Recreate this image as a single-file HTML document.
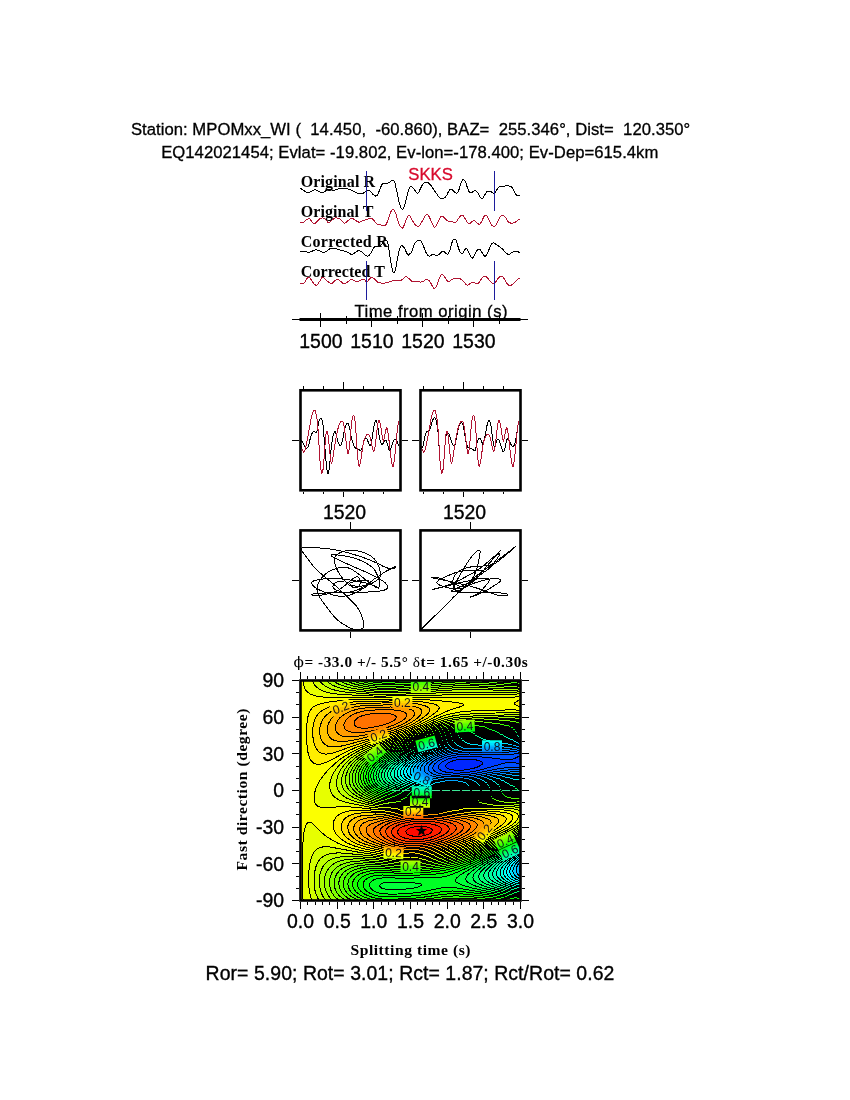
<!DOCTYPE html><html><head><meta charset="utf-8"><title>SKKS splitting measurement MPOMxx_WI</title>
<style>
html,body{margin:0;padding:0;background:#fff}
svg{display:block}
text{font-family:"Liberation Sans",sans-serif;fill:#000;white-space:pre}
.tb{font-family:"Liberation Serif",serif;font-weight:bold}
.h12{font-size:16.67px;stroke:#000;stroke-width:.3px}
.h14{font-size:19.44px;stroke:#000;stroke-width:.35px}
.ln{fill:none;stroke:#000;stroke-width:1;shape-rendering:crispEdges}
.fr{fill:none;stroke:#000;stroke-width:2.6}
</style></head><body>
<svg width="850" height="1100" viewBox="0 0 850 1100">
<rect width="850" height="1100" fill="#fff"/>
<text class="h12" x="410.55" y="135" text-anchor="middle" textLength="559.3" lengthAdjust="spacing">Station: MPOMxx_WI (  14.450,  -60.860), BAZ=  255.346°, Dist=  120.350°</text>
<text class="h12" x="409.75" y="157.6" text-anchor="middle" textLength="497.2" lengthAdjust="spacing">EQ142021454; Evlat= -19.802, Ev-lon=-178.400; Ev-Dep=615.4km</text>
<g id="seis">
<text class="tb" style="font-size:16px" x="300.8" y="186.5" textLength="74.3" lengthAdjust="spacing">Original R</text>
<text class="tb" style="font-size:16px" x="300.8" y="216.5" textLength="72.6" lengthAdjust="spacing">Original T</text>
<text class="tb" style="font-size:16px" x="300.8" y="246.5" textLength="87" lengthAdjust="spacing">Corrected R</text>
<text class="tb" style="font-size:16px" x="300.8" y="276.5" textLength="84.2" lengthAdjust="spacing">Corrected T</text>
<text class="h12" x="408.3" y="179.8" style="fill:#d80a2c;stroke:#d80a2c">SKKS</text>
<path class="ln" d="M300.4,188.3 300.9,188.6 301.4,189.0 301.9,189.3 302.4,189.7 302.9,190.0 303.4,190.3 303.9,190.7 304.4,191.0 304.9,191.3 305.4,191.7 305.9,191.9 306.4,192.2 306.9,192.4 307.4,192.5 307.9,192.5 308.4,192.5 308.9,192.4 309.4,192.3 309.9,192.1 310.4,191.9 310.9,191.7 311.4,191.4 311.9,191.2 312.4,190.9 312.9,190.6 313.4,190.2 313.9,190.0 314.4,189.8 314.9,189.7 315.4,189.7 315.9,189.9 316.4,190.1 316.9,190.3 317.4,190.6 317.9,190.9 318.4,191.2 318.9,191.4 319.4,191.7 319.9,191.9 320.4,192.1 320.9,192.3 321.4,192.4 321.9,192.5 322.4,192.5 322.9,192.5 323.4,192.3 323.9,192.0 324.4,191.7 324.9,191.4 325.4,191.1 325.9,190.8 326.4,190.5 326.9,190.1 327.4,189.8 327.9,189.6 328.4,189.4 328.9,189.3 329.4,189.3 329.9,189.4 330.4,189.5 330.9,189.6 331.4,189.8 331.9,189.9 332.4,190.0 332.9,190.1 333.4,190.1 333.9,190.1 334.4,190.1 334.9,190.0 335.4,189.8 335.9,189.7 336.4,189.6 336.9,189.4 337.4,189.3 337.9,189.2 338.4,189.0 338.9,188.9 339.4,188.8 339.9,188.7 340.4,188.6 340.9,188.5 341.4,188.4 341.9,188.4 342.4,188.3 342.9,188.3 343.4,188.3 343.9,188.3 344.4,188.3 344.9,188.4 345.4,188.4 345.9,188.5 346.4,188.6 346.9,188.6 347.4,188.7 347.9,188.9 348.4,189.0 348.9,189.2 349.4,189.4 349.9,189.7 350.4,189.9 350.9,190.1 351.4,190.4 351.9,190.6 352.4,190.9 352.9,191.1 353.4,191.4 353.9,191.6 354.4,191.9 354.9,192.1 355.4,192.4 355.9,192.6 356.4,192.8 356.9,193.0 357.4,193.2 357.9,193.4 358.4,193.6 358.9,193.7 359.4,193.8 359.9,193.9 360.4,193.9 360.9,193.9 361.4,193.9 361.9,193.7 362.4,193.5 362.9,193.3 363.4,193.0 363.9,192.7 364.4,192.4 364.9,192.0 365.4,191.5 365.9,191.1 366.4,190.7 366.9,190.4 367.4,190.4 367.9,190.4 368.4,190.5 368.9,190.7 369.4,190.9 369.9,191.1 370.4,191.5 370.9,192.0 371.4,192.5 371.9,193.1 372.4,193.7 372.9,194.2 373.4,194.7 373.9,195.1 374.4,195.5 374.9,195.8 375.4,196.0 375.9,196.1 376.4,196.0 376.9,195.6 377.4,194.9 377.9,194.1 378.4,193.1 378.9,191.9 379.4,190.4 379.9,189.0 380.4,187.7 380.9,186.6 381.4,185.6 381.9,184.7 382.4,184.0 382.9,183.5 383.4,183.3 383.9,183.2 384.4,183.2 384.9,183.3 385.4,183.3 385.9,183.3 386.4,183.4 386.9,183.3 387.4,183.2 387.9,183.1 388.4,182.9 388.9,182.7 389.4,182.4 389.9,182.0 390.4,181.6 390.9,181.1 391.4,180.7 391.9,180.4 392.4,180.3 392.9,180.2 393.4,180.4 393.9,180.9 394.4,181.6 394.9,182.9 395.4,184.9 395.9,187.2 396.4,189.5 396.9,191.9 397.4,194.3 397.9,196.6 398.4,198.8 398.9,201.1 399.4,203.2 399.9,205.0 400.4,206.4 400.9,207.6 401.4,208.5 401.9,209.2 402.4,209.5 402.9,209.3 403.4,208.6 403.9,207.5 404.4,206.1 404.9,204.4 405.4,202.5 405.9,200.3 406.4,198.1 406.9,196.1 407.4,194.1 407.9,192.1 408.4,190.5 408.9,189.2 409.4,188.1 409.9,187.2 410.4,186.6 410.9,186.4 411.4,186.5 411.9,186.7 412.4,187.1 412.9,187.6 413.4,188.2 413.9,188.8 414.4,189.6 414.9,190.4 415.4,191.2 415.9,191.9 416.4,192.6 416.9,193.0 417.4,193.2 417.9,193.2 418.4,192.7 418.9,191.9 419.4,190.8 419.9,189.7 420.4,188.6 420.9,187.6 421.4,186.6 421.9,185.6 422.4,184.7 422.9,183.9 423.4,183.3 423.9,183.0 424.4,182.7 424.9,182.4 425.4,182.3 425.9,182.2 426.4,182.2 426.9,182.3 427.4,182.5 427.9,182.7 428.4,183.0 428.9,183.4 429.4,183.8 429.9,184.2 430.4,184.8 430.9,185.4 431.4,186.1 431.9,186.9 432.4,187.7 432.9,188.5 433.4,189.2 433.9,189.9 434.4,190.6 434.9,191.3 435.4,192.0 435.9,192.7 436.4,193.4 436.9,194.1 437.4,194.8 437.9,195.5 438.4,196.3 438.9,197.0 439.4,197.5 439.9,198.0 440.4,198.2 440.9,198.3 441.4,198.4 441.9,198.4 442.4,198.4 442.9,198.4 443.4,198.3 443.9,198.2 444.4,197.9 444.9,197.6 445.4,197.1 445.9,196.5 446.4,195.8 446.9,195.0 447.4,194.0 447.9,192.8 448.4,191.8 448.9,191.0 449.4,190.3 449.9,189.8 450.4,189.4 450.9,189.3 451.4,189.4 451.9,189.6 452.4,189.9 452.9,190.3 453.4,190.8 453.9,191.3 454.4,191.8 454.9,192.3 455.4,192.7 455.9,193.1 456.4,193.2 456.9,193.1 457.4,192.7 457.9,192.0 458.4,191.0 458.9,189.9 459.4,188.2 459.9,186.4 460.4,184.6 460.9,183.1 461.4,181.9 461.9,180.9 462.4,180.1 462.9,179.6 463.4,179.5 463.9,179.8 464.4,180.2 464.9,180.9 465.4,181.8 465.9,183.0 466.4,184.5 466.9,186.2 467.4,187.8 467.9,189.1 468.4,190.2 468.9,191.2 469.4,192.0 469.9,192.5 470.4,192.9 470.9,192.9 471.4,192.8 471.9,192.5 472.4,192.1 472.9,191.7 473.4,191.3 473.9,190.9 474.4,190.6 474.9,190.4 475.4,190.5 475.9,190.7 476.4,191.2 476.9,191.7 477.4,192.3 477.9,193.1 478.4,194.0 478.9,194.9 479.4,195.8 479.9,196.6 480.4,197.3 480.9,198.0 481.4,198.4 481.9,198.6 482.4,198.4 482.9,197.9 483.4,197.2 483.9,196.4 484.4,195.5 484.9,194.6 485.4,193.7 485.9,192.9 486.4,192.3 486.9,191.8 487.4,191.5 487.9,191.2 488.4,191.1 488.9,191.1 489.4,191.2 489.9,191.3 490.4,191.5 490.9,191.7 491.4,192.0 491.9,192.3 492.4,192.6 492.9,192.9 493.4,193.2 493.9,193.2 494.4,193.1 494.9,192.7 495.4,192.1 495.9,191.4 496.4,190.6 496.9,189.7 497.4,188.8 497.9,187.9 498.4,187.4 498.9,187.1 499.4,186.8 499.9,186.6 500.4,186.5 500.9,186.5 501.4,186.4 501.9,186.4 502.4,186.4 502.9,186.3 503.4,186.2 503.9,186.2 504.4,186.1 504.9,186.1 505.4,186.0 505.9,185.9 506.4,185.9 506.9,185.9 507.4,185.9 507.9,185.9 508.4,185.9 508.9,186.0 509.4,186.0 509.9,186.1 510.4,186.3 510.9,186.5 511.4,186.8 511.9,187.3 512.4,188.0 512.9,188.8 513.4,189.7 513.9,190.7 514.4,191.8 514.9,192.8 515.4,193.6 515.9,194.3 516.4,194.8 516.9,195.2 517.4,195.4 517.9,195.4 518.4,195.5 518.9,195.5 519.4,195.4 519.9,195.4"/>
<path class="ln" style="stroke:#b01432" d="M300.4,222.9 300.9,222.9 301.4,222.9 301.9,222.8 302.4,222.7 302.9,222.5 303.4,222.2 303.9,221.9 304.4,221.6 304.9,221.1 305.4,220.7 305.9,220.2 306.4,219.8 306.9,219.4 307.4,219.1 307.9,218.9 308.4,218.7 308.9,218.6 309.4,218.7 309.9,219.1 310.4,219.7 310.9,220.3 311.4,220.9 311.9,221.6 312.4,222.2 312.9,222.8 313.4,223.3 313.9,223.6 314.4,223.6 314.9,223.4 315.4,223.0 315.9,222.5 316.4,222.0 316.9,221.5 317.4,221.0 317.9,220.5 318.4,219.9 318.9,219.5 319.4,219.0 319.9,218.7 320.4,218.4 320.9,218.2 321.4,218.1 321.9,218.0 322.4,217.9 322.9,217.9 323.4,218.0 323.9,218.1 324.4,218.5 324.9,218.9 325.4,219.3 325.9,219.9 326.4,220.4 326.9,221.0 327.4,221.7 327.9,222.3 328.4,222.7 328.9,222.9 329.4,222.8 329.9,222.4 330.4,221.9 330.9,221.3 331.4,220.7 331.9,220.2 332.4,219.7 332.9,219.3 333.4,219.0 333.9,218.6 334.4,218.4 334.9,218.2 335.4,218.0 335.9,217.9 336.4,217.9 336.9,217.9 337.4,218.0 337.9,218.1 338.4,218.2 338.9,218.4 339.4,218.7 339.9,219.1 340.4,219.5 340.9,220.0 341.4,220.5 341.9,221.0 342.4,221.6 342.9,222.1 343.4,222.6 343.9,223.0 344.4,223.2 344.9,223.1 345.4,222.9 345.9,222.6 346.4,222.2 346.9,221.8 347.4,221.3 347.9,220.8 348.4,220.4 348.9,219.9 349.4,219.5 349.9,219.1 350.4,218.8 350.9,218.6 351.4,218.6 351.9,218.6 352.4,218.7 352.9,218.8 353.4,219.0 353.9,219.2 354.4,219.4 354.9,219.7 355.4,220.1 355.9,220.5 356.4,221.0 356.9,221.3 357.4,221.6 357.9,221.8 358.4,222.0 358.9,222.2 359.4,222.2 359.9,222.1 360.4,221.9 360.9,221.7 361.4,221.5 361.9,221.2 362.4,220.9 362.9,220.7 363.4,220.5 363.9,220.4 364.4,220.2 364.9,220.0 365.4,219.9 365.9,219.7 366.4,219.6 366.9,219.4 367.4,219.2 367.9,219.0 368.4,218.8 368.9,218.7 369.4,218.5 369.9,218.4 370.4,218.3 370.9,218.3 371.4,218.4 371.9,218.6 372.4,219.0 372.9,219.5 373.4,220.0 373.9,220.6 374.4,221.1 374.9,221.7 375.4,222.3 375.9,222.8 376.4,223.4 376.9,223.8 377.4,224.2 377.9,224.4 378.4,224.6 378.9,224.7 379.4,224.7 379.9,224.8 380.4,224.9 380.9,224.9 381.4,225.1 381.9,225.2 382.4,225.4 382.9,225.6 383.4,225.7 383.9,225.8 384.4,225.8 384.9,225.6 385.4,225.2 385.9,224.6 386.4,223.8 386.9,222.8 387.4,221.7 387.9,220.5 388.4,218.9 388.9,217.2 389.4,215.6 389.9,214.1 390.4,212.8 390.9,211.8 391.4,210.9 391.9,210.2 392.4,209.7 392.9,209.5 393.4,209.5 393.9,209.9 394.4,210.6 394.9,211.5 395.4,212.6 395.9,214.0 396.4,215.7 396.9,217.5 397.4,219.3 397.9,220.9 398.4,222.3 398.9,223.5 399.4,224.6 399.9,225.6 400.4,226.4 400.9,227.1 401.4,227.7 401.9,228.1 402.4,228.2 402.9,227.8 403.4,226.8 403.9,225.7 404.4,224.4 404.9,223.2 405.4,221.9 405.9,220.5 406.4,219.3 406.9,218.0 407.4,217.0 407.9,215.9 408.4,215.2 408.9,215.1 409.4,215.4 409.9,216.1 410.4,216.9 410.9,217.8 411.4,218.7 411.9,219.5 412.4,220.4 412.9,221.3 413.4,222.2 413.9,223.0 414.4,223.7 414.9,224.3 415.4,224.8 415.9,225.3 416.4,225.7 416.9,226.1 417.4,226.3 417.9,226.4 418.4,226.4 418.9,226.2 419.4,225.7 419.9,225.1 420.4,224.3 420.9,223.5 421.4,222.7 421.9,221.8 422.4,220.9 422.9,219.9 423.4,218.9 423.9,218.0 424.4,217.1 424.9,216.4 425.4,215.7 425.9,215.1 426.4,214.6 426.9,214.4 427.4,214.5 427.9,215.0 428.4,215.6 428.9,216.3 429.4,217.2 429.9,218.2 430.4,219.4 430.9,220.6 431.4,221.9 431.9,223.0 432.4,224.0 432.9,225.1 433.4,226.0 433.9,226.7 434.4,227.1 434.9,227.1 435.4,226.6 435.9,225.9 436.4,225.0 436.9,224.1 437.4,223.1 437.9,222.1 438.4,221.0 438.9,219.9 439.4,219.0 439.9,218.2 440.4,217.5 440.9,216.8 441.4,216.4 441.9,216.1 442.4,216.1 442.9,216.4 443.4,216.7 443.9,217.2 444.4,217.7 444.9,218.3 445.4,218.8 445.9,219.3 446.4,219.8 446.9,220.3 447.4,220.8 447.9,221.1 448.4,221.4 448.9,221.5 449.4,221.5 449.9,221.5 450.4,221.4 450.9,221.4 451.4,221.4 451.9,221.4 452.4,221.5 452.9,221.7 453.4,222.1 453.9,222.4 454.4,222.7 454.9,222.9 455.4,222.8 455.9,222.4 456.4,221.8 456.9,221.0 457.4,220.2 457.9,219.5 458.4,218.7 458.9,218.0 459.4,217.4 459.9,216.7 460.4,216.2 460.9,215.7 461.4,215.4 461.9,215.2 462.4,215.1 462.9,215.4 463.4,216.0 463.9,216.6 464.4,217.3 464.9,218.2 465.4,219.2 465.9,220.1 466.4,221.1 466.9,221.9 467.4,222.4 467.9,222.9 468.4,223.3 468.9,223.5 469.4,223.6 469.9,223.6 470.4,223.3 470.9,222.8 471.4,222.2 471.9,221.6 472.4,221.3 472.9,221.0 473.4,220.8 473.9,220.8 474.4,220.8 474.9,221.0 475.4,221.4 475.9,221.8 476.4,222.3 476.9,222.8 477.4,223.2 477.9,223.7 478.4,224.0 478.9,224.3 479.4,224.2 479.9,223.9 480.4,223.4 480.9,222.6 481.4,221.8 481.9,220.9 482.4,219.9 482.9,218.8 483.4,217.8 483.9,216.8 484.4,216.1 484.9,215.6 485.4,215.2 485.9,215.1 486.4,215.4 486.9,216.1 487.4,216.9 487.9,217.8 488.4,218.8 488.9,219.8 489.4,220.9 489.9,222.0 490.4,223.0 490.9,223.9 491.4,224.6 491.9,225.2 492.4,225.7 492.9,226.1 493.4,226.3 493.9,226.4 494.4,226.3 494.9,226.0 495.4,225.5 495.9,224.9 496.4,224.2 496.9,223.4 497.4,222.5 497.9,221.5 498.4,220.3 498.9,219.3 499.4,218.3 499.9,217.5 500.4,216.8 500.9,216.1 501.4,215.6 501.9,215.3 502.4,215.1 502.9,215.2 503.4,215.4 503.9,215.8 504.4,216.2 504.9,216.8 505.4,217.4 505.9,218.1 506.4,219.0 506.9,219.8 507.4,220.6 507.9,221.3 508.4,221.8 508.9,222.2 509.4,222.5 509.9,222.8 510.4,223.0 510.9,223.1 511.4,223.2 511.9,223.2 512.4,223.1 512.9,223.0 513.4,222.9 513.9,222.7 514.4,222.5 514.9,222.3 515.4,222.0 515.9,221.7 516.4,221.3 516.9,220.9 517.4,220.5 517.9,220.1 518.4,219.8 518.9,219.5 519.4,219.3 519.9,219.1"/>
<path class="ln" d="M300.4,251.3 300.9,251.2 301.4,251.1 301.9,251.0 302.4,251.0 302.9,251.0 303.4,251.1 303.9,251.1 304.4,251.2 304.9,251.3 305.4,251.4 305.9,251.5 306.4,251.7 306.9,251.9 307.4,252.0 307.9,252.2 308.4,252.2 308.9,252.3 309.4,252.3 309.9,252.2 310.4,252.0 310.9,251.8 311.4,251.5 311.9,251.3 312.4,251.0 312.9,250.8 313.4,250.6 313.9,250.4 314.4,250.2 314.9,250.1 315.4,250.0 315.9,249.9 316.4,249.9 316.9,249.9 317.4,250.0 317.9,250.1 318.4,250.3 318.9,250.5 319.4,250.8 319.9,251.0 320.4,251.3 320.9,251.5 321.4,251.7 321.9,251.9 322.4,252.0 322.9,252.2 323.4,252.3 323.9,252.3 324.4,252.2 324.9,252.1 325.4,251.9 325.9,251.6 326.4,251.3 326.9,251.0 327.4,250.7 327.9,250.3 328.4,249.9 328.9,249.4 329.4,249.0 329.9,248.7 330.4,248.4 330.9,248.3 331.4,248.2 331.9,248.1 332.4,248.0 332.9,248.0 333.4,248.0 333.9,248.1 334.4,248.1 334.9,248.3 335.4,248.4 335.9,248.6 336.4,248.8 336.9,249.0 337.4,249.2 337.9,249.4 338.4,249.6 338.9,249.7 339.4,249.9 339.9,250.1 340.4,250.3 340.9,250.4 341.4,250.5 341.9,250.6 342.4,250.7 342.9,250.8 343.4,250.8 343.9,250.9 344.4,251.0 344.9,251.0 345.4,251.2 345.9,251.3 346.4,251.5 346.9,251.8 347.4,252.1 347.9,252.4 348.4,252.8 348.9,253.1 349.4,253.4 349.9,253.7 350.4,253.9 350.9,254.2 351.4,254.3 351.9,254.4 352.4,254.4 352.9,254.2 353.4,253.9 353.9,253.6 354.4,253.2 354.9,252.8 355.4,252.4 355.9,252.0 356.4,251.6 356.9,251.3 357.4,251.0 357.9,250.9 358.4,250.8 358.9,250.8 359.4,250.9 359.9,251.0 360.4,251.2 360.9,251.4 361.4,251.7 361.9,252.0 362.4,252.5 362.9,252.9 363.4,253.4 363.9,253.9 364.4,254.3 364.9,254.7 365.4,255.1 365.9,255.5 366.4,255.9 366.9,256.1 367.4,256.2 367.9,256.2 368.4,256.0 368.9,255.6 369.4,255.0 369.9,254.4 370.4,253.7 370.9,252.9 371.4,252.0 371.9,251.1 372.4,250.1 372.9,249.2 373.4,248.5 373.9,247.8 374.4,247.2 374.9,246.7 375.4,246.4 375.9,246.3 376.4,246.3 376.9,246.3 377.4,246.3 377.9,246.3 378.4,246.4 378.9,246.3 379.4,246.1 379.9,245.9 380.4,245.5 380.9,245.2 381.4,244.7 381.9,244.1 382.4,243.4 382.9,242.7 383.4,242.0 383.9,241.3 384.4,240.7 384.9,240.2 385.4,240.0 385.9,240.0 386.4,240.3 386.9,240.9 387.4,241.9 387.9,243.5 388.4,246.0 388.9,249.1 389.4,252.4 389.9,256.1 390.4,259.5 390.9,262.6 391.4,265.5 391.9,267.9 392.4,269.8 392.9,271.4 393.4,272.5 393.9,272.9 394.4,272.4 394.9,271.2 395.4,269.5 395.9,267.4 396.4,264.7 396.9,261.8 397.4,259.0 397.9,256.4 398.4,253.9 398.9,251.8 399.4,250.0 399.9,248.5 400.4,247.3 400.9,246.3 401.4,245.7 401.9,245.6 402.4,245.8 402.9,246.2 403.4,246.7 403.9,247.3 404.4,248.1 404.9,249.0 405.4,250.1 405.9,251.3 406.4,252.4 406.9,253.4 407.4,254.4 407.9,255.1 408.4,255.2 408.9,254.5 409.4,253.9 409.9,253.7 410.4,253.5 410.9,253.2 411.4,252.7 411.9,251.6 412.4,250.0 412.9,248.2 413.4,246.6 413.9,245.4 414.4,244.3 414.9,243.3 415.4,242.5 415.9,241.9 416.4,241.3 416.9,240.9 417.4,240.5 417.9,240.2 418.4,240.1 418.9,240.0 419.4,240.1 419.9,240.3 420.4,240.6 420.9,241.0 421.4,241.6 421.9,242.4 422.4,243.5 422.9,244.7 423.4,246.0 423.9,247.3 424.4,248.5 424.9,249.8 425.4,251.0 425.9,252.2 426.4,253.3 426.9,254.1 427.4,254.8 427.9,255.3 428.4,255.8 428.9,256.1 429.4,256.2 429.9,256.2 430.4,256.0 430.9,255.6 431.4,255.2 431.9,254.8 432.4,254.6 432.9,254.5 433.4,254.6 433.9,254.7 434.4,254.8 434.9,255.0 435.4,255.1 435.9,255.2 436.4,255.2 436.9,255.2 437.4,255.1 437.9,255.0 438.4,254.8 438.9,254.6 439.4,254.2 439.9,253.7 440.4,253.0 440.9,252.5 441.4,252.0 441.9,251.6 442.4,251.4 442.9,251.3 443.4,251.3 443.9,251.5 444.4,251.9 444.9,252.4 445.4,252.8 445.9,253.3 446.4,253.7 446.9,254.0 447.4,254.1 447.9,253.9 448.4,253.4 448.9,252.6 449.4,251.5 449.9,250.1 450.4,248.2 450.9,246.1 451.4,244.2 451.9,242.8 452.4,241.5 452.9,240.5 453.4,239.8 453.9,239.5 454.4,239.4 454.9,239.4 455.4,239.6 455.9,240.0 456.4,241.0 456.9,242.6 457.4,244.4 457.9,246.1 458.4,247.7 458.9,249.2 459.4,250.5 459.9,251.7 460.4,252.5 460.9,253.1 461.4,253.6 461.9,253.9 462.4,253.7 462.9,253.2 463.4,252.3 463.9,251.3 464.4,250.5 464.9,249.7 465.4,249.1 465.9,248.6 466.4,248.5 466.9,248.8 467.4,249.6 467.9,250.6 468.4,251.7 468.9,252.7 469.4,253.8 469.9,254.8 470.4,255.8 470.9,256.6 471.4,257.3 471.9,257.9 472.4,258.1 472.9,257.7 473.4,257.0 473.9,256.1 474.4,255.2 474.9,254.2 475.4,253.3 475.9,252.3 476.4,251.5 476.9,250.7 477.4,250.2 477.9,249.7 478.4,249.4 478.9,249.2 479.4,249.2 479.9,249.6 480.4,250.1 480.9,250.8 481.4,251.5 481.9,252.3 482.4,253.2 482.9,254.1 483.4,254.8 483.9,255.4 484.4,255.9 484.9,256.2 485.4,256.2 485.9,255.8 486.4,255.1 486.9,254.2 487.4,253.2 487.9,252.1 488.4,251.0 488.9,249.7 489.4,248.5 489.9,247.4 490.4,246.3 490.9,245.3 491.4,244.4 491.9,243.8 492.4,243.3 492.9,243.0 493.4,242.8 493.9,242.9 494.4,243.0 494.9,243.3 495.4,243.7 495.9,244.2 496.4,244.6 496.9,245.0 497.4,245.4 497.9,245.7 498.4,246.0 498.9,246.3 499.4,246.6 499.9,246.9 500.4,247.3 500.9,247.7 501.4,248.1 501.9,248.5 502.4,249.0 502.9,249.6 503.4,250.1 503.9,250.6 504.4,251.2 504.9,251.7 505.4,252.2 505.9,252.7 506.4,253.2 506.9,253.6 507.4,253.9 507.9,254.2 508.4,254.4 508.9,254.4 509.4,254.3 509.9,254.0 510.4,253.6 510.9,253.2 511.4,252.9 511.9,252.5 512.4,252.2 512.9,251.9 513.4,251.6 513.9,251.4 514.4,251.3 514.9,251.2 515.4,251.2 515.9,251.2 516.4,251.2 516.9,251.2 517.4,251.3 517.9,251.6 518.4,251.9 518.9,252.4 519.4,253.1"/>
<path class="ln" style="stroke:#b01432" d="M300.4,283.3 300.9,283.6 301.4,283.8 301.9,283.8 302.4,283.8 302.9,283.7 303.4,283.5 303.9,283.1 304.4,282.6 304.9,281.9 305.4,281.2 305.9,280.5 306.4,279.7 306.9,278.8 307.4,278.0 307.9,277.4 308.4,277.1 308.9,277.2 309.4,277.5 309.9,278.0 310.4,278.6 310.9,279.3 311.4,280.0 311.9,280.8 312.4,281.6 312.9,282.4 313.4,283.1 313.9,283.7 314.4,284.2 314.9,284.6 315.4,285.0 315.9,285.2 316.4,285.1 316.9,284.9 317.4,284.5 317.9,283.9 318.4,283.3 318.9,282.5 319.4,281.8 319.9,280.9 320.4,280.0 320.9,279.1 321.4,278.4 321.9,277.8 322.4,277.5 322.9,277.4 323.4,277.6 323.9,278.0 324.4,278.5 324.9,279.0 325.4,279.5 325.9,280.0 326.4,280.5 326.9,280.9 327.4,281.3 327.9,281.7 328.4,282.0 328.9,282.3 329.4,282.6 329.9,282.9 330.4,283.1 330.9,283.3 331.4,283.4 331.9,283.3 332.4,283.1 332.9,282.7 333.4,282.3 333.9,281.8 334.4,281.3 334.9,280.8 335.4,280.4 335.9,280.1 336.4,279.8 336.9,279.6 337.4,279.5 337.9,279.6 338.4,279.8 338.9,280.1 339.4,280.4 339.9,280.8 340.4,281.2 340.9,281.6 341.4,282.0 341.9,282.4 342.4,282.8 342.9,283.2 343.4,283.5 343.9,283.7 344.4,283.8 344.9,283.7 345.4,283.5 345.9,283.2 346.4,282.9 346.9,282.5 347.4,282.1 347.9,281.7 348.4,281.3 348.9,280.9 349.4,280.5 349.9,280.2 350.4,279.9 350.9,279.6 351.4,279.5 351.9,279.5 352.4,279.7 352.9,279.8 353.4,280.1 353.9,280.3 354.4,280.6 354.9,280.8 355.4,281.1 355.9,281.3 356.4,281.5 356.9,281.6 357.4,281.6 357.9,281.6 358.4,281.4 358.9,281.2 359.4,280.9 359.9,280.6 360.4,280.4 360.9,280.1 361.4,279.9 361.9,279.7 362.4,279.5 362.9,279.4 363.4,279.4 363.9,279.4 364.4,279.6 364.9,280.2 365.4,280.8 365.9,281.4 366.4,281.7 366.9,281.6 367.4,281.3 367.9,280.9 368.4,280.3 368.9,279.8 369.4,279.3 369.9,278.8 370.4,278.3 370.9,277.8 371.4,277.5 371.9,277.4 372.4,277.5 372.9,277.8 373.4,278.2 373.9,278.6 374.4,279.1 374.9,279.6 375.4,280.1 375.9,280.6 376.4,281.0 376.9,281.5 377.4,281.8 377.9,282.2 378.4,282.4 378.9,282.6 379.4,282.7 379.9,282.8 380.4,282.9 380.9,283.0 381.4,283.0 381.9,283.0 382.4,283.1 382.9,283.1 383.4,283.1 383.9,283.0 384.4,283.0 384.9,283.0 385.4,282.9 385.9,282.9 386.4,282.8 386.9,282.8 387.4,282.7 387.9,282.5 388.4,282.4 388.9,282.2 389.4,282.0 389.9,281.8 390.4,281.6 390.9,281.4 391.4,281.2 391.9,281.0 392.4,280.8 392.9,280.7 393.4,280.6 393.9,280.5 394.4,280.5 394.9,280.5 395.4,280.6 395.9,280.6 396.4,280.7 396.9,280.8 397.4,280.9 397.9,280.9 398.4,280.9 398.9,281.0 399.4,280.9 399.9,280.9 400.4,280.7 400.9,280.4 401.4,280.1 401.9,279.8 402.4,279.4 402.9,278.9 403.4,278.5 403.9,278.0 404.4,277.6 404.9,277.1 405.4,276.8 405.9,276.6 406.4,276.7 406.9,277.0 407.4,277.6 407.9,278.1 408.4,278.4 408.9,278.6 409.4,278.8 409.9,279.3 410.4,279.9 410.9,280.4 411.4,280.8 411.9,281.2 412.4,281.5 412.9,281.7 413.4,281.9 413.9,281.9 414.4,281.8 414.9,281.7 415.4,281.6 415.9,281.4 416.4,281.4 416.9,281.4 417.4,281.4 417.9,281.5 418.4,281.6 418.9,281.8 419.4,281.9 419.9,281.9 420.4,282.0 420.9,282.0 421.4,281.9 421.9,281.8 422.4,281.7 422.9,281.6 423.4,281.4 423.9,281.1 424.4,280.7 424.9,280.3 425.4,279.9 425.9,279.6 426.4,279.5 426.9,279.5 427.4,279.6 427.9,279.8 428.4,280.0 428.9,280.4 429.4,280.9 429.9,281.6 430.4,282.5 430.9,283.4 431.4,284.4 431.9,285.2 432.4,286.1 432.9,287.0 433.4,287.7 433.9,288.2 434.4,288.4 434.9,288.2 435.4,287.7 435.9,287.0 436.4,286.0 436.9,285.0 437.4,283.7 437.9,282.2 438.4,280.7 438.9,279.2 439.4,277.9 439.9,276.9 440.4,275.9 440.9,275.2 441.4,274.6 441.9,274.3 442.4,274.4 442.9,274.7 443.4,275.2 443.9,275.8 444.4,276.5 444.9,277.2 445.4,278.0 445.9,278.8 446.4,279.7 446.9,280.4 447.4,281.0 447.9,281.3 448.4,281.4 448.9,281.3 449.4,281.1 449.9,280.9 450.4,280.5 450.9,280.2 451.4,280.0 451.9,279.6 452.4,279.3 452.9,279.1 453.4,278.8 453.9,278.7 454.4,278.5 454.9,278.5 455.4,278.5 455.9,278.4 456.4,278.4 456.9,278.4 457.4,278.5 457.9,278.5 458.4,278.5 458.9,278.6 459.4,278.7 459.9,278.8 460.4,279.0 460.9,279.2 461.4,279.5 461.9,279.8 462.4,280.2 462.9,280.7 463.4,281.3 463.9,281.9 464.4,282.4 464.9,283.1 465.4,283.7 465.9,284.3 466.4,284.8 466.9,285.1 467.4,285.2 467.9,285.1 468.4,284.8 468.9,284.5 469.4,284.2 469.9,283.8 470.4,283.5 470.9,283.1 471.4,282.8 471.9,282.6 472.4,282.4 472.9,282.4 473.4,282.4 473.9,282.6 474.4,282.8 474.9,283.0 475.4,283.2 475.9,283.5 476.4,283.6 476.9,283.8 477.4,283.8 477.9,283.7 478.4,283.4 478.9,282.8 479.4,282.0 479.9,281.2 480.4,280.5 480.9,279.8 481.4,279.0 481.9,278.3 482.4,277.7 482.9,277.1 483.4,276.7 483.9,276.4 484.4,276.1 484.9,276.0 485.4,276.0 485.9,276.3 486.4,276.7 486.9,277.3 487.4,277.9 487.9,278.4 488.4,279.1 488.9,279.8 489.4,280.4 489.9,281.1 490.4,281.6 490.9,282.1 491.4,282.5 491.9,282.8 492.4,283.1 492.9,283.3 493.4,283.3 493.9,283.3 494.4,283.0 494.9,282.7 495.4,282.3 495.9,281.8 496.4,281.3 496.9,280.5 497.4,279.7 497.9,278.8 498.4,278.1 498.9,277.4 499.4,276.9 499.9,276.5 500.4,276.2 500.9,276.0 501.4,276.0 501.9,276.2 502.4,276.5 502.9,277.0 503.4,277.5 503.9,278.2 504.4,278.9 504.9,279.8 505.4,280.8 505.9,281.8 506.4,282.6 506.9,283.4 507.4,284.0 507.9,284.6 508.4,285.1 508.9,285.4 509.4,285.6 509.9,285.6 510.4,285.5 510.9,285.3 511.4,285.1 511.9,284.8 512.4,284.4 512.9,284.0 513.4,283.6 513.9,283.0 514.4,282.5 514.9,281.9 515.4,281.4 515.9,280.9 516.4,280.4 516.9,279.9 517.4,279.4 517.9,279.0 518.4,278.7 518.9,278.5 519.4,278.3 519.9,278.2 520.4,278.1"/>
<path class="ln" style="stroke:#1c1c9c" d="M366.5,171V211M366.5,261V300"/>
<path class="ln" style="stroke:#1c1c9c" d="M494.3,171V211M494.3,261V300"/>
<text class="h12" x="354.5" y="317" textLength="153" lengthAdjust="spacing">Time from origin (s)</text>
<path class="ln" d="M291.5,319.5H527.5"/>
<path class="fr" style="stroke-width:3" d="M299.5,319.5H520.5"/>
<path class="ln" d="M320.9,312.5V327M346.4,316V323.5M371.9,312.5V327M397.4,316V323.5M422.9,312.5V327M448.4,316V323.5M473.9,312.5V327M499.4,316V323.5"/>
<text class="h14" x="320.9" y="348" text-anchor="middle">1500</text>
<text class="h14" x="371.9" y="348" text-anchor="middle">1510</text>
<text class="h14" x="422.9" y="348" text-anchor="middle">1520</text>
<text class="h14" x="473.9" y="348" text-anchor="middle">1530</text>
</g>
<g id="wave1">
<path class="ln" d="M300.7,441.0 301.1,440.9 301.5,441.0 301.9,441.3 302.3,441.6 302.7,442.2 303.1,443.0 303.5,443.9 303.9,444.8 304.3,445.6 304.7,446.4 305.1,447.1 305.5,447.7 305.9,448.2 306.3,448.5 306.7,448.5 307.1,448.2 307.5,447.7 307.9,447.0 308.3,446.1 308.7,445.0 309.1,443.5 309.5,441.8 309.9,440.0 310.3,438.4 310.7,437.0 311.1,435.7 311.5,434.6 311.9,433.7 312.3,432.9 312.7,432.3 313.1,431.8 313.5,431.5 313.9,431.4 314.3,431.6 314.7,431.8 315.1,432.1 315.5,432.4 315.9,432.5 316.3,432.4 316.7,431.8 317.1,430.4 317.5,428.6 317.9,426.7 318.3,424.7 318.7,422.6 319.1,420.8 319.5,419.6 319.9,418.9 320.3,418.5 320.7,418.3 321.1,418.3 321.5,418.6 321.9,419.4 322.3,420.7 322.7,422.7 323.1,426.2 323.5,430.7 323.9,435.5 324.3,440.4 324.7,445.5 325.1,450.6 325.5,455.4 325.9,460.0 326.3,464.3 326.7,467.8 327.1,470.3 327.5,472.2 327.9,473.3 328.3,473.3 328.7,472.1 329.1,469.8 329.5,466.9 329.9,462.7 330.3,457.8 330.7,453.4 331.1,449.5 331.5,445.9 331.9,442.8 332.3,440.1 332.7,437.7 333.1,435.7 333.5,434.0 333.9,432.9 334.3,432.1 334.7,431.7 335.1,431.8 335.5,432.5 335.9,433.9 336.3,435.5 336.7,437.0 337.1,438.4 337.5,439.9 337.9,441.3 338.3,442.4 338.7,443.4 339.1,444.1 339.5,444.8 339.9,445.2 340.3,445.4 340.7,445.2 341.1,444.7 341.5,443.9 341.9,442.7 342.3,441.4 342.7,439.5 343.1,437.3 343.5,434.9 343.9,432.7 344.3,430.7 344.7,428.9 345.1,427.3 345.5,425.9 345.9,424.9 346.3,424.3 346.7,423.7 347.1,423.4 347.5,423.3 347.9,423.5 348.3,424.1 348.7,425.0 349.1,426.1 349.5,427.7 349.9,429.7 350.3,431.9 350.7,434.1 351.1,436.1 351.5,437.9 351.9,439.6 352.3,441.2 352.7,442.5 353.1,443.7 353.5,444.7 353.9,445.7 354.3,446.5 354.7,447.2 355.1,447.7 355.5,448.0 355.9,448.2 356.3,448.4 356.7,448.5 357.1,448.6 357.5,448.7 357.9,448.9 358.3,449.2 358.7,449.5 359.1,449.8 359.5,450.1 359.9,450.3 360.3,450.4 360.7,450.3 361.1,449.9 361.5,449.3 361.9,448.6 362.3,447.5 362.7,446.0 363.1,444.2 363.5,442.4 363.9,440.8 364.3,439.8 364.7,438.9 365.1,438.3 365.5,438.0 365.9,437.9 366.3,438.2 366.7,438.7 367.1,439.5 367.5,440.4 367.9,441.3 368.3,442.2 368.7,443.3 369.1,444.2 369.5,444.9 369.9,445.4 370.3,445.4 370.7,444.7 371.1,443.4 371.5,441.5 371.9,439.4 372.3,437.0 372.7,434.3 373.1,431.4 373.5,428.5 373.9,426.1 374.3,424.2 374.7,422.7 375.1,421.5 375.5,420.7 375.9,420.4 376.3,420.8 376.7,421.6 377.1,423.0 377.5,424.7 377.9,427.2 378.3,430.3 378.7,433.4 379.1,435.9 379.5,438.0 379.9,439.8 380.3,441.3 380.7,442.5 381.1,443.3 381.5,444.0 381.9,444.3 382.3,444.3 382.7,443.9 383.1,443.3 383.5,442.5 383.9,441.8 384.3,441.3 384.7,440.8 385.1,440.5 385.5,440.3 385.9,440.4 386.3,440.9 386.7,441.9 387.1,443.2 387.5,444.5 387.9,445.9 388.3,447.5 388.7,449.0 389.1,450.2 389.5,450.9 389.9,450.9 390.3,450.2 390.7,449.2 391.1,447.9 391.5,446.6 391.9,445.3 392.3,443.9 392.7,442.7 393.1,441.6 393.5,440.8 393.9,440.1 394.3,439.6 394.7,439.3 395.1,439.2 395.5,439.3 395.9,439.6 396.3,440.2 396.7,440.9 397.1,441.7 397.5,442.5 397.9,443.6 398.3,444.7 398.7,446.0"/>
<path class="ln" style="stroke:#b01432" d="M300.7,444.8 301.1,446.0 301.5,447.3 301.9,448.5 302.3,449.6 302.7,450.7 303.1,451.6 303.5,452.1 303.9,452.3 304.3,451.9 304.7,450.9 305.1,449.5 305.5,447.8 305.9,446.1 306.3,444.4 306.7,442.5 307.1,440.6 307.5,438.5 307.9,436.4 308.3,434.3 308.7,432.1 309.1,429.9 309.5,427.6 309.9,425.2 310.3,423.0 310.7,420.9 311.1,419.0 311.5,417.2 311.9,415.5 312.3,414.1 312.7,412.9 313.1,412.0 313.5,411.3 313.9,410.8 314.3,410.5 314.7,410.4 315.1,410.8 315.5,411.8 315.9,413.2 316.3,414.9 316.7,417.0 317.1,419.8 317.5,423.4 317.9,427.8 318.3,433.5 318.7,440.2 319.1,447.0 319.5,453.3 319.9,459.4 320.3,464.3 320.7,467.9 321.1,470.8 321.5,472.7 321.9,473.4 322.3,473.0 322.7,471.4 323.1,468.9 323.5,465.5 323.9,460.8 324.3,454.8 324.7,448.8 325.1,443.4 325.5,438.5 325.9,434.9 326.3,432.9 326.7,431.8 327.1,431.5 327.5,432.3 327.9,434.4 328.3,437.4 328.7,440.8 329.1,444.9 329.5,449.1 329.9,453.0 330.3,456.7 330.7,459.9 331.1,462.2 331.5,462.9 331.9,462.2 332.3,460.8 332.7,458.8 333.1,456.6 333.5,454.0 333.9,451.2 334.3,448.4 334.7,445.7 335.1,443.2 335.5,440.7 335.9,438.4 336.3,436.2 336.7,434.1 337.1,432.3 337.5,430.6 337.9,429.0 338.3,427.5 338.7,426.2 339.1,425.0 339.5,424.0 339.9,423.2 340.3,422.5 340.7,421.9 341.1,421.5 341.5,421.2 341.9,421.1 342.3,421.2 342.7,421.7 343.1,422.5 343.5,423.6 343.9,425.0 344.3,427.2 344.7,430.1 345.1,433.4 345.5,436.7 345.9,440.2 346.3,443.7 346.7,446.9 347.1,449.6 347.5,451.8 347.9,453.3 348.3,453.3 348.7,452.0 349.1,449.6 349.5,446.5 349.9,442.1 350.3,437.0 350.7,432.0 351.1,427.8 351.5,424.1 351.9,420.9 352.3,418.4 352.7,417.0 353.1,416.1 353.5,415.7 353.9,415.9 354.3,417.0 354.7,418.9 355.1,421.6 355.5,425.9 355.9,431.3 356.3,436.9 356.7,443.0 357.1,449.2 357.5,454.6 357.9,459.0 358.3,462.8 358.7,465.5 359.1,466.6 359.5,466.2 359.9,464.9 360.3,463.0 360.7,460.8 361.1,458.1 361.5,455.2 361.9,452.3 362.3,449.6 362.7,447.1 363.1,444.8 363.5,442.7 363.9,441.0 364.3,439.6 364.7,438.4 365.1,437.4 365.5,436.6 365.9,435.9 366.3,435.4 366.7,435.0 367.1,434.6 367.5,434.3 367.9,434.2 368.3,434.1 368.7,434.3 369.1,434.9 369.5,435.7 369.9,436.7 370.3,438.0 370.7,439.5 371.1,441.4 371.5,443.5 371.9,445.5 372.3,447.2 372.7,448.9 373.1,450.3 373.5,451.2 373.9,451.3 374.3,450.5 374.7,448.8 375.1,446.5 375.5,443.7 375.9,440.0 376.3,436.0 376.7,432.3 377.1,429.1 377.5,426.2 377.9,423.7 378.3,422.0 378.7,420.9 379.1,420.4 379.5,420.8 379.9,422.3 380.3,424.3 380.7,426.5 381.1,428.9 381.5,431.5 381.9,434.0 382.3,436.4 382.7,438.8 383.1,440.5 383.5,441.0 383.9,440.0 384.3,438.1 384.7,435.8 385.1,433.7 385.5,431.6 385.9,429.8 386.3,428.5 386.7,427.9 387.1,428.5 387.5,430.1 387.9,432.3 388.3,435.0 388.7,437.9 389.1,441.3 389.5,445.0 389.9,448.7 390.3,452.1 390.7,455.5 391.1,458.7 391.5,461.6 391.9,463.9 392.3,465.3 392.7,466.2 393.1,466.2 393.5,464.9 393.9,462.6 394.3,459.9 394.7,456.6 395.1,452.9 395.5,448.9 395.9,444.9 396.3,440.7 396.7,436.5 397.1,432.5 397.5,429.0 397.9,426.0 398.3,423.4 398.7,421.4"/>
<rect class="fr" x="300.5" y="390.3" width="100.0" height="100.0"/>
<path class="ln" d="M303.5,388.8v-2.5M303.5,491.8v2.5M323.5,388.8v-2.5M323.5,491.8v2.5M343.5,388.8v-7M343.5,491.8v5.5M363.5,388.8v-2.5M363.5,491.8v2.5M383.5,388.8v-2.5M383.5,491.8v2.5M299.0,440.5h-7M402.0,440.5h6"/>
<text class="h14" x="344.5" y="519" text-anchor="middle">1520</text>
</g>
<g id="wave2">
<path class="ln" d="M420.7,444.8 421.1,446.7 421.5,447.8 421.9,448.1 422.3,447.9 422.7,446.9 423.1,445.2 423.5,443.2 423.9,441.3 424.3,439.1 424.7,437.1 425.1,435.3 425.5,434.0 425.9,433.1 426.3,432.4 426.7,431.9 427.1,431.5 427.5,431.3 427.9,431.1 428.3,430.9 428.7,430.8 429.1,430.6 429.5,430.2 429.9,429.6 430.3,428.5 430.7,426.9 431.1,425.2 431.5,423.5 431.9,422.2 432.3,421.0 432.7,420.0 433.1,419.2 433.5,418.6 433.9,418.3 434.3,418.0 434.7,417.9 435.1,418.1 435.5,418.9 435.9,420.0 436.3,421.3 436.7,422.9 437.1,425.1 437.5,427.8 437.9,431.0 438.3,435.1 438.7,440.6 439.1,447.0 439.5,453.2 439.9,459.4 440.3,464.1 440.7,467.5 441.1,470.3 441.5,472.4 441.9,473.1 442.3,472.5 442.7,470.8 443.1,468.3 443.5,465.3 443.9,460.8 444.3,454.8 444.7,448.7 445.1,443.5 445.5,438.9 445.9,436.2 446.3,435.0 446.7,434.3 447.1,433.9 447.5,433.7 447.9,433.6 448.3,433.6 448.7,433.8 449.1,434.1 449.5,434.9 449.9,436.2 450.3,437.8 450.7,439.4 451.1,440.7 451.5,441.8 451.9,442.8 452.3,443.7 452.7,444.5 453.1,445.1 453.5,445.6 453.9,446.0 454.3,446.0 454.7,445.5 455.1,444.3 455.5,442.7 455.9,440.8 456.3,438.9 456.7,436.7 457.1,434.4 457.5,432.2 457.9,430.3 458.3,428.6 458.7,427.0 459.1,425.7 459.5,424.6 459.9,423.9 460.3,423.4 460.7,423.0 461.1,422.7 461.5,422.7 461.9,423.0 462.3,423.5 462.7,424.3 463.1,425.4 463.5,427.0 463.9,429.2 464.3,431.6 464.7,434.0 465.1,436.4 465.5,438.8 465.9,441.1 466.3,443.0 466.7,444.5 467.1,445.7 467.5,446.6 467.9,447.3 468.3,447.8 468.7,448.0 469.1,448.2 469.5,448.3 469.9,448.4 470.3,448.4 470.7,448.5 471.1,448.5 471.5,448.6 471.9,448.8 472.3,449.0 472.7,449.2 473.1,449.5 473.5,449.8 473.9,450.2 474.3,450.5 474.7,450.6 475.1,450.3 475.5,449.2 475.9,447.4 476.3,445.3 476.7,443.6 477.1,442.3 477.5,441.1 477.9,440.1 478.3,439.4 478.7,438.8 479.1,438.4 479.5,438.2 479.9,438.2 480.3,438.5 480.7,439.1 481.1,439.9 481.5,440.9 481.9,442.2 482.3,443.6 482.7,444.5 483.1,444.7 483.5,443.9 483.9,442.1 484.3,440.0 484.7,437.8 485.1,435.6 485.5,433.4 485.9,431.3 486.3,429.2 486.7,427.1 487.1,425.0 487.5,423.3 487.9,422.0 488.3,421.2 488.7,420.7 489.1,420.4 489.5,420.6 489.9,421.4 490.3,422.6 490.7,424.4 491.1,426.9 491.5,430.1 491.9,433.4 492.3,436.5 492.7,439.4 493.1,442.0 493.5,444.2 493.9,445.8 494.3,446.9 494.7,447.2 495.1,446.4 495.5,444.8 495.9,443.0 496.3,441.6 496.7,440.6 497.1,439.8 497.5,439.3 497.9,439.1 498.3,439.3 498.7,439.8 499.1,440.5 499.5,441.3 499.9,442.3 500.3,443.6 500.7,445.1 501.1,446.5 501.5,447.9 501.9,449.1 502.3,450.2 502.7,451.1 503.1,451.6 503.5,451.6 503.9,451.3 504.3,450.6 504.7,449.5 505.1,447.7 505.5,445.4 505.9,443.2 506.3,441.5 506.7,440.3 507.1,439.4 507.5,439.0 507.9,438.9 508.3,439.3 508.7,439.9 509.1,440.6 509.5,441.4 509.9,442.2 510.3,443.1 510.7,444.0 511.1,444.8 511.5,445.4 511.9,445.9 512.3,446.3 512.7,446.6 513.1,446.6 513.5,446.3 513.9,445.7 514.3,444.9 514.7,443.9 515.1,442.5 515.5,440.8 515.9,438.7 516.3,436.5 516.7,433.9 517.1,431.1 517.5,428.2 517.9,425.6 518.3,423.3 518.7,421.4"/>
<path class="ln" style="stroke:#b01432" d="M420.7,444.8 421.1,446.0 421.5,447.3 421.9,448.5 422.3,449.6 422.7,450.7 423.1,451.6 423.5,452.1 423.9,452.3 424.3,451.9 424.7,450.9 425.1,449.5 425.5,447.8 425.9,446.1 426.3,444.4 426.7,442.5 427.1,440.6 427.5,438.5 427.9,436.4 428.3,434.3 428.7,432.1 429.1,429.9 429.5,427.6 429.9,425.2 430.3,423.0 430.7,420.9 431.1,419.0 431.5,417.2 431.9,415.5 432.3,414.1 432.7,412.9 433.1,412.0 433.5,411.3 433.9,410.8 434.3,410.5 434.7,410.4 435.1,410.8 435.5,411.8 435.9,413.2 436.3,414.9 436.7,417.0 437.1,419.8 437.5,423.4 437.9,427.8 438.3,433.5 438.7,440.2 439.1,447.0 439.5,453.3 439.9,459.4 440.3,464.3 440.7,467.9 441.1,470.8 441.5,472.7 441.9,473.4 442.3,473.0 442.7,471.4 443.1,468.9 443.5,465.5 443.9,460.8 444.3,454.8 444.7,448.8 445.1,443.4 445.5,438.5 445.9,434.9 446.3,432.9 446.7,431.8 447.1,431.5 447.5,432.3 447.9,434.4 448.3,437.4 448.7,440.8 449.1,444.9 449.5,449.1 449.9,453.0 450.3,456.7 450.7,459.9 451.1,462.2 451.5,462.9 451.9,462.2 452.3,460.8 452.7,458.8 453.1,456.6 453.5,454.0 453.9,451.2 454.3,448.4 454.7,445.7 455.1,443.2 455.5,440.7 455.9,438.4 456.3,436.2 456.7,434.1 457.1,432.3 457.5,430.6 457.9,429.0 458.3,427.5 458.7,426.2 459.1,425.0 459.5,424.0 459.9,423.2 460.3,422.5 460.7,421.9 461.1,421.5 461.5,421.2 461.9,421.1 462.3,421.2 462.7,421.7 463.1,422.5 463.5,423.6 463.9,425.0 464.3,427.2 464.7,430.1 465.1,433.4 465.5,436.7 465.9,440.2 466.3,443.7 466.7,446.9 467.1,449.6 467.5,451.8 467.9,453.3 468.3,453.3 468.7,452.0 469.1,449.6 469.5,446.5 469.9,442.1 470.3,437.0 470.7,432.0 471.1,427.8 471.5,424.1 471.9,420.9 472.3,418.4 472.7,417.0 473.1,416.1 473.5,415.7 473.9,415.9 474.3,417.0 474.7,418.9 475.1,421.6 475.5,425.9 475.9,431.3 476.3,436.9 476.7,443.0 477.1,449.2 477.5,454.6 477.9,459.0 478.3,462.8 478.7,465.5 479.1,466.6 479.5,466.2 479.9,464.9 480.3,463.0 480.7,460.8 481.1,458.1 481.5,455.2 481.9,452.3 482.3,449.6 482.7,447.1 483.1,444.8 483.5,442.7 483.9,441.0 484.3,439.6 484.7,438.4 485.1,437.4 485.5,436.6 485.9,435.9 486.3,435.4 486.7,435.0 487.1,434.6 487.5,434.3 487.9,434.2 488.3,434.1 488.7,434.3 489.1,434.9 489.5,435.7 489.9,436.7 490.3,438.0 490.7,439.5 491.1,441.4 491.5,443.5 491.9,445.5 492.3,447.2 492.7,448.9 493.1,450.3 493.5,451.2 493.9,451.3 494.3,450.5 494.7,448.8 495.1,446.5 495.5,443.7 495.9,440.0 496.3,436.0 496.7,432.3 497.1,429.1 497.5,426.2 497.9,423.7 498.3,422.0 498.7,420.9 499.1,420.4 499.5,420.8 499.9,422.3 500.3,424.3 500.7,426.5 501.1,428.9 501.5,431.5 501.9,434.0 502.3,436.4 502.7,438.8 503.1,440.5 503.5,441.0 503.9,440.0 504.3,438.1 504.7,435.8 505.1,433.7 505.5,431.6 505.9,429.8 506.3,428.5 506.7,427.9 507.1,428.5 507.5,430.1 507.9,432.3 508.3,435.0 508.7,437.9 509.1,441.3 509.5,445.0 509.9,448.7 510.3,452.1 510.7,455.5 511.1,458.7 511.5,461.6 511.9,463.9 512.3,465.3 512.7,466.2 513.1,466.2 513.5,464.9 513.9,462.6 514.3,459.9 514.7,456.6 515.1,452.9 515.5,448.9 515.9,444.9 516.3,440.7 516.7,436.5 517.1,432.5 517.5,429.0 517.9,426.0 518.3,423.4 518.7,421.4"/>
<rect class="fr" x="420.5" y="390.3" width="100.0" height="100.0"/>
<path class="ln" d="M423.5,388.8v-2.5M423.5,491.8v2.5M443.5,388.8v-2.5M443.5,491.8v2.5M463.5,388.8v-7M463.5,491.8v5.5M483.5,388.8v-2.5M483.5,491.8v2.5M503.5,388.8v-2.5M503.5,491.8v2.5M419.0,440.5h-7M522.0,440.5h6"/>
<text class="h14" x="464.5" y="519" text-anchor="middle">1520</text>
</g>
<g id="pm1">
<path class="ln" d="M344.1,581.3 342.9,581.2 341.7,581.1 340.5,581.2 339.4,581.4 338.3,581.7 337.2,582.0 336.2,582.4 335.2,583.0 334.4,583.7 333.7,584.5 333.2,585.4 332.9,586.3 332.9,587.1 333.2,587.9 333.9,588.6 334.9,589.3 336.2,590.0 337.6,590.6 339.2,591.2 340.8,591.7 342.4,592.1 344.1,592.4 345.7,592.5 347.5,592.5 349.3,592.2 351.2,591.9 353.1,591.4 355.0,590.8 357.0,590.0 359.0,589.2 361.0,588.3 363.0,587.2 365.1,585.9 367.3,584.4 369.5,582.8 371.7,581.1 373.8,579.4 375.9,577.9 378.0,576.5 379.9,575.2 381.8,574.0 383.5,572.9 385.1,571.9 386.7,570.9 388.3,570.1 389.7,569.4 390.9,568.8 392.0,568.2 392.8,567.7 393.6,567.3 394.2,567.1 394.8,566.9 395.2,566.9 395.5,567.0 395.6,567.2 395.6,567.5 395.3,567.8 394.7,568.1 393.8,568.3 392.6,568.4 391.2,568.5 389.6,568.4 387.8,568.1 385.7,567.4 383.2,566.3 380.3,564.8 376.9,563.1 373.0,561.3 368.6,559.5 363.4,557.6 357.4,555.6 350.9,553.6 344.5,551.9 338.4,550.4 332.4,549.3 326.6,548.6 321.2,548.1 316.4,547.7 312.6,547.4 309.4,547.3 306.6,547.2 304.3,547.3 302.5,547.6 301.4,548.2 301.1,549.0 301.4,550.2 302.5,551.8 304.1,553.9 306.3,556.9 309.1,560.7 312.3,564.9 316.1,569.4 321.1,573.8 326.7,578.4 332.5,583.2 338.0,588.0 343.1,592.8 348.0,597.5 352.6,601.9 356.6,606.3 359.5,610.6 361.3,614.6 362.6,618.3 363.5,621.4 363.9,623.9 363.8,626.0 363.1,627.7 361.4,629.0 359.1,629.8 356.3,629.9 353.2,629.2 350.0,627.9 346.3,625.9 342.3,623.5 338.4,620.7 334.6,617.1 331.1,612.8 327.6,608.3 324.3,603.9 321.3,599.8 319.0,596.1 317.5,592.6 316.9,589.3 317.2,586.2 318.1,583.4 319.5,580.8 321.2,578.5 323.1,576.4 325.1,574.4 327.3,572.6 329.7,571.0 332.3,569.8 335.0,568.9 337.6,568.1 340.3,567.6 342.7,567.3 345.1,567.2 347.4,567.6 349.7,568.4 351.9,569.5 354.1,570.9 356.1,572.3 358.1,573.8 360.0,575.2 361.8,576.6 363.5,578.0 365.1,579.4 366.6,580.7 368.0,581.9 369.4,583.0 370.7,584.0 371.9,584.8 373.1,585.5 374.1,586.2 375.0,586.8 375.8,587.3 376.5,587.6 377.2,587.8 377.8,587.8 378.3,587.6 378.8,587.2 379.2,586.5 379.4,585.7 379.6,584.7 379.6,583.6 379.5,582.4 379.2,580.9 378.7,579.1 378.1,577.0 377.2,574.8 376.1,572.6 374.9,570.4 373.4,568.4 371.4,566.5 368.9,564.8 366.0,563.1 363.0,561.6 359.9,560.2 356.8,558.9 353.6,557.8 350.3,557.0 346.9,556.4 343.8,555.8 340.9,555.4 338.4,555.0 336.0,554.8 333.9,554.7 332.2,554.8 331.2,555.1 331.1,555.6 331.8,556.3 333.3,557.2 335.4,558.2 337.9,559.4 340.9,560.9 344.6,562.7 349.1,564.7 353.8,566.8 358.7,568.9 363.3,570.9 367.4,572.8 371.0,574.6 374.5,576.3 377.7,577.9 380.5,579.5 382.8,580.9 384.6,582.3 385.8,583.5 386.7,584.6 387.3,585.7 387.6,586.6 387.7,587.6 387.3,588.4 386.3,589.2 384.9,589.9 382.9,590.5 380.5,591.0 377.4,591.4 373.3,591.7 368.5,592.0 363.3,592.1 358.0,592.3 352.5,592.4 346.7,592.5 340.9,592.6 335.3,592.7 330.3,592.8 326.0,593.0 322.0,593.2 318.3,593.4 315.3,593.7 313.0,594.0 311.6,594.3 311.3,594.6 311.8,594.8 312.8,595.1 314.2,595.2 316.0,595.3 318.0,595.3 320.1,595.2 322.5,594.9 325.1,594.4 327.9,593.9 330.7,593.2 333.4,592.4 335.9,591.5 338.2,590.3 340.6,588.8 342.8,587.1 344.9,585.4 346.8,583.7 348.6,582.1 350.1,580.8 351.4,579.8 352.6,578.9 353.7,578.2 354.6,577.6 355.5,577.1 356.2,576.8 356.9,576.6 357.5,576.6 358.0,576.8 358.4,577.3 358.8,577.8 359.1,578.5 359.4,579.3 359.7,580.1 359.9,581.0 360.0,581.8 360.0,582.7 360.0,583.7 359.8,584.6 359.3,585.5 358.7,586.3 357.9,587.0 357.0,587.5 355.9,587.8 354.8,587.9 353.5,587.6 352.0,586.8 350.2,585.7 348.3,584.2 346.4,582.4 344.5,580.4 342.7,578.4 341.0,576.2 339.4,573.9 337.9,571.2 336.5,568.5 335.4,565.7 334.6,563.0 334.2,560.6 334.4,558.5 335.1,556.7 336.4,555.2 338.1,553.8 340.1,552.6 342.4,551.6 345.1,550.9 348.3,550.5 352.0,550.4 355.7,550.7 359.5,551.3 362.9,552.2 365.9,553.4 368.8,554.8 371.5,556.4 374.0,558.6 376.1,561.2 377.7,564.0 378.9,567.0 379.8,569.8 380.4,572.3 380.6,574.4 380.2,576.4 379.1,578.2 377.5,579.8 375.6,581.2 373.6,582.4 371.5,583.5 369.3,584.3 367.0,585.0 364.5,585.6 362.1,586.0 359.8,586.3 357.5,586.3 355.3,586.1 353.1,585.7 351.3,585.1 350.1,584.4 349.7,583.6 350.3,582.9 351.6,582.3 353.3,581.8 355.4,581.4 357.5,581.0 359.6,580.6 361.5,580.4 363.4,580.3 365.3,580.3 366.9,580.4 368.2,580.9 369.0,581.6 369.4,582.6 369.0,583.7 368.0,585.0 366.5,586.3 364.6,587.6 362.3,588.9 359.8,590.4 357.3,591.8 354.4,593.3 351.3,594.5 347.9,595.5 344.5,596.1 341.0,596.3 337.6,596.0 334.3,595.4 331.2,594.5 328.0,593.5 324.9,592.3 322.0,591.1 319.3,589.9 317.0,588.7 315.1,587.4 313.7,586.2 312.6,584.9 311.9,583.7 311.7,582.7 312.3,581.8 313.6,581.0 315.5,580.4 317.9,579.8 320.4,579.4 323.2,579.0 326.3,578.7 329.7,578.5 333.3,578.5 337.1,578.6 340.9,578.9 344.7,579.3 348.6,579.8 352.6,580.4 356.5,581.1 360.4,581.8 364.0,582.5 367.2,583.4 370.1,584.3 372.8,585.3 375.3,586.4 377.4,587.5 379.1,588.7"/>
<rect class="fr" x="300.5" y="530.4" width="100.0" height="100.0"/>
<path class="ln" d="M350.5,528.9v-7M350.5,631.9v6M299.0,580.5h-7M402.0,580.5h6"/>
</g>
<g id="pm2">
<path class="ln" d="M464.1,586.9 462.9,588.9 461.7,590.4 460.5,591.3 459.4,591.8 458.3,591.9 457.2,591.8 456.2,591.3 455.2,590.2 454.4,588.6 453.7,586.8 453.2,584.9 452.9,583.1 452.9,581.2 453.2,579.3 453.9,577.3 454.9,575.4 456.2,573.6 457.6,572.1 459.2,571.0 460.8,570.0 462.4,569.2 464.1,568.6 465.7,568.0 467.5,567.6 469.3,567.2 471.2,566.9 473.1,566.7 475.0,566.5 477.0,566.3 479.0,566.2 481.0,566.1 483.0,566.0 485.1,565.8 487.3,565.5 489.5,565.2 491.7,564.7 493.8,564.0 495.9,562.9 498.0,561.6 499.9,560.1 501.8,558.5 503.5,556.9 505.1,555.3 506.7,554.0 508.3,552.9 509.7,551.7 510.9,550.7 512.0,549.8 512.8,549.0 513.6,548.3 514.2,547.8 514.8,547.4 515.2,547.1 515.5,546.9 515.6,546.7 515.6,546.7 515.3,546.8 514.7,547.2 513.8,547.9 512.6,548.8 511.2,550.0 509.6,551.2 507.8,552.5 505.7,554.1 503.2,556.0 500.3,558.3 496.9,560.9 493.0,563.7 488.6,566.9 483.4,570.6 477.4,575.2 470.9,580.6 464.5,586.6 458.4,592.6 452.4,598.4 446.6,604.3 441.2,609.9 436.4,614.4 432.6,617.9 429.4,621.0 426.6,623.8 424.3,626.2 422.5,628.1 421.4,629.1 421.1,629.5 421.4,629.0 422.5,627.7 424.1,625.9 426.3,623.6 429.1,621.2 432.3,618.4 436.1,614.7 441.1,610.0 446.7,604.4 452.5,598.2 458.0,592.8 463.1,587.9 468.0,583.1 472.6,578.8 476.6,575.7 479.5,573.7 481.3,572.6 482.6,571.8 483.5,571.2 483.9,570.8 483.8,570.5 483.1,570.4 481.4,570.2 479.1,570.2 476.3,570.2 473.2,570.2 470.0,570.4 466.3,570.7 462.3,571.1 458.4,571.9 454.6,573.0 451.1,574.3 447.6,575.8 444.3,577.3 441.3,578.8 439.0,580.1 437.5,581.2 436.9,582.3 437.2,583.3 438.1,584.2 439.5,585.0 441.2,585.8 443.1,586.5 445.1,587.1 447.3,587.6 449.7,588.1 452.3,588.5 455.0,588.8 457.6,588.8 460.3,588.7 462.7,588.1 465.1,587.0 467.4,585.7 469.7,584.1 471.9,582.4 474.1,580.6 476.1,578.8 478.1,576.8 480.0,574.7 481.8,572.6 483.5,570.5 485.1,568.4 486.6,566.5 488.0,564.8 489.4,563.2 490.7,561.7 491.9,560.3 493.1,559.0 494.1,557.9 495.0,556.9 495.8,556.1 496.5,555.5 497.2,555.0 497.8,554.5 498.3,554.2 498.8,553.9 499.2,553.8 499.4,553.8 499.6,554.0 499.6,554.3 499.5,554.8 499.2,555.4 498.7,556.3 498.1,557.2 497.2,558.4 496.1,560.0 494.9,561.8 493.4,564.0 491.4,566.3 488.9,568.6 486.0,570.8 483.0,573.0 479.9,575.3 476.8,577.5 473.6,579.7 470.3,581.8 466.9,583.6 463.8,585.2 460.9,586.5 458.4,587.6 456.0,588.6 453.9,589.5 452.2,590.2 451.2,590.8 451.1,591.2 451.8,591.6 453.3,591.8 455.4,591.9 457.9,592.1 460.9,592.2 464.6,592.2 469.1,592.3 473.8,592.3 478.7,592.4 483.3,592.4 487.4,592.5 491.0,592.6 494.5,592.7 497.7,592.8 500.5,593.0 502.8,593.1 504.6,593.3 505.8,593.5 506.7,593.8 507.3,594.1 507.6,594.4 507.7,594.7 507.3,595.1 506.3,595.4 504.9,595.6 502.9,595.6 500.5,595.5 497.4,595.0 493.3,593.9 488.5,592.3 483.3,590.4 478.0,588.5 472.5,586.7 466.7,585.2 460.9,583.9 455.3,582.7 450.3,581.6 446.0,580.6 442.0,579.7 438.3,579.0 435.3,578.5 433.0,578.0 431.6,577.6 431.3,577.3 431.8,577.1 432.8,577.0 434.2,577.1 436.0,577.4 438.0,577.8 440.1,578.4 442.5,579.1 445.1,580.0 447.9,580.9 450.7,582.1 453.4,583.4 455.9,584.6 458.2,585.7 460.6,586.5 462.8,586.9 464.9,586.7 466.8,585.8 468.6,584.4 470.1,582.6 471.4,580.5 472.6,578.4 473.7,576.4 474.6,574.4 475.5,572.4 476.2,570.3 476.9,568.3 477.5,566.2 478.0,564.2 478.4,562.3 478.8,560.3 479.1,558.4 479.4,556.5 479.7,554.9 479.9,553.6 480.0,552.6 480.0,551.8 480.0,551.2 479.8,550.7 479.3,550.5 478.7,550.4 477.9,550.6 477.0,551.1 475.9,552.0 474.8,553.2 473.5,554.6 472.0,556.3 470.2,558.5 468.3,561.2 466.4,564.2 464.5,567.4 462.7,570.5 461.0,573.3 459.4,576.1 457.9,578.8 456.5,581.3 455.4,583.7 454.6,585.7 454.2,587.4 454.4,588.7 455.1,589.8 456.4,590.5 458.1,590.6 460.1,590.0 462.4,588.9 465.1,587.3 468.3,585.6 472.0,584.0 475.7,582.5 479.5,581.5 482.9,580.6 485.9,579.8 488.8,579.2 491.5,578.8 494.0,578.5 496.1,578.5 497.7,578.6 498.9,578.9 499.8,579.4 500.4,580.0 500.6,580.7 500.2,581.6 499.1,582.4 497.5,583.5 495.6,584.7 493.6,586.0 491.5,587.4 489.3,588.7 487.0,590.1 484.5,591.3 482.1,592.4 479.8,593.6 477.5,594.7 475.3,595.6 473.1,596.4 471.3,597.0 470.1,597.2 469.7,597.2 470.3,597.0 471.6,596.6 473.3,595.9 475.4,595.1 477.5,594.0 479.6,592.5 481.5,590.5 483.4,588.3 485.3,586.1 486.9,584.1 488.2,582.5 489.0,581.2 489.4,580.2 489.0,579.3 488.0,578.7 486.5,578.3 484.6,578.1 482.3,578.2 479.8,578.5 477.3,579.0 474.4,579.6 471.3,580.2 467.9,581.0 464.5,581.7 461.0,582.5 457.6,583.2 454.3,584.1 451.2,584.9 448.0,585.7 444.9,586.5 442.0,587.2 439.3,587.8 437.0,588.3 435.1,588.7 433.7,589.1 432.6,589.4 431.9,589.6 431.7,589.7 432.3,589.6 433.6,589.3 435.5,588.8 437.9,588.2 440.4,587.4 443.2,586.5 446.3,585.6 449.7,584.4 453.3,582.9 457.1,581.3 460.9,579.4 464.7,577.4 468.6,575.3 472.6,573.1 476.5,570.7 480.4,568.0 484.0,565.2 487.2,562.5 490.1,560.0 492.8,557.7 495.3,555.5 497.4,553.6 499.1,551.9 500.5,550.5"/>
<rect class="fr" x="420.5" y="530.4" width="100.0" height="100.0"/>
<path class="ln" d="M470.5,528.9v-7M470.5,631.9v6M419.0,580.5h-7M522.0,580.5h6"/>
</g>
<defs><clipPath id="lblclip"><path clip-rule="evenodd" d="M298.5,678.5H522.5V902.5H298.5ZM410.8,681.0 430.8,681.0 430.8,693.0 410.8,693.0ZM329.4,705.4 348.2,698.6 352.3,709.9 333.5,716.7ZM392.4,696.9 412.4,696.9 412.4,708.9 392.4,708.9ZM367.0,733.2 385.8,726.3 389.9,737.6 371.1,744.4ZM363.2,756.0 378.5,743.2 386.2,752.4 370.9,765.2ZM415.3,740.7 434.6,735.5 437.7,747.1 418.4,752.3ZM454.5,720.5 474.4,719.5 475.1,731.4 455.1,732.5ZM482.0,740.3 502.0,740.3 502.0,752.3 482.0,752.3ZM415.3,768.5 433.4,776.9 428.3,787.8 410.2,779.4ZM411.8,786.3 431.8,786.3 431.8,798.3 411.8,798.3ZM410.0,795.7 430.0,795.7 430.0,807.7 410.0,807.7ZM403.3,806.1 423.3,806.1 423.3,818.1 403.3,818.1ZM473.5,835.9 486.3,820.5 495.5,828.3 482.7,843.6ZM493.5,839.8 511.6,831.3 516.7,842.2 498.6,850.6ZM498.3,850.0 516.4,841.6 521.5,852.5 503.3,860.9ZM383.8,846.2 403.8,847.2 403.2,859.2 383.2,858.2ZM400.5,860.4 420.5,860.4 420.5,872.4 400.5,872.4Z"/></clipPath>
</defs>
<g id="cmap" shape-rendering="crispEdges">
<rect x="300.5" y="680.5" width="220.0" height="220.0" fill="#ff0a00"/>
<path d="M300.5,680.5 520.5,680.5 520.5,900.5 300.5,900.5ZM415.5,826.7 410.1,828.0 407.6,829.2 406.3,830.5 405.8,831.8 406.2,833.0 407.4,834.2 410.5,835.6 413.0,836.1 416.8,836.4 420.5,836.2 424.6,835.5 428.3,834.3 430.5,833.0 431.8,831.8 432.3,830.5 431.9,829.2 430.3,828.0 426.8,826.9 421.8,826.4Z" fill="#ff1f00" fill-rule="evenodd"/>
<path d="M300.5,680.5 520.5,680.5 520.5,900.5 300.5,900.5ZM411.8,824.1 405.7,825.5 402.5,826.8 400.3,828.0 398.9,829.2 398.0,830.5 397.6,831.8 397.8,833.0 398.4,834.2 399.6,835.5 401.5,836.8 403.0,837.4 404.4,838.0 408.0,838.9 413.0,839.5 418.0,839.6 423.0,839.1 428.4,838.0 433.0,836.5 435.4,835.5 437.7,834.2 439.5,833.0 440.7,831.8 441.4,830.5 441.6,829.2 441.0,828.0 439.7,826.8 437.2,825.5 432.8,824.2 428.0,823.6 423.0,823.3 418.0,823.4Z" fill="#ff3400" fill-rule="evenodd"/>
<path d="M300.5,680.5 520.5,680.5 520.5,900.5 300.5,900.5ZM411.8,821.7 404.2,823.1 400.5,824.2 397.4,825.5 395.1,826.8 393.5,828.0 392.3,829.2 391.7,830.5 391.4,831.8 391.5,833.0 392.0,834.2 392.9,835.5 394.3,836.8 396.1,838.0 398.8,839.2 404.2,840.9 410.5,841.8 416.8,841.9 423.0,841.4 430.5,840.0 437.0,838.0 442.7,835.5 446.6,833.0 447.9,831.8 448.8,830.5 449.2,829.2 449.1,828.0 448.3,826.8 446.8,825.5 444.3,824.2 443.0,823.8 438.0,822.5 433.0,821.7 425.5,821.1 418.0,821.2Z" fill="#ff4800" fill-rule="evenodd"/>
<path d="M300.5,680.5 520.5,680.5 520.5,900.5 300.5,900.5ZM423.0,819.2 415.5,819.5 408.0,820.3 400.8,821.8 395.5,823.4 390.8,825.5 388.9,826.8 387.5,828.0 386.5,829.2 385.9,830.5 385.7,831.8 385.9,833.0 386.4,834.2 387.2,835.5 388.4,836.8 390.0,838.0 392.0,839.2 394.6,840.5 398.0,841.8 403.0,843.0 406.8,843.5 410.5,843.9 415.5,843.9 419.2,843.8 424.2,843.3 432.2,841.8 440.5,839.2 444.2,837.8 449.1,835.5 453.1,833.0 454.5,831.8 455.6,830.5 456.2,829.2 456.4,828.0 456.0,826.8 455.0,825.5 453.2,824.2 450.5,823.0 446.4,821.8 443.0,821.0 439.2,820.3 433.0,819.6Z" fill="#ff5d00" fill-rule="evenodd"/>
<path d="M300.5,680.5 520.5,680.5 520.5,900.5 300.5,900.5ZM414.2,818.0 403.6,819.2 397.5,820.5 393.0,821.8 389.2,823.1 384.5,825.5 382.7,826.8 381.4,828.0 380.5,829.2 380.0,830.5 379.9,831.8 380.2,833.0 380.8,834.2 381.7,835.5 384.4,838.0 388.0,840.2 391.2,841.8 394.5,843.0 399.2,844.3 403.0,844.9 408.0,845.5 411.8,845.7 416.8,845.7 425.5,844.8 429.2,844.2 434.8,843.0 439.3,841.8 446.7,839.2 449.8,838.0 455.1,835.5 459.2,833.0 460.8,831.8 462.0,830.5 462.9,829.2 463.4,828.0 463.4,826.8 462.8,825.5 461.6,824.2 460.5,823.6 459.4,823.0 456.2,821.8 449.2,820.0 441.8,818.7 433.0,817.9 423.0,817.7Z" fill="#ff7200" fill-rule="evenodd"/>
<path d="M300.5,680.5 520.5,680.5 520.5,900.5 300.5,900.5ZM368.0,714.2 363.0,715.4 359.7,716.8 357.6,718.0 356.1,719.2 355.0,720.5 354.3,721.8 354.0,723.0 354.2,724.2 354.9,725.5 355.5,726.0 356.5,726.8 358.0,727.3 361.8,728.1 366.8,728.1 371.8,727.5 378.0,726.3 385.6,724.2 389.2,722.9 391.7,721.8 393.8,720.5 395.3,719.2 396.1,718.0 396.3,716.8 395.4,715.5 393.0,714.4 388.0,713.6 383.0,713.4 378.0,713.4 373.0,713.7ZM411.8,816.7 404.2,817.5 398.0,818.6 391.8,820.0 385.9,821.8 382.6,823.0 377.4,825.5 375.5,826.9 374.4,828.0 373.6,829.2 373.3,830.5 373.3,831.8 373.8,833.0 374.5,834.2 377.0,836.8 380.6,839.2 385.3,841.8 390.5,843.9 395.5,845.3 400.5,846.4 405.5,847.0 410.5,847.3 415.5,847.3 420.5,847.0 425.5,846.5 431.3,845.5 441.5,843.0 446.8,841.3 452.5,839.2 458.2,836.8 463.0,834.2 466.7,831.8 468.2,830.5 469.3,829.3 470.0,828.0 470.4,826.8 470.3,825.5 469.6,824.2 468.1,823.0 465.7,821.8 460.5,820.1 451.8,818.3 441.8,817.0 431.8,816.3 421.8,816.2Z" fill="#ff8600" fill-rule="evenodd"/>
<path d="M300.5,680.5 520.5,680.5 520.5,900.5 300.5,900.5ZM369.2,710.4 364.2,711.0 360.7,711.8 356.8,712.9 354.2,713.9 351.2,715.5 349.3,716.8 347.8,718.0 345.6,720.5 344.3,723.0 344.0,724.2 343.9,725.5 344.1,726.8 344.5,728.0 345.5,729.4 346.8,730.5 348.0,731.1 350.5,732.0 353.0,732.5 355.5,732.7 359.2,732.6 368.0,731.7 380.2,729.2 389.3,726.8 395.9,724.2 400.7,721.8 404.2,719.2 405.4,718.0 406.3,716.8 406.7,715.5 406.5,714.2 405.6,713.0 404.2,712.1 401.8,711.2 398.0,710.3 393.0,709.9 386.8,709.7 375.5,710.0ZM410.5,815.4 401.8,816.4 394.2,817.6 386.7,819.2 377.6,821.8 373.7,823.0 370.5,824.4 368.0,826.1 367.4,826.8 366.5,828.0 366.2,829.2 366.1,830.5 366.4,831.8 366.9,833.0 369.0,835.5 372.3,838.0 374.4,839.2 379.4,841.8 385.5,844.2 393.0,846.6 400.1,848.0 405.5,848.6 410.5,848.8 415.5,848.8 421.8,848.4 426.8,847.8 432.9,846.8 438.5,845.5 444.2,843.9 451.2,841.8 457.9,839.2 463.6,836.8 468.4,834.2 472.3,831.8 475.1,829.2 476.2,828.0 476.9,826.8 477.2,825.5 477.0,824.2 476.3,823.0 474.7,821.8 472.0,820.5 466.8,819.0 458.0,817.4 445.5,815.8 434.2,815.1 421.8,814.9Z" fill="#ff9b00" fill-rule="evenodd"/>
<path d="M300.5,680.5 520.5,680.5 520.5,900.5 300.5,900.5ZM365.5,707.9 361.8,708.4 357.3,709.2 352.8,710.5 349.2,711.8 345.5,713.7 342.6,715.5 339.7,718.0 337.7,720.5 336.3,723.0 335.5,725.5 335.4,726.8 335.5,729.2 336.4,731.8 338.0,733.7 340.5,735.4 343.0,736.2 345.5,736.7 349.3,736.9 353.0,736.8 363.0,735.5 375.5,732.9 385.3,730.5 390.5,729.0 395.5,727.2 399.8,725.5 407.0,721.8 410.6,719.2 412.1,718.0 414.1,715.5 414.6,714.2 414.6,713.0 414.1,711.8 412.8,710.5 410.5,709.3 409.2,708.9 405.5,708.0 403.0,707.7 396.8,707.1 390.5,707.0 373.0,707.5ZM409.2,814.2 400.5,815.1 393.0,816.2 371.8,820.2 368.0,821.1 364.2,822.6 361.9,824.2 360.5,826.0 359.7,828.0 359.6,829.2 359.7,830.5 360.5,832.7 361.5,834.2 363.9,836.8 367.7,839.2 372.9,841.8 382.9,845.5 391.5,848.0 399.2,849.5 404.2,850.0 410.5,850.3 416.8,850.2 423.0,849.7 429.2,848.9 435.5,847.7 441.8,846.3 449.0,844.2 456.6,841.8 463.1,839.2 468.7,836.8 473.4,834.2 477.4,831.8 480.6,829.2 482.9,826.8 483.6,825.5 484.0,824.2 483.8,823.0 483.1,821.8 481.4,820.5 479.2,819.5 474.1,818.0 465.5,816.5 449.2,814.7 436.8,813.9 423.0,813.6Z" fill="#ffb000" fill-rule="evenodd"/>
<path d="M300.5,680.5 520.5,680.5 520.5,900.5 300.5,900.5ZM365.5,705.5 359.2,706.1 354.2,707.0 349.2,708.2 344.2,709.9 340.2,711.8 336.2,714.2 333.2,716.8 330.9,719.2 328.7,723.0 327.5,726.8 327.3,730.5 328.0,734.0 329.4,736.8 330.5,738.0 331.8,739.1 334.5,740.5 338.0,741.3 341.8,741.5 345.5,741.3 350.5,740.6 358.0,739.2 369.2,736.6 384.0,733.0 390.5,731.1 396.2,729.2 405.2,725.5 410.1,723.0 414.2,720.5 417.6,718.0 420.2,715.5 421.1,714.2 421.7,713.0 421.9,711.8 421.6,710.5 420.7,709.2 418.7,708.0 414.2,706.5 408.0,705.4 401.8,704.9 394.2,704.7ZM409.2,813.0 395.8,814.2 380.5,816.5 368.0,817.9 364.2,818.5 360.5,819.8 359.0,820.5 357.1,821.8 355.8,823.0 354.9,824.2 353.9,826.8 353.7,828.0 353.9,830.5 354.9,833.0 355.7,834.2 357.9,836.7 359.4,838.0 363.3,840.5 365.9,841.8 370.5,843.5 383.0,847.5 391.8,849.7 399.2,851.0 405.5,851.6 411.8,851.7 418.0,851.5 424.2,851.0 430.5,850.1 436.8,848.9 444.2,847.2 451.8,845.1 458.1,843.0 465.5,840.3 473.0,836.9 478.1,834.2 484.1,830.5 487.3,828.0 489.8,825.5 490.6,824.2 491.0,823.0 491.0,821.8 490.3,820.5 488.7,819.2 486.8,818.4 480.9,816.8 472.7,815.5 453.0,813.6 438.0,812.7 423.0,812.5Z" fill="#ffc400" fill-rule="evenodd"/>
<path d="M300.5,680.5 520.5,680.5 520.5,900.5 300.5,900.5ZM381.8,703.0 363.0,703.4 356.8,703.9 351.8,704.7 345.5,706.0 339.2,707.9 334.2,710.0 330.5,712.0 326.8,714.8 323.8,718.0 321.6,721.8 320.3,725.5 319.7,729.2 319.6,731.8 319.8,734.2 320.6,738.0 321.7,740.5 322.4,741.8 324.2,743.9 325.5,744.9 328.0,746.2 330.5,746.8 333.0,747.0 336.7,746.9 344.2,745.5 385.5,734.5 394.5,731.8 401.4,729.2 409.9,725.5 414.7,723.0 420.9,719.2 425.9,715.5 428.3,713.0 429.1,711.8 429.6,710.5 429.5,709.2 428.8,708.0 427.2,706.8 425.5,706.0 423.0,705.2 419.1,704.2 414.2,703.5 408.5,703.0 396.7,702.7ZM410.5,811.7 398.0,812.7 380.5,814.6 365.5,815.4 360.5,816.0 356.8,817.1 354.6,818.0 352.5,819.2 351.0,820.5 349.8,821.8 349.0,823.0 348.0,825.5 347.8,828.0 348.2,830.5 348.6,831.8 349.9,834.2 351.8,836.5 353.4,838.0 356.8,840.4 359.1,841.8 361.8,843.0 365.5,844.4 377.9,848.0 389.2,850.8 394.2,851.8 399.2,852.5 405.5,852.9 411.8,853.1 418.0,852.9 425.5,852.2 433.0,851.1 440.5,849.5 448.0,847.7 455.6,845.5 463.0,843.0 469.5,840.5 475.2,838.0 482.5,834.2 488.9,830.5 494.3,826.8 497.0,824.2 497.9,823.0 498.5,821.8 498.6,820.5 498.1,819.2 496.7,818.0 494.2,816.9 488.8,815.5 480.5,814.4 463.9,813.0 440.5,811.6 425.5,811.3Z" fill="#ffd900" fill-rule="evenodd"/>
<path d="M300.5,680.5 520.5,680.5 520.5,900.5 300.5,900.5ZM355.5,701.7 348.0,702.5 341.8,703.6 335.5,705.0 329.2,707.0 325.5,708.6 321.8,710.7 319.0,713.0 317.9,714.2 316.2,716.8 315.0,719.2 314.1,721.8 313.2,725.5 312.8,729.2 312.7,733.0 312.9,736.7 313.4,740.5 313.9,743.0 315.5,747.3 316.8,749.4 318.0,750.9 319.2,752.0 321.8,753.4 323.0,753.8 325.5,754.1 329.2,753.9 334.2,752.7 359.2,743.8 368.0,741.1 391.8,734.4 403.0,730.4 408.7,728.0 416.5,724.2 427.7,718.0 433.4,714.2 436.6,711.8 437.8,710.5 438.8,709.2 439.2,708.0 438.9,706.8 437.6,705.5 434.7,704.2 428.0,702.7 421.8,701.8 416.8,701.4 408.0,700.9 399.2,700.8 379.2,701.2 364.2,701.3ZM411.8,810.5 400.5,811.2 380.5,812.9 375.5,813.0 363.0,812.9 359.2,813.1 355.5,813.7 352.9,814.2 349.5,815.5 347.2,816.8 345.5,818.0 343.2,820.5 342.4,821.8 341.5,824.2 341.2,826.8 341.5,829.2 342.3,831.8 343.7,834.2 345.8,836.8 348.6,839.2 351.8,841.4 354.8,843.0 361.0,845.5 369.8,848.0 389.2,852.4 394.2,853.3 400.5,854.0 406.8,854.4 414.2,854.3 421.8,853.9 429.2,853.0 436.7,851.8 444.2,850.1 452.4,848.0 460.6,845.5 468.0,842.9 476.7,839.2 484.4,835.5 493.6,830.5 499.6,826.8 502.9,824.2 505.2,821.8 505.9,820.5 506.2,819.2 505.9,818.0 504.8,816.8 502.5,815.5 497.9,814.2 489.2,813.1 476.8,812.3 441.8,810.5 426.8,810.2Z" fill="#ffee00" fill-rule="evenodd"/>
<path d="M300.5,680.5 520.5,680.5 520.5,699.1 516.1,701.8 514.4,703.0 514.4,704.2 516.7,705.5 520.5,706.9 520.5,900.5 300.5,900.5ZM389.2,699.2 379.2,699.4 358.0,699.4 349.2,699.8 341.1,700.5 329.2,702.0 321.8,703.4 316.8,705.0 314.2,706.3 313.0,707.2 311.8,708.4 310.2,710.5 309.0,713.0 308.2,715.5 307.1,721.8 306.5,730.5 306.5,736.8 306.7,741.8 307.6,750.5 308.4,754.2 309.2,756.9 310.5,759.7 311.8,761.5 313.0,762.7 314.2,763.5 316.8,764.3 318.0,764.4 320.5,764.2 324.2,763.1 329.2,760.9 346.3,751.8 355.5,747.6 366.8,743.5 393.0,735.6 403.7,731.8 409.8,729.2 417.9,725.5 436.8,715.9 444.2,712.3 450.5,709.9 460.1,706.8 463.1,705.5 463.5,704.2 459.2,703.0 449.9,701.8 437.1,700.5 424.2,699.6 413.0,699.1 401.8,699.0ZM418.0,809.2 404.2,809.7 380.5,811.3 374.2,811.2 360.5,810.3 355.5,810.3 350.5,810.8 346.8,811.5 344.2,812.1 342.0,813.0 339.5,814.2 337.8,815.5 336.4,816.8 335.4,818.0 334.0,820.5 333.2,823.0 333.1,824.2 333.2,826.8 333.7,829.2 335.4,833.0 337.3,835.5 339.7,838.0 343.0,840.5 347.3,843.0 351.8,845.0 355.5,846.4 364.2,848.8 388.0,853.7 394.2,854.7 399.2,855.3 406.8,855.7 414.2,855.6 421.8,855.2 429.2,854.3 436.8,853.1 445.5,851.2 453.2,849.2 461.8,846.7 469.2,844.0 477.9,840.5 488.4,835.5 500.4,829.2 506.5,825.5 509.7,823.0 511.9,820.5 512.6,819.2 512.9,818.0 512.7,816.8 512.0,815.5 510.3,814.2 506.8,813.0 499.1,811.8 489.2,811.1 441.8,809.4 430.5,809.2Z" fill="#fcff00" fill-rule="evenodd"/>
<path d="M303.1,680.5 520.5,680.5 520.5,695.6 518.0,696.4 515.5,697.0 513.0,697.4 509.2,697.6 495.5,697.4 473.0,697.7 441.8,697.6 409.2,697.2 379.2,697.8 359.2,697.3 334.2,697.5 325.5,697.2 320.4,696.8 315.5,695.9 310.8,694.3 308.0,692.6 305.8,690.5 304.5,688.0 303.5,684.2ZM300.5,710.5 300.8,718.0 300.9,731.8 300.5,760.9ZM481.4,710.5 510.5,709.9 515.5,710.0 520.5,710.4 520.5,900.5 303.1,900.5 302.5,890.5 302.4,874.2 302.5,855.5 303.0,841.8 303.7,834.2 304.5,829.2 305.7,825.5 306.8,823.7 308.0,822.6 309.2,822.2 310.5,822.4 311.8,823.1 314.2,825.3 318.2,829.2 322.2,833.0 326.9,836.8 330.7,839.2 337.5,843.0 341.8,844.9 347.0,846.8 354.2,848.8 361.6,850.5 389.2,855.4 399.2,856.6 404.2,856.9 410.5,857.0 416.8,856.8 423.0,856.4 429.2,855.7 436.8,854.5 443.9,853.0 450.5,851.4 458.0,849.3 464.2,847.4 471.8,844.7 478.8,841.8 497.5,833.0 504.8,829.2 509.2,826.8 512.8,824.2 515.6,821.8 516.7,820.5 518.1,818.0 518.3,816.8 518.2,815.5 517.6,814.2 516.3,813.0 513.9,811.8 510.5,810.8 505.5,810.1 494.2,809.5 469.2,809.2 441.8,808.3 429.2,808.1 410.5,808.4 385.5,809.6 379.2,809.7 373.0,809.3 358.0,807.5 349.2,806.9 340.5,806.8 328.0,807.4 323.0,807.4 319.2,806.9 318.0,806.4 316.8,805.6 315.5,804.1 314.5,801.8 314.2,799.2 314.3,795.5 314.6,793.0 315.7,789.2 317.1,785.5 318.4,783.0 319.9,780.5 322.5,776.8 325.5,773.0 328.9,769.2 335.6,763.0 340.2,759.2 343.8,756.8 351.8,752.0 359.2,748.3 366.8,745.4 375.5,742.4 394.0,736.8 404.4,733.0 416.2,728.0 436.8,718.5 441.8,716.5 445.5,715.2 451.8,713.5 460.5,712.0 469.2,711.1Z" fill="#e7ff00" fill-rule="evenodd"/>
<path d="M311.9,680.5 520.5,680.5 520.5,693.2 515.5,694.3 510.5,694.7 491.8,694.4 459.2,694.5 431.8,695.3 405.5,695.6 381.8,696.1 373.0,696.0 343.0,694.6 335.5,693.9 330.5,693.2 325.5,691.9 321.8,690.5 319.2,689.1 316.2,686.8 314.1,684.2ZM495.6,713.0 511.8,712.6 520.5,712.7 520.5,811.3 518.0,810.0 514.2,809.0 509.2,808.3 501.8,807.9 469.2,807.9 440.5,807.3 428.0,807.1 409.2,807.4 385.5,808.2 380.5,808.2 375.5,807.8 369.2,807.0 354.8,804.2 348.0,802.8 343.0,801.4 339.2,800.0 335.8,798.0 333.0,795.5 331.3,793.0 330.4,790.5 329.9,788.0 329.7,785.5 329.9,783.0 330.8,779.2 331.7,776.8 333.6,773.0 335.1,770.5 337.9,766.8 340.1,764.2 342.6,761.8 345.5,759.3 348.8,756.8 352.6,754.2 359.3,750.5 364.8,748.0 371.8,745.3 394.2,738.1 404.2,734.5 414.0,730.5 435.5,721.1 441.8,718.7 445.5,717.6 453.0,715.9 463.0,714.5 475.5,713.6ZM519.4,821.8 520.5,820.5 520.5,900.5 311.9,900.5 311.4,899.2 310.6,896.8 309.7,893.0 309.1,889.2 308.6,884.2 308.5,879.2 308.6,874.2 309.4,865.5 310.8,859.2 311.8,856.4 313.0,853.8 314.2,851.8 315.5,850.4 316.8,849.2 319.2,847.8 321.8,847.1 324.2,846.8 326.8,846.7 330.5,847.1 358.0,852.1 390.5,857.0 398.0,857.9 405.5,858.3 413.0,858.3 420.5,857.9 429.2,857.0 440.5,855.1 451.8,852.5 463.0,849.3 473.6,845.5 488.1,839.2 506.5,830.5 511.1,828.0 515.0,825.5 516.8,824.2Z" fill="#d3ff00" fill-rule="evenodd"/>
<path d="M319.2,680.5 520.5,680.5 520.5,691.3 516.8,692.1 511.8,692.5 490.5,692.0 459.2,692.0 423.0,693.6 384.2,694.5 373.0,694.3 348.0,692.4 341.8,691.6 335.5,690.3 330.5,688.8 326.2,686.8 322.7,684.2 320.5,682.1ZM484.5,715.5 520.5,714.6 520.5,808.1 518.0,807.4 513.7,806.8 504.2,806.3 470.5,806.7 430.5,806.2 411.8,806.3 386.8,806.9 378.0,806.5 371.8,805.6 365.6,804.2 356.2,801.8 350.5,799.8 346.6,798.0 342.7,795.5 340.1,793.0 338.4,790.5 337.8,789.2 337.0,786.8 336.6,784.2 336.6,781.8 336.9,779.2 337.4,776.8 338.9,773.0 340.2,770.5 343.6,765.5 345.8,763.0 348.4,760.5 351.3,758.0 354.8,755.5 361.8,751.4 368.0,748.5 374.2,746.1 395.0,739.2 405.2,735.5 433.0,723.8 438.0,721.9 443.0,720.3 450.5,718.4 459.2,717.1 469.2,716.2ZM520.0,824.2 520.5,823.8 520.5,900.5 319.2,900.5 317.7,898.0 316.1,894.2 315.3,891.8 314.5,888.0 314.0,881.8 314.0,878.0 314.3,874.2 315.5,868.1 316.3,865.5 317.4,863.0 318.9,860.5 319.9,859.2 321.1,858.0 323.0,856.5 324.6,855.5 326.8,854.5 330.5,853.5 334.2,853.1 339.2,852.9 344.2,853.2 371.8,855.9 394.2,858.9 404.2,859.6 411.8,859.6 419.2,859.2 426.8,858.6 434.2,857.6 444.2,855.7 454.2,853.3 464.2,850.3 474.2,846.8 488.9,840.5 507.8,831.8 514.7,828.0Z" fill="#beff00" fill-rule="evenodd"/>
<path d="M326.2,680.5 520.5,680.5 520.5,689.6 516.8,690.3 511.8,690.6 489.2,689.9 458.0,689.8 449.2,690.1 429.2,691.5 419.2,691.9 386.8,692.9 375.5,692.8 366.8,692.1 354.2,690.8 346.8,689.6 341.8,688.5 336.8,687.0 333.0,685.4 329.1,683.0ZM504.3,716.8 520.5,716.2 520.5,805.8 514.2,805.0 506.8,804.7 468.0,805.6 428.0,805.2 388.0,805.5 379.2,805.1 373.0,804.1 366.8,802.6 360.3,800.5 354.2,798.0 349.8,795.5 346.8,793.1 344.5,790.5 343.0,788.0 342.1,785.5 341.6,783.0 341.5,780.5 341.7,778.0 342.3,775.5 343.7,771.8 345.0,769.2 346.6,766.8 348.5,764.2 350.8,761.8 355.5,757.7 358.6,755.5 361.8,753.5 369.2,749.8 378.0,746.3 395.2,740.5 404.2,737.2 434.2,724.9 440.5,722.7 445.5,721.3 454.2,719.6 464.2,718.4 479.2,717.6ZM519.7,826.7 520.5,826.1 520.5,900.5 326.2,900.5 323.2,896.8 321.9,894.2 320.9,891.8 319.6,886.8 319.3,884.2 319.2,880.5 319.7,875.5 321.1,870.5 323.0,866.5 324.2,864.7 325.8,863.0 327.2,861.8 329.2,860.4 331.8,859.1 334.2,858.2 338.0,857.3 343.0,856.6 348.0,856.4 355.5,856.5 373.0,857.7 395.5,860.4 401.8,860.8 408.0,860.9 415.5,860.8 423.0,860.3 429.2,859.6 436.8,858.5 446.8,856.5 455.5,854.4 464.2,851.8 473.0,848.7 483.9,844.2 506.2,834.2 513.7,830.5Z" fill="#a9ff00" fill-rule="evenodd"/>
<path d="M332.9,680.5 520.5,680.5 520.5,688.0 516.8,688.7 511.8,688.9 488.0,688.0 458.0,687.7 448.0,688.2 428.0,689.8 418.0,690.3 389.2,691.3 378.0,691.3 370.5,690.8 363.0,689.9 355.5,688.8 349.2,687.6 344.2,686.2 339.2,684.4 335.5,682.4ZM515.1,718.0 520.5,717.7 520.5,803.9 514.2,803.4 506.8,803.3 475.5,804.4 461.8,804.6 434.2,804.3 390.5,804.3 385.5,804.2 380.5,803.8 375.3,803.0 369.2,801.4 363.1,799.2 357.7,796.8 353.6,794.2 350.6,791.8 348.5,789.2 347.7,788.0 346.5,785.5 345.8,783.0 345.6,780.5 345.6,778.0 346.0,775.5 346.8,773.0 347.8,770.5 349.2,768.0 350.9,765.5 353.0,763.0 355.5,760.5 360.5,756.6 366.8,752.8 371.4,750.5 375.5,748.8 402.2,739.2 434.2,726.4 441.8,723.9 448.0,722.3 456.8,720.8 468.0,719.8 484.2,719.0ZM518.7,829.2 520.5,828.1 520.5,900.5 332.9,900.5 330.2,898.0 328.3,895.5 326.8,893.0 325.4,889.2 324.8,886.8 324.5,884.2 324.5,879.2 324.9,876.8 325.6,874.2 327.3,870.5 329.0,868.0 330.1,866.8 333.0,864.3 336.8,862.2 340.5,860.8 344.2,859.9 349.3,859.2 355.5,858.9 363.0,858.9 375.5,859.6 396.8,861.9 403.0,862.2 409.2,862.3 416.8,862.0 424.2,861.5 431.8,860.6 439.3,859.5 448.0,857.7 455.5,855.8 464.2,853.3 473.0,850.2 484.2,845.6 506.9,835.5 514.2,831.9Z" fill="#95ff00" fill-rule="evenodd"/>
<path d="M339.4,680.5 520.5,680.5 520.5,686.6 516.8,687.1 511.8,687.4 486.8,686.2 465.5,685.7 456.8,685.8 446.7,686.3 428.0,688.0 416.8,688.7 391.8,689.7 380.5,689.8 375.5,689.5 369.2,688.9 361.8,687.8 355.5,686.6 351.1,685.5 346.8,684.1 343.0,682.5ZM518.7,719.2 520.5,719.1 520.5,802.2 514.2,801.9 506.8,801.9 475.5,803.3 461.8,803.6 395.5,803.2 388.0,803.0 383.0,802.7 376.9,801.8 371.8,800.4 365.5,798.1 360.4,795.5 356.6,793.0 353.8,790.5 351.8,788.0 351.0,786.8 349.9,784.2 349.3,781.7 349.1,779.2 349.2,776.8 349.7,774.2 350.5,771.8 351.7,769.2 353.2,766.8 355.1,764.2 357.4,761.8 360.1,759.2 365.4,755.5 371.8,752.1 379.2,748.8 402.2,740.5 434.2,727.7 441.8,725.3 448.0,723.8 456.8,722.3 468.0,721.3ZM519.4,830.5 520.5,829.8 520.5,900.5 339.4,900.5 336.1,898.0 333.8,895.5 332.1,893.0 330.4,889.2 329.6,885.5 329.4,883.0 329.5,880.5 330.2,876.8 331.8,873.0 333.0,871.2 334.6,869.2 337.5,866.8 339.5,865.5 341.8,864.4 345.5,863.1 349.2,862.2 354.2,861.4 360.5,861.0 366.8,860.9 376.8,861.4 398.0,863.4 404.2,863.6 411.8,863.6 419.2,863.2 426.8,862.6 434.2,861.7 441.8,860.4 450.5,858.6 458.0,856.6 466.8,853.9 474.2,851.2 484.2,847.0 507.4,836.8 514.2,833.4Z" fill="#80ff00" fill-rule="evenodd"/>
<path d="M345.8,680.5 520.5,680.5 520.5,685.2 516.8,685.7 511.8,685.9 485.5,684.4 465.5,683.9 456.8,683.9 446.8,684.4 426.8,686.4 416.8,687.1 394.2,688.1 381.8,688.2 376.8,688.0 371.8,687.4 366.8,686.7 360.5,685.5 355.5,684.3 351.8,683.1 348.3,681.8ZM519.8,720.5 520.5,720.4 520.5,800.7 514.2,800.5 506.8,800.6 475.5,802.2 460.5,802.6 403.0,802.2 391.8,801.9 384.2,801.4 379.2,800.7 374.2,799.5 369.2,797.7 364.8,795.5 360.8,793.0 357.7,790.5 355.5,787.9 354.7,786.8 353.4,784.2 352.6,781.8 352.3,778.0 352.7,774.2 354.0,770.5 356.1,766.8 358.0,764.2 361.7,760.5 364.9,758.0 370.9,754.2 378.8,750.5 403.0,741.4 429.2,730.9 438.0,727.8 444.2,726.0 450.5,724.7 458.0,723.6 473.0,722.4 510.5,721.0ZM519.9,831.8 520.5,831.4 520.5,900.5 345.8,900.5 341.9,898.0 339.1,895.5 338.0,894.2 336.4,891.8 334.8,888.0 334.2,884.2 334.4,880.5 335.4,876.8 336.6,874.2 338.5,871.8 339.7,870.5 341.8,868.8 345.3,866.8 349.2,865.2 353.1,864.2 358.0,863.5 363.0,863.0 369.2,862.8 378.0,863.1 393.0,864.5 399.2,864.9 406.8,865.0 414.2,864.9 421.8,864.4 429.2,863.7 436.8,862.7 444.2,861.4 451.8,859.8 459.2,857.8 466.8,855.4 474.2,852.6 484.2,848.5 507.8,838.0 515.5,834.3Z" fill="#6bff00" fill-rule="evenodd"/>
<path d="M352.3,680.5 520.5,680.5 520.5,683.9 516.8,684.4 511.8,684.5 484.2,682.7 465.5,682.0 456.8,681.9 445.5,682.6 426.8,684.6 415.5,685.5 395.5,686.4 383.0,686.6 375.5,686.1 366.8,684.8 359.2,683.0 355.4,681.8ZM519.8,721.8 520.5,721.7 520.5,799.3 514.2,799.2 506.8,799.4 475.5,801.2 459.2,801.6 411.8,801.3 396.8,800.9 386.8,800.3 380.5,799.5 375.5,798.2 371.6,796.8 366.8,794.3 362.9,791.8 360.1,789.2 358.0,786.7 356.1,783.0 355.5,780.5 355.2,776.8 355.9,773.0 356.8,770.5 358.9,766.8 360.8,764.2 364.2,760.8 367.9,758.0 374.1,754.2 380.5,751.3 403.0,742.6 430.5,731.6 438.0,729.0 444.2,727.3 450.5,726.0 458.0,724.9 471.8,723.8 510.5,722.3ZM520.3,833.0 520.5,832.9 520.5,900.5 352.3,900.5 347.6,898.0 344.3,895.3 343.0,894.1 341.3,891.8 340.5,890.4 339.5,888.0 338.8,884.2 339.1,880.5 339.8,878.0 340.5,876.5 341.8,874.6 344.2,871.9 346.8,870.0 350.5,868.1 354.2,866.8 358.0,865.9 361.8,865.3 366.8,864.8 371.8,864.7 379.2,864.9 399.2,866.4 406.8,866.5 415.5,866.2 423.0,865.8 431.8,864.9 439.2,863.9 445.5,862.7 453.0,861.0 460.5,858.9 468.0,856.5 474.2,854.1 484.2,849.9 508.1,839.2 515.5,835.7Z" fill="#57ff00" fill-rule="evenodd"/>
<path d="M359.1,680.5 446.9,680.5 425.5,683.0 416.8,683.7 403.0,684.5 386.8,684.9 379.2,684.7 373.0,684.0 365.5,682.5ZM473.4,680.5 520.5,680.5 520.5,682.6 516.8,683.1 511.8,683.1 490.5,681.5ZM519.2,723.0 520.5,722.9 520.5,798.0 514.2,797.9 506.8,798.2 475.5,800.2 459.2,800.7 416.8,800.4 400.5,800.0 389.2,799.3 384.2,798.7 379.2,797.7 374.2,796.0 370.4,794.2 366.4,791.8 363.4,789.2 361.2,786.8 360.4,785.5 359.1,783.0 358.3,780.5 358.0,776.8 358.6,773.0 359.5,770.5 361.6,766.8 363.6,764.2 366.0,761.8 369.2,759.1 375.0,755.5 382.9,751.8 429.2,733.3 436.8,730.6 443.0,728.8 450.5,727.2 458.0,726.1 471.8,725.1 510.5,723.6ZM518.3,835.5 520.5,834.3 520.5,900.5 473.4,900.5 459.2,900.0 453.0,900.1 446.9,900.5 359.1,900.5 356.0,899.2 353.0,897.7 350.5,896.1 348.3,894.2 346.8,892.6 345.2,890.5 344.6,889.2 343.7,886.8 343.5,885.5 343.4,883.0 343.8,880.5 344.7,878.0 346.3,875.5 348.0,873.7 350.6,871.8 354.2,869.9 358.0,868.6 361.8,867.7 365.5,867.1 369.2,866.7 374.2,866.5 380.5,866.7 399.2,867.9 408.0,868.0 416.8,867.7 425.5,867.1 433.0,866.3 440.5,865.3 446.8,864.1 453.0,862.6 459.2,860.9 466.8,858.5 473.0,856.1 481.8,852.4 505.6,841.8 513.0,838.3Z" fill="#42ff00" fill-rule="evenodd"/>
<path d="M366.5,680.5 430.3,680.5 420.5,681.6 411.8,682.3 399.2,682.9 388.0,683.2 381.8,683.0 376.8,682.6 371.6,681.8ZM497.6,680.5 520.5,680.5 520.5,681.4 516.8,681.8 511.8,681.8ZM518.2,724.2 520.5,724.0 520.5,796.7 514.2,796.7 506.8,797.0 475.5,799.2 459.2,799.7 419.2,799.5 403.0,799.0 391.8,798.2 385.5,797.5 380.5,796.4 375.5,794.7 371.9,793.0 368.1,790.5 365.4,788.0 363.4,785.5 362.6,784.2 361.5,781.8 360.9,779.2 360.7,776.8 361.2,773.0 362.1,770.5 364.2,766.8 366.2,764.2 368.8,761.8 372.0,759.2 378.0,755.6 384.2,752.6 421.8,737.3 430.5,733.9 438.0,731.4 444.2,729.7 450.5,728.4 458.0,727.3 471.8,726.3 509.2,724.8ZM518.5,836.8 520.5,835.6 520.5,900.5 497.6,900.5 471.8,898.6 458.0,898.0 451.8,898.2 445.5,898.6 430.3,900.5 366.5,900.5 362.7,899.2 359.7,898.0 357.2,896.8 354.2,894.8 352.1,893.0 350.5,891.2 349.3,889.2 348.3,886.8 347.9,884.2 348.1,881.8 349.0,879.2 350.6,876.8 353.0,874.4 355.1,873.0 357.6,871.8 361.0,870.5 364.2,869.7 368.0,869.0 375.5,868.4 381.8,868.5 394.2,869.3 401.8,869.6 410.5,869.5 419.2,869.2 426.8,868.6 434.2,867.9 440.5,867.0 446.8,865.8 453.0,864.4 459.2,862.6 466.8,860.1 473.0,857.7 481.8,853.9 508.0,842.0Z" fill="#2dff00" fill-rule="evenodd"/>
<path d="M376.3,680.5 410.5,680.5 399.2,681.0 388.0,681.3 381.8,681.1ZM512.0,680.5 517.4,680.5ZM516.9,725.5 520.5,725.1 520.5,795.5 506.8,795.9 475.5,798.2 459.2,798.8 421.8,798.7 406.8,798.1 395.5,797.3 389.2,796.7 384.2,795.8 379.2,794.4 375.5,792.9 371.4,790.5 368.4,788.0 366.2,785.5 365.4,784.2 364.2,781.8 363.5,779.2 363.3,776.8 363.8,773.0 364.6,770.5 366.8,766.8 368.9,764.2 371.5,761.8 374.2,759.7 379.2,756.6 386.7,753.0 418.0,740.0 430.5,735.1 438.0,732.5 444.2,730.8 450.5,729.6 458.0,728.5 470.5,727.6 509.2,726.0ZM518.5,838.0 520.5,836.9 520.5,900.2 517.4,900.5 511.8,900.5 478.0,897.3 464.2,896.2 455.5,895.9 450.5,896.1 444.2,896.6 424.2,899.3 410.5,900.5 376.3,900.5 371.8,899.6 368.0,898.5 364.2,897.1 360.9,895.5 358.0,893.5 356.0,891.8 354.1,889.2 353.0,886.8 352.6,884.2 352.9,881.8 354.1,879.2 355.0,878.0 356.8,876.2 359.2,874.5 361.8,873.3 364.2,872.4 366.8,871.7 370.5,871.0 374.2,870.6 378.0,870.4 383.0,870.5 395.5,871.2 401.8,871.3 410.5,871.2 420.5,870.8 435.5,869.6 441.8,868.7 448.0,867.5 453.0,866.2 459.2,864.4 465.5,862.3 471.8,859.8 480.5,856.0 508.0,843.3Z" fill="#19ff00" fill-rule="evenodd"/>
<path d="M515.3,726.8 520.5,726.2 520.5,794.4 506.8,794.8 475.5,797.2 460.5,797.9 425.5,797.8 413.0,797.4 401.8,796.7 393.0,795.8 386.8,794.9 381.8,793.6 378.0,792.2 374.8,790.5 371.5,788.0 369.1,785.5 368.0,783.9 366.9,781.8 366.1,779.2 365.8,776.8 366.3,773.0 367.1,770.5 368.5,768.0 370.4,765.5 372.8,763.0 375.9,760.5 382.0,756.8 389.9,753.0 416.8,741.6 429.2,736.6 436.8,734.0 443.0,732.3 449.2,730.9 456.8,729.8 470.5,728.7ZM518.6,839.2 520.5,838.1 520.5,899.0 515.5,899.3 510.5,899.1 489.2,896.6 469.2,894.6 460.5,893.8 454.2,893.6 449.2,893.8 443.0,894.3 425.5,896.9 413.0,898.3 394.2,899.2 388.0,899.3 383.0,899.1 378.0,898.5 374.2,897.8 370.5,896.7 366.8,895.2 364.2,893.8 361.4,891.8 359.1,889.2 357.9,886.8 357.6,884.2 358.1,881.8 359.2,879.7 360.5,878.3 362.4,876.8 364.7,875.5 368.0,874.2 371.8,873.3 375.5,872.8 380.5,872.5 396.7,873.1 404.2,873.2 414.2,873.0 426.8,872.4 435.5,871.6 441.8,870.8 448.0,869.6 455.5,867.6 464.2,864.6 475.5,859.9 510.5,843.4Z" fill="#04ff00" fill-rule="evenodd"/>
<path d="M513.3,728.0 520.5,727.3 520.5,793.2 506.8,793.7 475.5,796.3 459.2,797.0 426.8,796.9 415.5,796.5 404.2,795.8 396.8,795.0 390.5,794.1 385.2,793.0 380.5,791.4 376.4,789.2 373.2,786.8 371.0,784.2 370.2,783.0 369.0,780.5 368.4,778.0 368.3,775.5 368.7,773.0 369.6,770.5 371.0,768.0 373.0,765.5 375.5,763.0 378.8,760.5 385.1,756.8 393.0,753.0 416.1,743.0 430.5,737.3 438.0,734.8 444.2,733.1 450.5,731.8 458.0,730.8 470.5,729.8ZM518.5,840.5 520.5,839.4 520.5,897.8 515.5,898.1 510.5,897.8 465.5,891.9 459.2,891.3 453.0,891.0 448.0,891.1 443.0,891.5 424.2,894.6 413.0,895.9 398.0,896.8 389.2,896.9 384.2,896.8 380.5,896.4 376.8,895.7 373.0,894.6 370.5,893.5 367.5,891.8 366.0,890.5 364.2,888.5 363.4,886.8 363.1,885.5 363.0,884.2 363.3,883.0 363.8,881.8 365.5,879.7 367.9,878.0 369.2,877.4 371.8,876.4 375.5,875.5 381.8,875.0 404.2,875.4 415.5,875.2 428.0,874.7 435.5,874.1 440.5,873.6 446.8,872.4 451.8,871.2 460.5,868.2 471.8,863.5 510.5,844.6Z" fill="#00ff11" fill-rule="evenodd"/>
<path d="M510.7,729.2 520.5,728.4 520.5,792.1 506.8,792.6 475.5,795.3 460.5,796.0 448.0,796.2 429.2,796.1 419.2,795.8 409.2,795.1 400.5,794.3 393.0,793.2 386.8,791.8 383.0,790.6 379.2,788.8 376.3,786.8 373.8,784.2 372.9,783.0 371.6,780.5 370.9,778.0 370.8,775.5 371.2,773.0 372.1,770.5 373.6,768.0 375.5,765.6 378.0,763.2 379.9,761.8 385.9,758.0 396.0,753.0 415.8,744.2 429.2,738.8 436.8,736.2 443.0,734.5 449.2,733.1 456.8,732.0 470.5,730.9ZM518.5,841.8 520.5,840.6 520.5,896.7 515.5,896.9 509.2,896.4 479.1,891.8 459.2,888.3 454.2,887.7 449.2,887.4 444.2,887.6 440.5,888.1 423.0,891.7 413.5,893.0 405.5,893.6 398.0,894.0 390.5,894.1 385.5,893.9 379.2,893.0 375.6,891.8 373.2,890.5 371.6,889.2 370.5,888.0 369.9,886.8 369.5,885.5 369.6,884.2 370.1,883.0 371.1,881.8 372.7,880.5 374.2,879.7 376.8,878.8 379.2,878.3 381.8,878.0 385.5,877.8 404.2,878.2 434.2,877.6 441.8,877.0 445.5,876.3 449.2,875.3 456.8,872.5 468.0,867.4Z" fill="#00ff25" fill-rule="evenodd"/>
<path d="M507.4,730.5 514.2,730.1 520.5,729.4 520.5,791.0 505.5,791.7 475.5,794.3 461.8,795.1 450.5,795.3 433.0,795.2 423.0,795.0 414.2,794.5 404.2,793.5 396.8,792.5 390.5,791.2 385.5,789.7 381.6,788.0 378.0,785.5 375.7,783.0 374.3,780.4 373.5,778.0 373.3,775.5 373.7,773.0 374.7,770.5 376.2,768.0 378.0,765.8 379.6,764.2 382.8,761.8 388.9,758.0 401.5,751.8 416.8,744.9 429.2,739.9 436.8,737.3 443.0,735.5 449.2,734.2 456.8,733.1 469.2,732.1ZM518.4,843.0 520.5,841.8 520.5,895.5 515.5,895.7 509.2,895.1 490.1,891.8 477.5,889.2 472.2,888.0 463.6,885.5 460.2,884.2 457.6,883.0 455.9,881.8 455.4,880.5 455.7,879.2 456.6,878.0 459.6,875.5 463.4,873.0 474.0,866.8 489.6,858.0ZM382.8,883.0 385.5,882.5 389.2,882.3 414.2,882.9 418.0,883.3 421.3,884.2 421.3,885.5 418.9,886.8 414.1,888.0 409.2,888.7 404.0,889.2 399.2,889.5 391.8,889.7 388.0,889.5 385.4,889.2 383.0,888.6 381.5,888.0 380.1,886.8 379.7,885.5 380.4,884.2Z" fill="#00ff3a" fill-rule="evenodd"/>
<path d="M520.2,730.5 520.5,730.5 520.5,789.9 505.5,790.6 475.5,793.4 461.8,794.2 450.5,794.4 434.2,794.3 425.5,794.1 416.8,793.6 408.0,792.8 400.1,791.8 393.8,790.5 388.0,788.8 383.4,786.8 380.5,784.8 378.0,782.1 376.5,779.2 376.2,778.0 375.9,775.5 376.3,773.0 377.2,770.5 378.8,768.0 380.5,766.0 382.4,764.2 385.7,761.8 389.7,759.2 394.2,756.8 406.9,750.5 421.8,743.9 434.2,739.2 440.5,737.3 446.8,735.7 453.0,734.6 459.2,733.9 470.5,733.1 509.2,731.5ZM518.4,844.2 520.5,843.0 520.5,894.3 515.5,894.4 509.2,893.7 492.8,890.5 482.2,888.0 475.5,886.0 471.2,884.2 468.0,882.3 467.3,881.8 466.3,880.5 465.8,879.3 465.9,878.0 466.4,876.8 467.2,875.5 469.7,873.0 474.5,869.2 482.1,864.2 492.7,858.0Z" fill="#00ff4f" fill-rule="evenodd"/>
<path d="M518.7,731.8 520.5,731.5 520.5,788.8 505.5,789.6 475.5,792.4 463.0,793.2 451.8,793.5 438.0,793.5 428.0,793.3 419.2,792.8 410.5,792.0 403.0,790.9 395.5,789.4 390.7,788.0 386.8,786.3 383.4,784.2 380.8,781.8 380.0,780.5 379.2,779.0 378.7,776.8 378.7,774.2 379.2,772.1 379.9,770.5 381.6,768.0 383.0,766.4 385.3,764.2 388.6,761.8 392.6,759.2 397.1,756.8 409.5,750.5 423.0,744.5 434.2,740.3 440.5,738.3 446.8,736.8 453.0,735.7 459.2,734.9 470.5,734.2 509.2,732.6ZM518.4,845.5 520.5,844.3 520.5,893.2 515.5,893.2 510.5,892.6 500.4,890.5 490.4,888.0 484.2,886.1 479.5,884.2 476.8,882.8 475.3,881.8 474.0,880.5 473.2,879.2 472.9,878.0 473.0,876.8 473.4,875.5 474.1,874.2 476.2,871.8 480.5,868.0 485.7,864.2 493.6,859.2 502.3,854.2Z" fill="#00ff63" fill-rule="evenodd"/>
<path d="M517.0,733.0 520.5,732.5 520.5,787.7 505.5,788.5 475.5,791.5 463.0,792.3 453.0,792.5 440.5,792.6 430.5,792.4 421.8,792.0 413.0,791.2 405.5,790.1 399.2,788.8 393.0,787.0 389.2,785.4 387.2,784.2 385.5,783.0 383.1,780.5 381.9,778.0 381.6,776.8 381.5,774.2 382.2,771.8 383.0,770.0 384.4,768.0 386.8,765.5 391.6,761.8 399.8,756.8 412.1,750.5 424.2,745.1 435.5,740.9 441.8,739.0 446.8,737.9 453.0,736.8 459.2,736.0 470.5,735.2 508.0,733.7ZM520.5,845.5 520.5,892.0 516.8,892.0 511.8,891.5 506.8,890.4 497.4,888.0 491.8,886.2 486.6,884.2 483.0,882.4 480.6,880.5 479.5,879.2 479.0,878.0 478.7,876.8 478.9,875.5 479.3,874.2 480.8,871.8 484.5,868.0 489.2,864.2 496.6,859.2 505.0,854.2Z" fill="#00ff78" fill-rule="evenodd"/>
<path d="M515.2,734.2 520.5,733.6 520.5,786.7 505.5,787.5 475.5,790.5 463.0,791.3 454.2,791.6 443.0,791.6 433.0,791.5 424.2,791.1 416.8,790.5 409.2,789.5 403.0,788.3 397.5,786.8 393.0,785.0 389.4,783.0 387.8,781.8 386.5,780.5 385.0,778.0 384.6,776.8 384.5,774.2 384.7,773.0 385.6,770.5 386.8,768.8 388.4,766.8 391.1,764.2 394.5,761.8 402.6,756.8 414.7,750.5 426.0,745.5 435.5,742.0 441.8,740.1 446.8,738.9 453.0,737.8 459.2,737.0 469.2,736.3 505.5,734.9ZM520.5,846.8 520.5,890.8 516.8,890.7 511.8,890.1 506.8,888.9 499.5,886.8 494.2,884.8 490.2,883.0 486.8,880.8 485.2,879.2 484.4,878.0 483.9,876.8 483.8,875.5 484.0,874.2 484.5,873.0 486.0,870.5 489.5,866.8 494.1,863.0 499.5,859.2 507.6,854.2Z" fill="#00ff8d" fill-rule="evenodd"/>
<path d="M513.2,735.5 520.5,734.6 520.5,785.6 505.5,786.4 475.5,789.5 463.0,790.4 454.2,790.7 444.2,790.7 433.0,790.5 425.5,790.2 418.0,789.5 410.5,788.4 404.2,787.1 398.9,785.5 395.5,784.1 391.6,781.8 390.2,780.5 389.1,779.2 387.8,776.8 387.6,775.5 387.7,773.0 388.1,771.8 389.4,769.3 390.3,768.0 392.6,765.5 397.3,761.8 405.2,756.8 414.7,751.8 425.7,746.8 435.7,743.0 441.8,741.2 446.8,740.0 453.0,738.9 459.2,738.1 469.2,737.4 500.5,736.2ZM518.5,849.2 520.5,848.0 520.5,889.5 518.0,889.5 514.2,889.1 510.5,888.4 506.8,887.3 498.4,884.2 494.2,882.2 491.7,880.5 490.3,879.2 489.4,878.0 488.7,876.8 488.4,875.5 488.4,874.2 489.2,871.8 489.9,870.5 491.8,868.0 495.7,864.2 500.5,860.5 508.1,855.5Z" fill="#00ffa1" fill-rule="evenodd"/>
<path d="M511.1,736.8 520.5,735.7 520.5,784.5 513.0,784.8 504.2,785.4 475.5,788.5 464.2,789.4 446.8,789.8 436.8,789.7 428.0,789.3 420.5,788.7 414.2,787.8 408.8,786.8 403.0,785.1 399.2,783.7 395.6,781.8 394.0,780.5 392.7,779.2 391.8,778.0 391.2,776.8 390.8,775.5 390.8,773.0 391.1,771.8 392.4,769.2 393.3,768.0 395.5,765.5 400.1,761.8 403.7,759.2 407.9,756.8 417.3,751.8 426.8,747.5 435.5,744.1 441.8,742.2 446.8,741.0 453.0,739.9 459.2,739.2 469.2,738.5ZM518.6,850.5 520.5,849.3 520.5,888.3 515.5,887.9 510.5,886.8 506.6,885.5 500.8,883.0 498.0,881.4 495.1,879.2 494.0,878.0 493.2,876.8 492.7,875.5 492.6,874.2 493.0,871.8 494.3,869.2 496.3,866.8 498.8,864.2 501.7,861.8 506.8,858.0Z" fill="#00ffb6" fill-rule="evenodd"/>
<path d="M520.5,736.8 520.5,783.4 513.0,783.7 504.2,784.4 475.5,787.5 464.2,788.4 455.5,788.7 446.8,788.8 436.8,788.7 429.2,788.3 421.8,787.7 415.5,786.8 409.7,785.5 405.5,784.2 401.8,782.8 397.9,780.5 396.5,779.2 395.4,778.0 394.6,776.8 394.2,775.5 394.0,774.2 394.3,771.8 394.7,770.5 396.2,768.0 399.7,764.2 404.6,760.5 412.7,755.5 420.5,751.5 430.5,747.1 439.2,744.0 444.2,742.7 449.2,741.6 454.2,740.8 460.5,740.1 470.5,739.5 508.0,738.0 514.2,737.6ZM518.8,851.8 520.5,850.7 520.5,886.9 516.8,886.6 511.8,885.5 508.2,884.2 504.2,882.4 501.1,880.5 498.3,878.0 497.4,876.8 496.8,875.5 496.5,874.2 496.7,871.8 497.7,869.2 499.4,866.8 501.8,864.3 504.5,861.8 507.7,859.2Z" fill="#00ffcb" fill-rule="evenodd"/>
<path d="M519.5,738.0 520.5,737.8 520.5,782.3 513.0,782.6 504.2,783.2 475.5,786.5 464.2,787.4 448.0,787.8 431.8,787.4 424.2,786.8 418.0,785.9 413.0,784.8 408.0,783.4 404.1,781.8 401.9,780.5 400.5,779.4 399.0,778.0 398.1,776.8 397.5,775.5 397.2,774.2 397.4,771.8 397.8,770.5 399.2,768.0 400.1,766.8 402.5,764.2 407.3,760.5 411.0,758.0 415.3,755.5 422.5,751.8 431.2,748.0 439.2,745.2 444.2,743.8 449.2,742.7 454.2,741.9 460.5,741.2 470.5,740.6 508.0,739.2 514.2,738.7ZM519.1,853.0 520.5,852.1 520.5,885.6 516.8,885.1 513.2,884.2 509.9,883.0 506.8,881.4 503.7,879.2 501.8,877.3 500.7,875.5 500.2,874.2 500.1,873.0 500.2,871.8 501.0,869.3 502.5,866.8 504.6,864.2 507.2,861.8 510.3,859.2Z" fill="#00ffdf" fill-rule="evenodd"/>
<path d="M518.8,739.2 520.5,739.0 520.5,781.1 513.0,781.4 503.0,782.2 475.5,785.4 464.2,786.4 449.2,786.8 433.0,786.4 426.8,785.9 420.5,785.0 415.5,784.0 410.5,782.5 406.8,780.8 404.2,779.2 402.7,778.0 401.7,776.8 401.0,775.5 400.5,774.2 400.4,773.0 400.5,771.8 400.8,770.5 402.1,768.0 403.0,766.8 405.3,764.2 409.9,760.5 413.7,758.0 417.9,755.5 425.3,751.8 433.0,748.5 440.5,745.9 445.5,744.6 450.5,743.6 460.5,742.3 470.5,741.7 506.8,740.4 513.0,740.0ZM519.5,854.2 520.5,853.6 520.5,884.1 518.0,883.8 514.9,883.0 511.8,881.8 509.4,880.5 506.8,878.5 505.1,876.8 504.2,875.4 503.5,873.0 503.5,871.8 504.1,869.2 505.5,866.8 507.4,864.2 509.9,861.8 512.8,859.2Z" fill="#00fff4" fill-rule="evenodd"/>
<path d="M518.2,740.5 520.5,740.1 520.5,780.0 513.0,780.3 503.0,781.1 476.5,784.2 465.5,785.2 451.8,785.7 436.8,785.5 429.2,784.9 423.7,784.2 418.0,783.1 413.5,781.8 409.2,779.8 406.5,778.0 405.3,776.8 404.4,775.5 403.9,774.2 403.6,773.0 403.7,771.8 403.9,770.5 405.0,768.0 405.9,766.8 408.1,764.2 412.6,760.5 418.4,756.8 425.5,753.0 434.2,749.2 441.7,746.8 446.8,745.5 451.8,744.5 461.8,743.3 470.5,742.8 506.8,741.6 513.0,741.2ZM520.1,855.5 520.5,855.2 520.5,882.5 518.0,882.0 515.5,881.3 513.0,880.1 510.5,878.5 508.6,876.8 507.8,875.5 507.1,874.2 506.7,871.8 506.8,870.5 507.6,868.0 508.3,866.8 510.1,864.2 513.8,860.5Z" fill="#00f5ff" fill-rule="evenodd"/>
<path d="M517.9,741.8 520.5,741.3 520.5,778.7 513.0,779.0 503.0,779.8 475.5,783.2 465.5,784.2 451.8,784.7 438.0,784.4 430.5,783.8 424.4,783.0 419.2,781.8 415.5,780.6 412.5,779.2 410.5,778.0 409.2,776.9 408.0,775.5 407.3,774.2 406.9,773.0 406.8,771.8 407.0,770.5 407.4,769.2 408.8,766.8 410.9,764.2 415.4,760.5 421.1,756.8 428.0,753.2 434.2,750.5 441.8,747.9 446.8,746.6 451.8,745.7 461.8,744.4 470.5,744.0 505.5,742.9 513.0,742.4ZM519.2,858.0 520.5,857.0 520.5,880.8 518.0,880.1 515.9,879.2 513.0,877.4 511.2,875.5 510.5,874.3 510.0,873.0 509.8,871.8 510.1,869.2 510.5,868.0 511.9,865.5 515.1,861.8Z" fill="#00e1ff" fill-rule="evenodd"/>
<path d="M517.9,743.0 520.5,742.5 520.5,777.5 513.0,777.8 503.0,778.6 475.5,782.1 466.2,783.0 454.2,783.5 441.8,783.4 435.0,783.0 429.2,782.4 425.5,781.7 420.5,780.5 416.8,779.1 414.7,778.0 413.0,776.8 411.7,775.5 410.8,774.2 410.3,773.0 410.1,771.8 410.2,770.5 410.5,769.2 411.7,766.8 413.8,764.2 418.2,760.5 424.0,756.8 429.2,754.0 436.7,750.8 443.0,748.8 451.8,746.9 461.8,745.6 470.5,745.2 493.0,744.6 505.5,744.2 513.0,743.7ZM520.2,859.2 520.5,859.0 520.5,878.8 518.0,877.8 516.3,876.8 514.9,875.5 513.9,874.2 513.3,873.0 513.0,871.8 512.9,870.5 513.4,868.0 514.6,865.5 516.5,863.0Z" fill="#00ccff" fill-rule="evenodd"/>
<path d="M518.2,744.2 520.5,743.8 520.5,776.2 513.0,776.4 503.0,777.2 493.0,778.4 476.8,780.7 466.8,781.8 455.5,782.4 443.0,782.2 436.8,781.8 431.8,781.3 427.0,780.5 422.4,779.2 419.2,778.0 417.1,776.8 415.6,775.5 414.2,773.8 413.8,773.0 413.5,771.8 413.4,770.5 413.6,769.2 414.1,768.0 415.6,765.5 418.0,763.0 422.8,759.2 429.2,755.5 434.3,753.2 440.5,750.9 445.5,749.4 453.0,747.9 463.0,746.8 471.8,746.4 491.8,746.0 504.2,745.6 511.8,745.1ZM520.2,861.8 520.5,861.4 520.5,876.3 519.1,875.5 517.7,874.2 516.8,872.9 516.3,871.8 516.1,870.5 516.1,869.2 516.8,866.8 518.2,864.2Z" fill="#00b7ff" fill-rule="evenodd"/>
<path d="M519.0,745.5 520.5,745.2 520.5,774.8 511.8,775.0 501.8,776.0 491.8,777.2 476.8,779.5 467.5,780.5 456.8,781.1 446.8,781.1 439.2,780.7 434.2,780.2 429.2,779.3 425.5,778.3 421.8,776.8 419.8,775.5 418.0,773.7 417.0,771.8 416.8,770.5 416.9,769.2 417.9,766.8 419.7,764.2 421.0,763.0 424.0,760.5 430.1,756.8 435.3,754.2 441.8,751.9 446.5,750.5 454.2,749.0 463.0,748.0 471.8,747.7 491.8,747.4 504.2,747.0 513.0,746.4ZM520.3,865.5 520.5,865.2 520.5,872.6 520.0,871.8 519.5,870.5 519.3,869.3 519.5,868.0Z" fill="#00a3ff" fill-rule="evenodd"/>
<path d="M520.1,746.8 520.5,746.6 520.5,773.3 511.8,773.5 501.8,774.4 491.8,775.8 476.8,778.1 466.9,779.2 456.8,779.8 448.0,779.8 441.8,779.5 436.8,778.9 431.8,778.1 428.0,777.0 424.5,775.5 422.7,774.2 421.4,773.0 420.7,771.8 420.4,770.5 420.3,769.2 420.6,768.0 421.9,765.5 424.1,763.0 427.2,760.5 431.2,758.0 436.2,755.5 441.8,753.3 447.2,751.8 454.2,750.4 463.0,749.4 471.8,749.1 493.0,748.9 505.5,748.5 514.2,747.8Z" fill="#008eff" fill-rule="evenodd"/>
<path d="M516.1,749.2 520.5,748.3 520.5,771.7 513.0,771.7 503.0,772.6 494.2,773.7 475.9,776.8 468.0,777.7 459.2,778.3 451.8,778.4 441.8,777.9 436.8,777.2 433.0,776.4 430.2,775.5 427.6,774.2 425.5,772.6 424.8,771.8 424.3,770.5 424.1,769.2 424.2,768.0 425.4,765.5 427.6,763.0 430.7,760.5 434.9,758.0 439.2,756.0 443.9,754.2 448.3,753.0 455.5,751.6 464.2,750.8 473.0,750.5 491.8,750.6 501.8,750.4 510.5,750.0Z" fill="#007aff" fill-rule="evenodd"/>
<path d="M519.2,750.5 520.5,750.1 520.5,769.8 514.2,769.6 506.8,770.1 496.8,771.4 471.8,775.7 463.0,776.6 454.2,776.9 449.2,776.8 444.2,776.4 439.2,775.7 435.5,774.8 433.0,773.9 430.5,772.5 429.6,771.8 428.7,770.5 428.2,769.2 428.2,768.0 428.5,766.8 429.2,765.5 431.3,763.0 434.6,760.5 439.1,758.0 441.9,756.8 446.8,755.1 451.8,753.9 459.2,752.8 468.0,752.2 494.2,752.5 506.8,752.2 514.2,751.5Z" fill="#0065ff" fill-rule="evenodd"/>
<path d="M518.6,753.0 520.5,752.4 520.5,767.5 514.2,767.1 506.8,767.6 498.0,768.8 477.4,773.0 471.8,773.9 463.0,774.9 455.5,775.2 450.5,775.0 445.5,774.6 441.8,773.9 438.3,773.0 435.6,771.8 434.0,770.5 433.1,769.2 432.8,768.0 433.0,766.8 433.5,765.5 434.4,764.2 436.8,762.1 439.0,760.5 441.8,759.1 445.5,757.5 449.2,756.4 454.2,755.3 461.8,754.3 469.2,754.0 478.0,754.2 495.5,754.9 506.8,754.8 513.0,754.3 515.5,753.8Z" fill="#0050ff" fill-rule="evenodd"/>
<path d="M458.3,756.8 466.8,756.2 476.8,756.5 491.9,758.0 506.8,759.8 509.2,759.9 510.5,759.8 514.2,758.6 520.5,755.6 520.5,764.3 513.0,762.3 509.2,762.1 506.8,762.6 503.0,763.5 483.0,769.2 478.1,770.5 471.9,771.8 465.5,772.6 460.5,773.0 454.2,773.1 449.2,772.7 444.4,771.8 441.8,770.8 440.5,770.1 439.4,769.3 438.6,768.0 438.4,766.8 438.7,765.5 439.6,764.3 440.8,763.0 442.5,761.8 444.7,760.5 447.7,759.2 451.7,758.0Z" fill="#003cff" fill-rule="evenodd"/>
<path d="M460.7,759.3 468.0,759.0 471.8,759.3 475.5,759.8 478.7,760.5 480.5,761.2 481.7,761.8 482.7,763.0 482.2,764.2 480.6,765.5 478.1,766.8 474.6,768.0 469.5,769.2 464.2,770.0 459.2,770.3 455.5,770.2 451.8,769.8 449.5,769.2 447.0,768.0 446.0,766.8 445.9,765.5 446.6,764.2 448.1,763.0 450.3,761.8 451.8,761.2 455.5,760.1Z" fill="#0027ff" fill-rule="evenodd"/>
</g>
<g id="clines" shape-rendering="crispEdges" clip-path="url(#lblclip)" fill="none" stroke="#000" stroke-width="1">
<path d="M300.5,680.5 520.5,680.5 520.5,900.5 300.5,900.5ZM415.5,826.7 410.1,828.0 407.6,829.2 406.3,830.5 405.8,831.8 406.2,833.0 407.4,834.2 410.5,835.6 413.0,836.1 416.8,836.4 420.5,836.2 424.6,835.5 428.3,834.3 430.5,833.0 431.8,831.8 432.3,830.5 431.9,829.2 430.3,828.0 426.8,826.9 421.8,826.4Z"/>
<path d="M300.5,680.5 520.5,680.5 520.5,900.5 300.5,900.5ZM411.8,824.1 405.7,825.5 402.5,826.8 400.3,828.0 398.9,829.2 398.0,830.5 397.6,831.8 397.8,833.0 398.4,834.2 399.6,835.5 401.5,836.8 403.0,837.4 404.4,838.0 408.0,838.9 413.0,839.5 418.0,839.6 423.0,839.1 428.4,838.0 433.0,836.5 435.4,835.5 437.7,834.2 439.5,833.0 440.7,831.8 441.4,830.5 441.6,829.2 441.0,828.0 439.7,826.8 437.2,825.5 432.8,824.2 428.0,823.6 423.0,823.3 418.0,823.4Z"/>
<path d="M300.5,680.5 520.5,680.5 520.5,900.5 300.5,900.5ZM411.8,821.7 404.2,823.1 400.5,824.2 397.4,825.5 395.1,826.8 393.5,828.0 392.3,829.2 391.7,830.5 391.4,831.8 391.5,833.0 392.0,834.2 392.9,835.5 394.3,836.8 396.1,838.0 398.8,839.2 404.2,840.9 410.5,841.8 416.8,841.9 423.0,841.4 430.5,840.0 437.0,838.0 442.7,835.5 446.6,833.0 447.9,831.8 448.8,830.5 449.2,829.2 449.1,828.0 448.3,826.8 446.8,825.5 444.3,824.2 443.0,823.8 438.0,822.5 433.0,821.7 425.5,821.1 418.0,821.2Z"/>
<path d="M300.5,680.5 520.5,680.5 520.5,900.5 300.5,900.5ZM423.0,819.2 415.5,819.5 408.0,820.3 400.8,821.8 395.5,823.4 390.8,825.5 388.9,826.8 387.5,828.0 386.5,829.2 385.9,830.5 385.7,831.8 385.9,833.0 386.4,834.2 387.2,835.5 388.4,836.8 390.0,838.0 392.0,839.2 394.6,840.5 398.0,841.8 403.0,843.0 406.8,843.5 410.5,843.9 415.5,843.9 419.2,843.8 424.2,843.3 432.2,841.8 440.5,839.2 444.2,837.8 449.1,835.5 453.1,833.0 454.5,831.8 455.6,830.5 456.2,829.2 456.4,828.0 456.0,826.8 455.0,825.5 453.2,824.2 450.5,823.0 446.4,821.8 443.0,821.0 439.2,820.3 433.0,819.6Z"/>
<path d="M300.5,680.5 520.5,680.5 520.5,900.5 300.5,900.5ZM414.2,818.0 403.6,819.2 397.5,820.5 393.0,821.8 389.2,823.1 384.5,825.5 382.7,826.8 381.4,828.0 380.5,829.2 380.0,830.5 379.9,831.8 380.2,833.0 380.8,834.2 381.7,835.5 384.4,838.0 388.0,840.2 391.2,841.8 394.5,843.0 399.2,844.3 403.0,844.9 408.0,845.5 411.8,845.7 416.8,845.7 425.5,844.8 429.2,844.2 434.8,843.0 439.3,841.8 446.7,839.2 449.8,838.0 455.1,835.5 459.2,833.0 460.8,831.8 462.0,830.5 462.9,829.2 463.4,828.0 463.4,826.8 462.8,825.5 461.6,824.2 460.5,823.6 459.4,823.0 456.2,821.8 449.2,820.0 441.8,818.7 433.0,817.9 423.0,817.7Z"/>
<path d="M300.5,680.5 520.5,680.5 520.5,900.5 300.5,900.5ZM368.0,714.2 363.0,715.4 359.7,716.8 357.6,718.0 356.1,719.2 355.0,720.5 354.3,721.8 354.0,723.0 354.2,724.2 354.9,725.5 355.5,726.0 356.5,726.8 358.0,727.3 361.8,728.1 366.8,728.1 371.8,727.5 378.0,726.3 385.6,724.2 389.2,722.9 391.7,721.8 393.8,720.5 395.3,719.2 396.1,718.0 396.3,716.8 395.4,715.5 393.0,714.4 388.0,713.6 383.0,713.4 378.0,713.4 373.0,713.7ZM411.8,816.7 404.2,817.5 398.0,818.6 391.8,820.0 385.9,821.8 382.6,823.0 377.4,825.5 375.5,826.9 374.4,828.0 373.6,829.2 373.3,830.5 373.3,831.8 373.8,833.0 374.5,834.2 377.0,836.8 380.6,839.2 385.3,841.8 390.5,843.9 395.5,845.3 400.5,846.4 405.5,847.0 410.5,847.3 415.5,847.3 420.5,847.0 425.5,846.5 431.3,845.5 441.5,843.0 446.8,841.3 452.5,839.2 458.2,836.8 463.0,834.2 466.7,831.8 468.2,830.5 469.3,829.3 470.0,828.0 470.4,826.8 470.3,825.5 469.6,824.2 468.1,823.0 465.7,821.8 460.5,820.1 451.8,818.3 441.8,817.0 431.8,816.3 421.8,816.2Z"/>
<path d="M300.5,680.5 520.5,680.5 520.5,900.5 300.5,900.5ZM369.2,710.4 364.2,711.0 360.7,711.8 356.8,712.9 354.2,713.9 351.2,715.5 349.3,716.8 347.8,718.0 345.6,720.5 344.3,723.0 344.0,724.2 343.9,725.5 344.1,726.8 344.5,728.0 345.5,729.4 346.8,730.5 348.0,731.1 350.5,732.0 353.0,732.5 355.5,732.7 359.2,732.6 368.0,731.7 380.2,729.2 389.3,726.8 395.9,724.2 400.7,721.8 404.2,719.2 405.4,718.0 406.3,716.8 406.7,715.5 406.5,714.2 405.6,713.0 404.2,712.1 401.8,711.2 398.0,710.3 393.0,709.9 386.8,709.7 375.5,710.0ZM410.5,815.4 401.8,816.4 394.2,817.6 386.7,819.2 377.6,821.8 373.7,823.0 370.5,824.4 368.0,826.1 367.4,826.8 366.5,828.0 366.2,829.2 366.1,830.5 366.4,831.8 366.9,833.0 369.0,835.5 372.3,838.0 374.4,839.2 379.4,841.8 385.5,844.2 393.0,846.6 400.1,848.0 405.5,848.6 410.5,848.8 415.5,848.8 421.8,848.4 426.8,847.8 432.9,846.8 438.5,845.5 444.2,843.9 451.2,841.8 457.9,839.2 463.6,836.8 468.4,834.2 472.3,831.8 475.1,829.2 476.2,828.0 476.9,826.8 477.2,825.5 477.0,824.2 476.3,823.0 474.7,821.8 472.0,820.5 466.8,819.0 458.0,817.4 445.5,815.8 434.2,815.1 421.8,814.9Z"/>
<path d="M300.5,680.5 520.5,680.5 520.5,900.5 300.5,900.5ZM365.5,707.9 361.8,708.4 357.3,709.2 352.8,710.5 349.2,711.8 345.5,713.7 342.6,715.5 339.7,718.0 337.7,720.5 336.3,723.0 335.5,725.5 335.4,726.8 335.5,729.2 336.4,731.8 338.0,733.7 340.5,735.4 343.0,736.2 345.5,736.7 349.3,736.9 353.0,736.8 363.0,735.5 375.5,732.9 385.3,730.5 390.5,729.0 395.5,727.2 399.8,725.5 407.0,721.8 410.6,719.2 412.1,718.0 414.1,715.5 414.6,714.2 414.6,713.0 414.1,711.8 412.8,710.5 410.5,709.3 409.2,708.9 405.5,708.0 403.0,707.7 396.8,707.1 390.5,707.0 373.0,707.5ZM409.2,814.2 400.5,815.1 393.0,816.2 371.8,820.2 368.0,821.1 364.2,822.6 361.9,824.2 360.5,826.0 359.7,828.0 359.6,829.2 359.7,830.5 360.5,832.7 361.5,834.2 363.9,836.8 367.7,839.2 372.9,841.8 382.9,845.5 391.5,848.0 399.2,849.5 404.2,850.0 410.5,850.3 416.8,850.2 423.0,849.7 429.2,848.9 435.5,847.7 441.8,846.3 449.0,844.2 456.6,841.8 463.1,839.2 468.7,836.8 473.4,834.2 477.4,831.8 480.6,829.2 482.9,826.8 483.6,825.5 484.0,824.2 483.8,823.0 483.1,821.8 481.4,820.5 479.2,819.5 474.1,818.0 465.5,816.5 449.2,814.7 436.8,813.9 423.0,813.6Z"/>
<path d="M300.5,680.5 520.5,680.5 520.5,900.5 300.5,900.5ZM365.5,705.5 359.2,706.1 354.2,707.0 349.2,708.2 344.2,709.9 340.2,711.8 336.2,714.2 333.2,716.8 330.9,719.2 328.7,723.0 327.5,726.8 327.3,730.5 328.0,734.0 329.4,736.8 330.5,738.0 331.8,739.1 334.5,740.5 338.0,741.3 341.8,741.5 345.5,741.3 350.5,740.6 358.0,739.2 369.2,736.6 384.0,733.0 390.5,731.1 396.2,729.2 405.2,725.5 410.1,723.0 414.2,720.5 417.6,718.0 420.2,715.5 421.1,714.2 421.7,713.0 421.9,711.8 421.6,710.5 420.7,709.2 418.7,708.0 414.2,706.5 408.0,705.4 401.8,704.9 394.2,704.7ZM409.2,813.0 395.8,814.2 380.5,816.5 368.0,817.9 364.2,818.5 360.5,819.8 359.0,820.5 357.1,821.8 355.8,823.0 354.9,824.2 353.9,826.8 353.7,828.0 353.9,830.5 354.9,833.0 355.7,834.2 357.9,836.7 359.4,838.0 363.3,840.5 365.9,841.8 370.5,843.5 383.0,847.5 391.8,849.7 399.2,851.0 405.5,851.6 411.8,851.7 418.0,851.5 424.2,851.0 430.5,850.1 436.8,848.9 444.2,847.2 451.8,845.1 458.1,843.0 465.5,840.3 473.0,836.9 478.1,834.2 484.1,830.5 487.3,828.0 489.8,825.5 490.6,824.2 491.0,823.0 491.0,821.8 490.3,820.5 488.7,819.2 486.8,818.4 480.9,816.8 472.7,815.5 453.0,813.6 438.0,812.7 423.0,812.5Z"/>
<path d="M300.5,680.5 520.5,680.5 520.5,900.5 300.5,900.5ZM381.8,703.0 363.0,703.4 356.8,703.9 351.8,704.7 345.5,706.0 339.2,707.9 334.2,710.0 330.5,712.0 326.8,714.8 323.8,718.0 321.6,721.8 320.3,725.5 319.7,729.2 319.6,731.8 319.8,734.2 320.6,738.0 321.7,740.5 322.4,741.8 324.2,743.9 325.5,744.9 328.0,746.2 330.5,746.8 333.0,747.0 336.7,746.9 344.2,745.5 385.5,734.5 394.5,731.8 401.4,729.2 409.9,725.5 414.7,723.0 420.9,719.2 425.9,715.5 428.3,713.0 429.1,711.8 429.6,710.5 429.5,709.2 428.8,708.0 427.2,706.8 425.5,706.0 423.0,705.2 419.1,704.2 414.2,703.5 408.5,703.0 396.7,702.7ZM410.5,811.7 398.0,812.7 380.5,814.6 365.5,815.4 360.5,816.0 356.8,817.1 354.6,818.0 352.5,819.2 351.0,820.5 349.8,821.8 349.0,823.0 348.0,825.5 347.8,828.0 348.2,830.5 348.6,831.8 349.9,834.2 351.8,836.5 353.4,838.0 356.8,840.4 359.1,841.8 361.8,843.0 365.5,844.4 377.9,848.0 389.2,850.8 394.2,851.8 399.2,852.5 405.5,852.9 411.8,853.1 418.0,852.9 425.5,852.2 433.0,851.1 440.5,849.5 448.0,847.7 455.6,845.5 463.0,843.0 469.5,840.5 475.2,838.0 482.5,834.2 488.9,830.5 494.3,826.8 497.0,824.2 497.9,823.0 498.5,821.8 498.6,820.5 498.1,819.2 496.7,818.0 494.2,816.9 488.8,815.5 480.5,814.4 463.9,813.0 440.5,811.6 425.5,811.3Z"/>
<path d="M300.5,680.5 520.5,680.5 520.5,900.5 300.5,900.5ZM355.5,701.7 348.0,702.5 341.8,703.6 335.5,705.0 329.2,707.0 325.5,708.6 321.8,710.7 319.0,713.0 317.9,714.2 316.2,716.8 315.0,719.2 314.1,721.8 313.2,725.5 312.8,729.2 312.7,733.0 312.9,736.7 313.4,740.5 313.9,743.0 315.5,747.3 316.8,749.4 318.0,750.9 319.2,752.0 321.8,753.4 323.0,753.8 325.5,754.1 329.2,753.9 334.2,752.7 359.2,743.8 368.0,741.1 391.8,734.4 403.0,730.4 408.7,728.0 416.5,724.2 427.7,718.0 433.4,714.2 436.6,711.8 437.8,710.5 438.8,709.2 439.2,708.0 438.9,706.8 437.6,705.5 434.7,704.2 428.0,702.7 421.8,701.8 416.8,701.4 408.0,700.9 399.2,700.8 379.2,701.2 364.2,701.3ZM411.8,810.5 400.5,811.2 380.5,812.9 375.5,813.0 363.0,812.9 359.2,813.1 355.5,813.7 352.9,814.2 349.5,815.5 347.2,816.8 345.5,818.0 343.2,820.5 342.4,821.8 341.5,824.2 341.2,826.8 341.5,829.2 342.3,831.8 343.7,834.2 345.8,836.8 348.6,839.2 351.8,841.4 354.8,843.0 361.0,845.5 369.8,848.0 389.2,852.4 394.2,853.3 400.5,854.0 406.8,854.4 414.2,854.3 421.8,853.9 429.2,853.0 436.7,851.8 444.2,850.1 452.4,848.0 460.6,845.5 468.0,842.9 476.7,839.2 484.4,835.5 493.6,830.5 499.6,826.8 502.9,824.2 505.2,821.8 505.9,820.5 506.2,819.2 505.9,818.0 504.8,816.8 502.5,815.5 497.9,814.2 489.2,813.1 476.8,812.3 441.8,810.5 426.8,810.2Z"/>
<path d="M300.5,680.5 520.5,680.5 520.5,699.1 516.1,701.8 514.4,703.0 514.4,704.2 516.7,705.5 520.5,706.9 520.5,900.5 300.5,900.5ZM389.2,699.2 379.2,699.4 358.0,699.4 349.2,699.8 341.1,700.5 329.2,702.0 321.8,703.4 316.8,705.0 314.2,706.3 313.0,707.2 311.8,708.4 310.2,710.5 309.0,713.0 308.2,715.5 307.1,721.8 306.5,730.5 306.5,736.8 306.7,741.8 307.6,750.5 308.4,754.2 309.2,756.9 310.5,759.7 311.8,761.5 313.0,762.7 314.2,763.5 316.8,764.3 318.0,764.4 320.5,764.2 324.2,763.1 329.2,760.9 346.3,751.8 355.5,747.6 366.8,743.5 393.0,735.6 403.7,731.8 409.8,729.2 417.9,725.5 436.8,715.9 444.2,712.3 450.5,709.9 460.1,706.8 463.1,705.5 463.5,704.2 459.2,703.0 449.9,701.8 437.1,700.5 424.2,699.6 413.0,699.1 401.8,699.0ZM418.0,809.2 404.2,809.7 380.5,811.3 374.2,811.2 360.5,810.3 355.5,810.3 350.5,810.8 346.8,811.5 344.2,812.1 342.0,813.0 339.5,814.2 337.8,815.5 336.4,816.8 335.4,818.0 334.0,820.5 333.2,823.0 333.1,824.2 333.2,826.8 333.7,829.2 335.4,833.0 337.3,835.5 339.7,838.0 343.0,840.5 347.3,843.0 351.8,845.0 355.5,846.4 364.2,848.8 388.0,853.7 394.2,854.7 399.2,855.3 406.8,855.7 414.2,855.6 421.8,855.2 429.2,854.3 436.8,853.1 445.5,851.2 453.2,849.2 461.8,846.7 469.2,844.0 477.9,840.5 488.4,835.5 500.4,829.2 506.5,825.5 509.7,823.0 511.9,820.5 512.6,819.2 512.9,818.0 512.7,816.8 512.0,815.5 510.3,814.2 506.8,813.0 499.1,811.8 489.2,811.1 441.8,809.4 430.5,809.2Z"/>
<path d="M303.1,680.5 520.5,680.5 520.5,695.6 518.0,696.4 515.5,697.0 513.0,697.4 509.2,697.6 495.5,697.4 473.0,697.7 441.8,697.6 409.2,697.2 379.2,697.8 359.2,697.3 334.2,697.5 325.5,697.2 320.4,696.8 315.5,695.9 310.8,694.3 308.0,692.6 305.8,690.5 304.5,688.0 303.5,684.2ZM300.5,710.5 300.8,718.0 300.9,731.8 300.5,760.9ZM481.4,710.5 510.5,709.9 515.5,710.0 520.5,710.4 520.5,900.5 303.1,900.5 302.5,890.5 302.4,874.2 302.5,855.5 303.0,841.8 303.7,834.2 304.5,829.2 305.7,825.5 306.8,823.7 308.0,822.6 309.2,822.2 310.5,822.4 311.8,823.1 314.2,825.3 318.2,829.2 322.2,833.0 326.9,836.8 330.7,839.2 337.5,843.0 341.8,844.9 347.0,846.8 354.2,848.8 361.6,850.5 389.2,855.4 399.2,856.6 404.2,856.9 410.5,857.0 416.8,856.8 423.0,856.4 429.2,855.7 436.8,854.5 443.9,853.0 450.5,851.4 458.0,849.3 464.2,847.4 471.8,844.7 478.8,841.8 497.5,833.0 504.8,829.2 509.2,826.8 512.8,824.2 515.6,821.8 516.7,820.5 518.1,818.0 518.3,816.8 518.2,815.5 517.6,814.2 516.3,813.0 513.9,811.8 510.5,810.8 505.5,810.1 494.2,809.5 469.2,809.2 441.8,808.3 429.2,808.1 410.5,808.4 385.5,809.6 379.2,809.7 373.0,809.3 358.0,807.5 349.2,806.9 340.5,806.8 328.0,807.4 323.0,807.4 319.2,806.9 318.0,806.4 316.8,805.6 315.5,804.1 314.5,801.8 314.2,799.2 314.3,795.5 314.6,793.0 315.7,789.2 317.1,785.5 318.4,783.0 319.9,780.5 322.5,776.8 325.5,773.0 328.9,769.2 335.6,763.0 340.2,759.2 343.8,756.8 351.8,752.0 359.2,748.3 366.8,745.4 375.5,742.4 394.0,736.8 404.4,733.0 416.2,728.0 436.8,718.5 441.8,716.5 445.5,715.2 451.8,713.5 460.5,712.0 469.2,711.1Z"/>
<path d="M311.9,680.5 520.5,680.5 520.5,693.2 515.5,694.3 510.5,694.7 491.8,694.4 459.2,694.5 431.8,695.3 405.5,695.6 381.8,696.1 373.0,696.0 343.0,694.6 335.5,693.9 330.5,693.2 325.5,691.9 321.8,690.5 319.2,689.1 316.2,686.8 314.1,684.2ZM495.6,713.0 511.8,712.6 520.5,712.7 520.5,811.3 518.0,810.0 514.2,809.0 509.2,808.3 501.8,807.9 469.2,807.9 440.5,807.3 428.0,807.1 409.2,807.4 385.5,808.2 380.5,808.2 375.5,807.8 369.2,807.0 354.8,804.2 348.0,802.8 343.0,801.4 339.2,800.0 335.8,798.0 333.0,795.5 331.3,793.0 330.4,790.5 329.9,788.0 329.7,785.5 329.9,783.0 330.8,779.2 331.7,776.8 333.6,773.0 335.1,770.5 337.9,766.8 340.1,764.2 342.6,761.8 345.5,759.3 348.8,756.8 352.6,754.2 359.3,750.5 364.8,748.0 371.8,745.3 394.2,738.1 404.2,734.5 414.0,730.5 435.5,721.1 441.8,718.7 445.5,717.6 453.0,715.9 463.0,714.5 475.5,713.6ZM519.4,821.8 520.5,820.5 520.5,900.5 311.9,900.5 311.4,899.2 310.6,896.8 309.7,893.0 309.1,889.2 308.6,884.2 308.5,879.2 308.6,874.2 309.4,865.5 310.8,859.2 311.8,856.4 313.0,853.8 314.2,851.8 315.5,850.4 316.8,849.2 319.2,847.8 321.8,847.1 324.2,846.8 326.8,846.7 330.5,847.1 358.0,852.1 390.5,857.0 398.0,857.9 405.5,858.3 413.0,858.3 420.5,857.9 429.2,857.0 440.5,855.1 451.8,852.5 463.0,849.3 473.6,845.5 488.1,839.2 506.5,830.5 511.1,828.0 515.0,825.5 516.8,824.2Z"/>
<path d="M319.2,680.5 520.5,680.5 520.5,691.3 516.8,692.1 511.8,692.5 490.5,692.0 459.2,692.0 423.0,693.6 384.2,694.5 373.0,694.3 348.0,692.4 341.8,691.6 335.5,690.3 330.5,688.8 326.2,686.8 322.7,684.2 320.5,682.1ZM484.5,715.5 520.5,714.6 520.5,808.1 518.0,807.4 513.7,806.8 504.2,806.3 470.5,806.7 430.5,806.2 411.8,806.3 386.8,806.9 378.0,806.5 371.8,805.6 365.6,804.2 356.2,801.8 350.5,799.8 346.6,798.0 342.7,795.5 340.1,793.0 338.4,790.5 337.8,789.2 337.0,786.8 336.6,784.2 336.6,781.8 336.9,779.2 337.4,776.8 338.9,773.0 340.2,770.5 343.6,765.5 345.8,763.0 348.4,760.5 351.3,758.0 354.8,755.5 361.8,751.4 368.0,748.5 374.2,746.1 395.0,739.2 405.2,735.5 433.0,723.8 438.0,721.9 443.0,720.3 450.5,718.4 459.2,717.1 469.2,716.2ZM520.0,824.2 520.5,823.8 520.5,900.5 319.2,900.5 317.7,898.0 316.1,894.2 315.3,891.8 314.5,888.0 314.0,881.8 314.0,878.0 314.3,874.2 315.5,868.1 316.3,865.5 317.4,863.0 318.9,860.5 319.9,859.2 321.1,858.0 323.0,856.5 324.6,855.5 326.8,854.5 330.5,853.5 334.2,853.1 339.2,852.9 344.2,853.2 371.8,855.9 394.2,858.9 404.2,859.6 411.8,859.6 419.2,859.2 426.8,858.6 434.2,857.6 444.2,855.7 454.2,853.3 464.2,850.3 474.2,846.8 488.9,840.5 507.8,831.8 514.7,828.0Z"/>
<path d="M326.2,680.5 520.5,680.5 520.5,689.6 516.8,690.3 511.8,690.6 489.2,689.9 458.0,689.8 449.2,690.1 429.2,691.5 419.2,691.9 386.8,692.9 375.5,692.8 366.8,692.1 354.2,690.8 346.8,689.6 341.8,688.5 336.8,687.0 333.0,685.4 329.1,683.0ZM504.3,716.8 520.5,716.2 520.5,805.8 514.2,805.0 506.8,804.7 468.0,805.6 428.0,805.2 388.0,805.5 379.2,805.1 373.0,804.1 366.8,802.6 360.3,800.5 354.2,798.0 349.8,795.5 346.8,793.1 344.5,790.5 343.0,788.0 342.1,785.5 341.6,783.0 341.5,780.5 341.7,778.0 342.3,775.5 343.7,771.8 345.0,769.2 346.6,766.8 348.5,764.2 350.8,761.8 355.5,757.7 358.6,755.5 361.8,753.5 369.2,749.8 378.0,746.3 395.2,740.5 404.2,737.2 434.2,724.9 440.5,722.7 445.5,721.3 454.2,719.6 464.2,718.4 479.2,717.6ZM519.7,826.7 520.5,826.1 520.5,900.5 326.2,900.5 323.2,896.8 321.9,894.2 320.9,891.8 319.6,886.8 319.3,884.2 319.2,880.5 319.7,875.5 321.1,870.5 323.0,866.5 324.2,864.7 325.8,863.0 327.2,861.8 329.2,860.4 331.8,859.1 334.2,858.2 338.0,857.3 343.0,856.6 348.0,856.4 355.5,856.5 373.0,857.7 395.5,860.4 401.8,860.8 408.0,860.9 415.5,860.8 423.0,860.3 429.2,859.6 436.8,858.5 446.8,856.5 455.5,854.4 464.2,851.8 473.0,848.7 483.9,844.2 506.2,834.2 513.7,830.5Z"/>
<path d="M332.9,680.5 520.5,680.5 520.5,688.0 516.8,688.7 511.8,688.9 488.0,688.0 458.0,687.7 448.0,688.2 428.0,689.8 418.0,690.3 389.2,691.3 378.0,691.3 370.5,690.8 363.0,689.9 355.5,688.8 349.2,687.6 344.2,686.2 339.2,684.4 335.5,682.4ZM515.1,718.0 520.5,717.7 520.5,803.9 514.2,803.4 506.8,803.3 475.5,804.4 461.8,804.6 434.2,804.3 390.5,804.3 385.5,804.2 380.5,803.8 375.3,803.0 369.2,801.4 363.1,799.2 357.7,796.8 353.6,794.2 350.6,791.8 348.5,789.2 347.7,788.0 346.5,785.5 345.8,783.0 345.6,780.5 345.6,778.0 346.0,775.5 346.8,773.0 347.8,770.5 349.2,768.0 350.9,765.5 353.0,763.0 355.5,760.5 360.5,756.6 366.8,752.8 371.4,750.5 375.5,748.8 402.2,739.2 434.2,726.4 441.8,723.9 448.0,722.3 456.8,720.8 468.0,719.8 484.2,719.0ZM518.7,829.2 520.5,828.1 520.5,900.5 332.9,900.5 330.2,898.0 328.3,895.5 326.8,893.0 325.4,889.2 324.8,886.8 324.5,884.2 324.5,879.2 324.9,876.8 325.6,874.2 327.3,870.5 329.0,868.0 330.1,866.8 333.0,864.3 336.8,862.2 340.5,860.8 344.2,859.9 349.3,859.2 355.5,858.9 363.0,858.9 375.5,859.6 396.8,861.9 403.0,862.2 409.2,862.3 416.8,862.0 424.2,861.5 431.8,860.6 439.3,859.5 448.0,857.7 455.5,855.8 464.2,853.3 473.0,850.2 484.2,845.6 506.9,835.5 514.2,831.9Z"/>
<path d="M339.4,680.5 520.5,680.5 520.5,686.6 516.8,687.1 511.8,687.4 486.8,686.2 465.5,685.7 456.8,685.8 446.7,686.3 428.0,688.0 416.8,688.7 391.8,689.7 380.5,689.8 375.5,689.5 369.2,688.9 361.8,687.8 355.5,686.6 351.1,685.5 346.8,684.1 343.0,682.5ZM518.7,719.2 520.5,719.1 520.5,802.2 514.2,801.9 506.8,801.9 475.5,803.3 461.8,803.6 395.5,803.2 388.0,803.0 383.0,802.7 376.9,801.8 371.8,800.4 365.5,798.1 360.4,795.5 356.6,793.0 353.8,790.5 351.8,788.0 351.0,786.8 349.9,784.2 349.3,781.7 349.1,779.2 349.2,776.8 349.7,774.2 350.5,771.8 351.7,769.2 353.2,766.8 355.1,764.2 357.4,761.8 360.1,759.2 365.4,755.5 371.8,752.1 379.2,748.8 402.2,740.5 434.2,727.7 441.8,725.3 448.0,723.8 456.8,722.3 468.0,721.3ZM519.4,830.5 520.5,829.8 520.5,900.5 339.4,900.5 336.1,898.0 333.8,895.5 332.1,893.0 330.4,889.2 329.6,885.5 329.4,883.0 329.5,880.5 330.2,876.8 331.8,873.0 333.0,871.2 334.6,869.2 337.5,866.8 339.5,865.5 341.8,864.4 345.5,863.1 349.2,862.2 354.2,861.4 360.5,861.0 366.8,860.9 376.8,861.4 398.0,863.4 404.2,863.6 411.8,863.6 419.2,863.2 426.8,862.6 434.2,861.7 441.8,860.4 450.5,858.6 458.0,856.6 466.8,853.9 474.2,851.2 484.2,847.0 507.4,836.8 514.2,833.4Z"/>
<path d="M345.8,680.5 520.5,680.5 520.5,685.2 516.8,685.7 511.8,685.9 485.5,684.4 465.5,683.9 456.8,683.9 446.8,684.4 426.8,686.4 416.8,687.1 394.2,688.1 381.8,688.2 376.8,688.0 371.8,687.4 366.8,686.7 360.5,685.5 355.5,684.3 351.8,683.1 348.3,681.8ZM519.8,720.5 520.5,720.4 520.5,800.7 514.2,800.5 506.8,800.6 475.5,802.2 460.5,802.6 403.0,802.2 391.8,801.9 384.2,801.4 379.2,800.7 374.2,799.5 369.2,797.7 364.8,795.5 360.8,793.0 357.7,790.5 355.5,787.9 354.7,786.8 353.4,784.2 352.6,781.8 352.3,778.0 352.7,774.2 354.0,770.5 356.1,766.8 358.0,764.2 361.7,760.5 364.9,758.0 370.9,754.2 378.8,750.5 403.0,741.4 429.2,730.9 438.0,727.8 444.2,726.0 450.5,724.7 458.0,723.6 473.0,722.4 510.5,721.0ZM519.9,831.8 520.5,831.4 520.5,900.5 345.8,900.5 341.9,898.0 339.1,895.5 338.0,894.2 336.4,891.8 334.8,888.0 334.2,884.2 334.4,880.5 335.4,876.8 336.6,874.2 338.5,871.8 339.7,870.5 341.8,868.8 345.3,866.8 349.2,865.2 353.1,864.2 358.0,863.5 363.0,863.0 369.2,862.8 378.0,863.1 393.0,864.5 399.2,864.9 406.8,865.0 414.2,864.9 421.8,864.4 429.2,863.7 436.8,862.7 444.2,861.4 451.8,859.8 459.2,857.8 466.8,855.4 474.2,852.6 484.2,848.5 507.8,838.0 515.5,834.3Z"/>
<path d="M352.3,680.5 520.5,680.5 520.5,683.9 516.8,684.4 511.8,684.5 484.2,682.7 465.5,682.0 456.8,681.9 445.5,682.6 426.8,684.6 415.5,685.5 395.5,686.4 383.0,686.6 375.5,686.1 366.8,684.8 359.2,683.0 355.4,681.8ZM519.8,721.8 520.5,721.7 520.5,799.3 514.2,799.2 506.8,799.4 475.5,801.2 459.2,801.6 411.8,801.3 396.8,800.9 386.8,800.3 380.5,799.5 375.5,798.2 371.6,796.8 366.8,794.3 362.9,791.8 360.1,789.2 358.0,786.7 356.1,783.0 355.5,780.5 355.2,776.8 355.9,773.0 356.8,770.5 358.9,766.8 360.8,764.2 364.2,760.8 367.9,758.0 374.1,754.2 380.5,751.3 403.0,742.6 430.5,731.6 438.0,729.0 444.2,727.3 450.5,726.0 458.0,724.9 471.8,723.8 510.5,722.3ZM520.3,833.0 520.5,832.9 520.5,900.5 352.3,900.5 347.6,898.0 344.3,895.3 343.0,894.1 341.3,891.8 340.5,890.4 339.5,888.0 338.8,884.2 339.1,880.5 339.8,878.0 340.5,876.5 341.8,874.6 344.2,871.9 346.8,870.0 350.5,868.1 354.2,866.8 358.0,865.9 361.8,865.3 366.8,864.8 371.8,864.7 379.2,864.9 399.2,866.4 406.8,866.5 415.5,866.2 423.0,865.8 431.8,864.9 439.2,863.9 445.5,862.7 453.0,861.0 460.5,858.9 468.0,856.5 474.2,854.1 484.2,849.9 508.1,839.2 515.5,835.7Z"/>
<path d="M359.1,680.5 446.9,680.5 425.5,683.0 416.8,683.7 403.0,684.5 386.8,684.9 379.2,684.7 373.0,684.0 365.5,682.5ZM473.4,680.5 520.5,680.5 520.5,682.6 516.8,683.1 511.8,683.1 490.5,681.5ZM519.2,723.0 520.5,722.9 520.5,798.0 514.2,797.9 506.8,798.2 475.5,800.2 459.2,800.7 416.8,800.4 400.5,800.0 389.2,799.3 384.2,798.7 379.2,797.7 374.2,796.0 370.4,794.2 366.4,791.8 363.4,789.2 361.2,786.8 360.4,785.5 359.1,783.0 358.3,780.5 358.0,776.8 358.6,773.0 359.5,770.5 361.6,766.8 363.6,764.2 366.0,761.8 369.2,759.1 375.0,755.5 382.9,751.8 429.2,733.3 436.8,730.6 443.0,728.8 450.5,727.2 458.0,726.1 471.8,725.1 510.5,723.6ZM518.3,835.5 520.5,834.3 520.5,900.5 473.4,900.5 459.2,900.0 453.0,900.1 446.9,900.5 359.1,900.5 356.0,899.2 353.0,897.7 350.5,896.1 348.3,894.2 346.8,892.6 345.2,890.5 344.6,889.2 343.7,886.8 343.5,885.5 343.4,883.0 343.8,880.5 344.7,878.0 346.3,875.5 348.0,873.7 350.6,871.8 354.2,869.9 358.0,868.6 361.8,867.7 365.5,867.1 369.2,866.7 374.2,866.5 380.5,866.7 399.2,867.9 408.0,868.0 416.8,867.7 425.5,867.1 433.0,866.3 440.5,865.3 446.8,864.1 453.0,862.6 459.2,860.9 466.8,858.5 473.0,856.1 481.8,852.4 505.6,841.8 513.0,838.3Z"/>
<path d="M366.5,680.5 430.3,680.5 420.5,681.6 411.8,682.3 399.2,682.9 388.0,683.2 381.8,683.0 376.8,682.6 371.6,681.8ZM497.6,680.5 520.5,680.5 520.5,681.4 516.8,681.8 511.8,681.8ZM518.2,724.2 520.5,724.0 520.5,796.7 514.2,796.7 506.8,797.0 475.5,799.2 459.2,799.7 419.2,799.5 403.0,799.0 391.8,798.2 385.5,797.5 380.5,796.4 375.5,794.7 371.9,793.0 368.1,790.5 365.4,788.0 363.4,785.5 362.6,784.2 361.5,781.8 360.9,779.2 360.7,776.8 361.2,773.0 362.1,770.5 364.2,766.8 366.2,764.2 368.8,761.8 372.0,759.2 378.0,755.6 384.2,752.6 421.8,737.3 430.5,733.9 438.0,731.4 444.2,729.7 450.5,728.4 458.0,727.3 471.8,726.3 509.2,724.8ZM518.5,836.8 520.5,835.6 520.5,900.5 497.6,900.5 471.8,898.6 458.0,898.0 451.8,898.2 445.5,898.6 430.3,900.5 366.5,900.5 362.7,899.2 359.7,898.0 357.2,896.8 354.2,894.8 352.1,893.0 350.5,891.2 349.3,889.2 348.3,886.8 347.9,884.2 348.1,881.8 349.0,879.2 350.6,876.8 353.0,874.4 355.1,873.0 357.6,871.8 361.0,870.5 364.2,869.7 368.0,869.0 375.5,868.4 381.8,868.5 394.2,869.3 401.8,869.6 410.5,869.5 419.2,869.2 426.8,868.6 434.2,867.9 440.5,867.0 446.8,865.8 453.0,864.4 459.2,862.6 466.8,860.1 473.0,857.7 481.8,853.9 508.0,842.0Z"/>
<path d="M376.3,680.5 410.5,680.5 399.2,681.0 388.0,681.3 381.8,681.1ZM512.0,680.5 517.4,680.5ZM516.9,725.5 520.5,725.1 520.5,795.5 506.8,795.9 475.5,798.2 459.2,798.8 421.8,798.7 406.8,798.1 395.5,797.3 389.2,796.7 384.2,795.8 379.2,794.4 375.5,792.9 371.4,790.5 368.4,788.0 366.2,785.5 365.4,784.2 364.2,781.8 363.5,779.2 363.3,776.8 363.8,773.0 364.6,770.5 366.8,766.8 368.9,764.2 371.5,761.8 374.2,759.7 379.2,756.6 386.7,753.0 418.0,740.0 430.5,735.1 438.0,732.5 444.2,730.8 450.5,729.6 458.0,728.5 470.5,727.6 509.2,726.0ZM518.5,838.0 520.5,836.9 520.5,900.2 517.4,900.5 511.8,900.5 478.0,897.3 464.2,896.2 455.5,895.9 450.5,896.1 444.2,896.6 424.2,899.3 410.5,900.5 376.3,900.5 371.8,899.6 368.0,898.5 364.2,897.1 360.9,895.5 358.0,893.5 356.0,891.8 354.1,889.2 353.0,886.8 352.6,884.2 352.9,881.8 354.1,879.2 355.0,878.0 356.8,876.2 359.2,874.5 361.8,873.3 364.2,872.4 366.8,871.7 370.5,871.0 374.2,870.6 378.0,870.4 383.0,870.5 395.5,871.2 401.8,871.3 410.5,871.2 420.5,870.8 435.5,869.6 441.8,868.7 448.0,867.5 453.0,866.2 459.2,864.4 465.5,862.3 471.8,859.8 480.5,856.0 508.0,843.3Z"/>
<path d="M515.3,726.8 520.5,726.2 520.5,794.4 506.8,794.8 475.5,797.2 460.5,797.9 425.5,797.8 413.0,797.4 401.8,796.7 393.0,795.8 386.8,794.9 381.8,793.6 378.0,792.2 374.8,790.5 371.5,788.0 369.1,785.5 368.0,783.9 366.9,781.8 366.1,779.2 365.8,776.8 366.3,773.0 367.1,770.5 368.5,768.0 370.4,765.5 372.8,763.0 375.9,760.5 382.0,756.8 389.9,753.0 416.8,741.6 429.2,736.6 436.8,734.0 443.0,732.3 449.2,730.9 456.8,729.8 470.5,728.7ZM518.6,839.2 520.5,838.1 520.5,899.0 515.5,899.3 510.5,899.1 489.2,896.6 469.2,894.6 460.5,893.8 454.2,893.6 449.2,893.8 443.0,894.3 425.5,896.9 413.0,898.3 394.2,899.2 388.0,899.3 383.0,899.1 378.0,898.5 374.2,897.8 370.5,896.7 366.8,895.2 364.2,893.8 361.4,891.8 359.1,889.2 357.9,886.8 357.6,884.2 358.1,881.8 359.2,879.7 360.5,878.3 362.4,876.8 364.7,875.5 368.0,874.2 371.8,873.3 375.5,872.8 380.5,872.5 396.7,873.1 404.2,873.2 414.2,873.0 426.8,872.4 435.5,871.6 441.8,870.8 448.0,869.6 455.5,867.6 464.2,864.6 475.5,859.9 510.5,843.4Z"/>
<path d="M513.3,728.0 520.5,727.3 520.5,793.2 506.8,793.7 475.5,796.3 459.2,797.0 426.8,796.9 415.5,796.5 404.2,795.8 396.8,795.0 390.5,794.1 385.2,793.0 380.5,791.4 376.4,789.2 373.2,786.8 371.0,784.2 370.2,783.0 369.0,780.5 368.4,778.0 368.3,775.5 368.7,773.0 369.6,770.5 371.0,768.0 373.0,765.5 375.5,763.0 378.8,760.5 385.1,756.8 393.0,753.0 416.1,743.0 430.5,737.3 438.0,734.8 444.2,733.1 450.5,731.8 458.0,730.8 470.5,729.8ZM518.5,840.5 520.5,839.4 520.5,897.8 515.5,898.1 510.5,897.8 465.5,891.9 459.2,891.3 453.0,891.0 448.0,891.1 443.0,891.5 424.2,894.6 413.0,895.9 398.0,896.8 389.2,896.9 384.2,896.8 380.5,896.4 376.8,895.7 373.0,894.6 370.5,893.5 367.5,891.8 366.0,890.5 364.2,888.5 363.4,886.8 363.1,885.5 363.0,884.2 363.3,883.0 363.8,881.8 365.5,879.7 367.9,878.0 369.2,877.4 371.8,876.4 375.5,875.5 381.8,875.0 404.2,875.4 415.5,875.2 428.0,874.7 435.5,874.1 440.5,873.6 446.8,872.4 451.8,871.2 460.5,868.2 471.8,863.5 510.5,844.6Z"/>
<path d="M510.7,729.2 520.5,728.4 520.5,792.1 506.8,792.6 475.5,795.3 460.5,796.0 448.0,796.2 429.2,796.1 419.2,795.8 409.2,795.1 400.5,794.3 393.0,793.2 386.8,791.8 383.0,790.6 379.2,788.8 376.3,786.8 373.8,784.2 372.9,783.0 371.6,780.5 370.9,778.0 370.8,775.5 371.2,773.0 372.1,770.5 373.6,768.0 375.5,765.6 378.0,763.2 379.9,761.8 385.9,758.0 396.0,753.0 415.8,744.2 429.2,738.8 436.8,736.2 443.0,734.5 449.2,733.1 456.8,732.0 470.5,730.9ZM518.5,841.8 520.5,840.6 520.5,896.7 515.5,896.9 509.2,896.4 479.1,891.8 459.2,888.3 454.2,887.7 449.2,887.4 444.2,887.6 440.5,888.1 423.0,891.7 413.5,893.0 405.5,893.6 398.0,894.0 390.5,894.1 385.5,893.9 379.2,893.0 375.6,891.8 373.2,890.5 371.6,889.2 370.5,888.0 369.9,886.8 369.5,885.5 369.6,884.2 370.1,883.0 371.1,881.8 372.7,880.5 374.2,879.7 376.8,878.8 379.2,878.3 381.8,878.0 385.5,877.8 404.2,878.2 434.2,877.6 441.8,877.0 445.5,876.3 449.2,875.3 456.8,872.5 468.0,867.4Z"/>
<path d="M507.4,730.5 514.2,730.1 520.5,729.4 520.5,791.0 505.5,791.7 475.5,794.3 461.8,795.1 450.5,795.3 433.0,795.2 423.0,795.0 414.2,794.5 404.2,793.5 396.8,792.5 390.5,791.2 385.5,789.7 381.6,788.0 378.0,785.5 375.7,783.0 374.3,780.4 373.5,778.0 373.3,775.5 373.7,773.0 374.7,770.5 376.2,768.0 378.0,765.8 379.6,764.2 382.8,761.8 388.9,758.0 401.5,751.8 416.8,744.9 429.2,739.9 436.8,737.3 443.0,735.5 449.2,734.2 456.8,733.1 469.2,732.1ZM518.4,843.0 520.5,841.8 520.5,895.5 515.5,895.7 509.2,895.1 490.1,891.8 477.5,889.2 472.2,888.0 463.6,885.5 460.2,884.2 457.6,883.0 455.9,881.8 455.4,880.5 455.7,879.2 456.6,878.0 459.6,875.5 463.4,873.0 474.0,866.8 489.6,858.0ZM382.8,883.0 385.5,882.5 389.2,882.3 414.2,882.9 418.0,883.3 421.3,884.2 421.3,885.5 418.9,886.8 414.1,888.0 409.2,888.7 404.0,889.2 399.2,889.5 391.8,889.7 388.0,889.5 385.4,889.2 383.0,888.6 381.5,888.0 380.1,886.8 379.7,885.5 380.4,884.2Z"/>
<path d="M520.2,730.5 520.5,730.5 520.5,789.9 505.5,790.6 475.5,793.4 461.8,794.2 450.5,794.4 434.2,794.3 425.5,794.1 416.8,793.6 408.0,792.8 400.1,791.8 393.8,790.5 388.0,788.8 383.4,786.8 380.5,784.8 378.0,782.1 376.5,779.2 376.2,778.0 375.9,775.5 376.3,773.0 377.2,770.5 378.8,768.0 380.5,766.0 382.4,764.2 385.7,761.8 389.7,759.2 394.2,756.8 406.9,750.5 421.8,743.9 434.2,739.2 440.5,737.3 446.8,735.7 453.0,734.6 459.2,733.9 470.5,733.1 509.2,731.5ZM518.4,844.2 520.5,843.0 520.5,894.3 515.5,894.4 509.2,893.7 492.8,890.5 482.2,888.0 475.5,886.0 471.2,884.2 468.0,882.3 467.3,881.8 466.3,880.5 465.8,879.3 465.9,878.0 466.4,876.8 467.2,875.5 469.7,873.0 474.5,869.2 482.1,864.2 492.7,858.0Z"/>
<path d="M518.7,731.8 520.5,731.5 520.5,788.8 505.5,789.6 475.5,792.4 463.0,793.2 451.8,793.5 438.0,793.5 428.0,793.3 419.2,792.8 410.5,792.0 403.0,790.9 395.5,789.4 390.7,788.0 386.8,786.3 383.4,784.2 380.8,781.8 380.0,780.5 379.2,779.0 378.7,776.8 378.7,774.2 379.2,772.1 379.9,770.5 381.6,768.0 383.0,766.4 385.3,764.2 388.6,761.8 392.6,759.2 397.1,756.8 409.5,750.5 423.0,744.5 434.2,740.3 440.5,738.3 446.8,736.8 453.0,735.7 459.2,734.9 470.5,734.2 509.2,732.6ZM518.4,845.5 520.5,844.3 520.5,893.2 515.5,893.2 510.5,892.6 500.4,890.5 490.4,888.0 484.2,886.1 479.5,884.2 476.8,882.8 475.3,881.8 474.0,880.5 473.2,879.2 472.9,878.0 473.0,876.8 473.4,875.5 474.1,874.2 476.2,871.8 480.5,868.0 485.7,864.2 493.6,859.2 502.3,854.2Z"/>
<path d="M517.0,733.0 520.5,732.5 520.5,787.7 505.5,788.5 475.5,791.5 463.0,792.3 453.0,792.5 440.5,792.6 430.5,792.4 421.8,792.0 413.0,791.2 405.5,790.1 399.2,788.8 393.0,787.0 389.2,785.4 387.2,784.2 385.5,783.0 383.1,780.5 381.9,778.0 381.6,776.8 381.5,774.2 382.2,771.8 383.0,770.0 384.4,768.0 386.8,765.5 391.6,761.8 399.8,756.8 412.1,750.5 424.2,745.1 435.5,740.9 441.8,739.0 446.8,737.9 453.0,736.8 459.2,736.0 470.5,735.2 508.0,733.7ZM520.5,845.5 520.5,892.0 516.8,892.0 511.8,891.5 506.8,890.4 497.4,888.0 491.8,886.2 486.6,884.2 483.0,882.4 480.6,880.5 479.5,879.2 479.0,878.0 478.7,876.8 478.9,875.5 479.3,874.2 480.8,871.8 484.5,868.0 489.2,864.2 496.6,859.2 505.0,854.2Z"/>
<path d="M515.2,734.2 520.5,733.6 520.5,786.7 505.5,787.5 475.5,790.5 463.0,791.3 454.2,791.6 443.0,791.6 433.0,791.5 424.2,791.1 416.8,790.5 409.2,789.5 403.0,788.3 397.5,786.8 393.0,785.0 389.4,783.0 387.8,781.8 386.5,780.5 385.0,778.0 384.6,776.8 384.5,774.2 384.7,773.0 385.6,770.5 386.8,768.8 388.4,766.8 391.1,764.2 394.5,761.8 402.6,756.8 414.7,750.5 426.0,745.5 435.5,742.0 441.8,740.1 446.8,738.9 453.0,737.8 459.2,737.0 469.2,736.3 505.5,734.9ZM520.5,846.8 520.5,890.8 516.8,890.7 511.8,890.1 506.8,888.9 499.5,886.8 494.2,884.8 490.2,883.0 486.8,880.8 485.2,879.2 484.4,878.0 483.9,876.8 483.8,875.5 484.0,874.2 484.5,873.0 486.0,870.5 489.5,866.8 494.1,863.0 499.5,859.2 507.6,854.2Z"/>
<path d="M513.2,735.5 520.5,734.6 520.5,785.6 505.5,786.4 475.5,789.5 463.0,790.4 454.2,790.7 444.2,790.7 433.0,790.5 425.5,790.2 418.0,789.5 410.5,788.4 404.2,787.1 398.9,785.5 395.5,784.1 391.6,781.8 390.2,780.5 389.1,779.2 387.8,776.8 387.6,775.5 387.7,773.0 388.1,771.8 389.4,769.3 390.3,768.0 392.6,765.5 397.3,761.8 405.2,756.8 414.7,751.8 425.7,746.8 435.7,743.0 441.8,741.2 446.8,740.0 453.0,738.9 459.2,738.1 469.2,737.4 500.5,736.2ZM518.5,849.2 520.5,848.0 520.5,889.5 518.0,889.5 514.2,889.1 510.5,888.4 506.8,887.3 498.4,884.2 494.2,882.2 491.7,880.5 490.3,879.2 489.4,878.0 488.7,876.8 488.4,875.5 488.4,874.2 489.2,871.8 489.9,870.5 491.8,868.0 495.7,864.2 500.5,860.5 508.1,855.5Z"/>
<path d="M511.1,736.8 520.5,735.7 520.5,784.5 513.0,784.8 504.2,785.4 475.5,788.5 464.2,789.4 446.8,789.8 436.8,789.7 428.0,789.3 420.5,788.7 414.2,787.8 408.8,786.8 403.0,785.1 399.2,783.7 395.6,781.8 394.0,780.5 392.7,779.2 391.8,778.0 391.2,776.8 390.8,775.5 390.8,773.0 391.1,771.8 392.4,769.2 393.3,768.0 395.5,765.5 400.1,761.8 403.7,759.2 407.9,756.8 417.3,751.8 426.8,747.5 435.5,744.1 441.8,742.2 446.8,741.0 453.0,739.9 459.2,739.2 469.2,738.5ZM518.6,850.5 520.5,849.3 520.5,888.3 515.5,887.9 510.5,886.8 506.6,885.5 500.8,883.0 498.0,881.4 495.1,879.2 494.0,878.0 493.2,876.8 492.7,875.5 492.6,874.2 493.0,871.8 494.3,869.2 496.3,866.8 498.8,864.2 501.7,861.8 506.8,858.0Z"/>
<path d="M520.5,736.8 520.5,783.4 513.0,783.7 504.2,784.4 475.5,787.5 464.2,788.4 455.5,788.7 446.8,788.8 436.8,788.7 429.2,788.3 421.8,787.7 415.5,786.8 409.7,785.5 405.5,784.2 401.8,782.8 397.9,780.5 396.5,779.2 395.4,778.0 394.6,776.8 394.2,775.5 394.0,774.2 394.3,771.8 394.7,770.5 396.2,768.0 399.7,764.2 404.6,760.5 412.7,755.5 420.5,751.5 430.5,747.1 439.2,744.0 444.2,742.7 449.2,741.6 454.2,740.8 460.5,740.1 470.5,739.5 508.0,738.0 514.2,737.6ZM518.8,851.8 520.5,850.7 520.5,886.9 516.8,886.6 511.8,885.5 508.2,884.2 504.2,882.4 501.1,880.5 498.3,878.0 497.4,876.8 496.8,875.5 496.5,874.2 496.7,871.8 497.7,869.2 499.4,866.8 501.8,864.3 504.5,861.8 507.7,859.2Z"/>
<path d="M519.5,738.0 520.5,737.8 520.5,782.3 513.0,782.6 504.2,783.2 475.5,786.5 464.2,787.4 448.0,787.8 431.8,787.4 424.2,786.8 418.0,785.9 413.0,784.8 408.0,783.4 404.1,781.8 401.9,780.5 400.5,779.4 399.0,778.0 398.1,776.8 397.5,775.5 397.2,774.2 397.4,771.8 397.8,770.5 399.2,768.0 400.1,766.8 402.5,764.2 407.3,760.5 411.0,758.0 415.3,755.5 422.5,751.8 431.2,748.0 439.2,745.2 444.2,743.8 449.2,742.7 454.2,741.9 460.5,741.2 470.5,740.6 508.0,739.2 514.2,738.7ZM519.1,853.0 520.5,852.1 520.5,885.6 516.8,885.1 513.2,884.2 509.9,883.0 506.8,881.4 503.7,879.2 501.8,877.3 500.7,875.5 500.2,874.2 500.1,873.0 500.2,871.8 501.0,869.3 502.5,866.8 504.6,864.2 507.2,861.8 510.3,859.2Z"/>
<path d="M518.8,739.2 520.5,739.0 520.5,781.1 513.0,781.4 503.0,782.2 475.5,785.4 464.2,786.4 449.2,786.8 433.0,786.4 426.8,785.9 420.5,785.0 415.5,784.0 410.5,782.5 406.8,780.8 404.2,779.2 402.7,778.0 401.7,776.8 401.0,775.5 400.5,774.2 400.4,773.0 400.5,771.8 400.8,770.5 402.1,768.0 403.0,766.8 405.3,764.2 409.9,760.5 413.7,758.0 417.9,755.5 425.3,751.8 433.0,748.5 440.5,745.9 445.5,744.6 450.5,743.6 460.5,742.3 470.5,741.7 506.8,740.4 513.0,740.0ZM519.5,854.2 520.5,853.6 520.5,884.1 518.0,883.8 514.9,883.0 511.8,881.8 509.4,880.5 506.8,878.5 505.1,876.8 504.2,875.4 503.5,873.0 503.5,871.8 504.1,869.2 505.5,866.8 507.4,864.2 509.9,861.8 512.8,859.2Z"/>
<path d="M518.2,740.5 520.5,740.1 520.5,780.0 513.0,780.3 503.0,781.1 476.5,784.2 465.5,785.2 451.8,785.7 436.8,785.5 429.2,784.9 423.7,784.2 418.0,783.1 413.5,781.8 409.2,779.8 406.5,778.0 405.3,776.8 404.4,775.5 403.9,774.2 403.6,773.0 403.7,771.8 403.9,770.5 405.0,768.0 405.9,766.8 408.1,764.2 412.6,760.5 418.4,756.8 425.5,753.0 434.2,749.2 441.7,746.8 446.8,745.5 451.8,744.5 461.8,743.3 470.5,742.8 506.8,741.6 513.0,741.2ZM520.1,855.5 520.5,855.2 520.5,882.5 518.0,882.0 515.5,881.3 513.0,880.1 510.5,878.5 508.6,876.8 507.8,875.5 507.1,874.2 506.7,871.8 506.8,870.5 507.6,868.0 508.3,866.8 510.1,864.2 513.8,860.5Z"/>
<path d="M517.9,741.8 520.5,741.3 520.5,778.7 513.0,779.0 503.0,779.8 475.5,783.2 465.5,784.2 451.8,784.7 438.0,784.4 430.5,783.8 424.4,783.0 419.2,781.8 415.5,780.6 412.5,779.2 410.5,778.0 409.2,776.9 408.0,775.5 407.3,774.2 406.9,773.0 406.8,771.8 407.0,770.5 407.4,769.2 408.8,766.8 410.9,764.2 415.4,760.5 421.1,756.8 428.0,753.2 434.2,750.5 441.8,747.9 446.8,746.6 451.8,745.7 461.8,744.4 470.5,744.0 505.5,742.9 513.0,742.4ZM519.2,858.0 520.5,857.0 520.5,880.8 518.0,880.1 515.9,879.2 513.0,877.4 511.2,875.5 510.5,874.3 510.0,873.0 509.8,871.8 510.1,869.2 510.5,868.0 511.9,865.5 515.1,861.8Z"/>
<path d="M517.9,743.0 520.5,742.5 520.5,777.5 513.0,777.8 503.0,778.6 475.5,782.1 466.2,783.0 454.2,783.5 441.8,783.4 435.0,783.0 429.2,782.4 425.5,781.7 420.5,780.5 416.8,779.1 414.7,778.0 413.0,776.8 411.7,775.5 410.8,774.2 410.3,773.0 410.1,771.8 410.2,770.5 410.5,769.2 411.7,766.8 413.8,764.2 418.2,760.5 424.0,756.8 429.2,754.0 436.7,750.8 443.0,748.8 451.8,746.9 461.8,745.6 470.5,745.2 493.0,744.6 505.5,744.2 513.0,743.7ZM520.2,859.2 520.5,859.0 520.5,878.8 518.0,877.8 516.3,876.8 514.9,875.5 513.9,874.2 513.3,873.0 513.0,871.8 512.9,870.5 513.4,868.0 514.6,865.5 516.5,863.0Z"/>
<path d="M518.2,744.2 520.5,743.8 520.5,776.2 513.0,776.4 503.0,777.2 493.0,778.4 476.8,780.7 466.8,781.8 455.5,782.4 443.0,782.2 436.8,781.8 431.8,781.3 427.0,780.5 422.4,779.2 419.2,778.0 417.1,776.8 415.6,775.5 414.2,773.8 413.8,773.0 413.5,771.8 413.4,770.5 413.6,769.2 414.1,768.0 415.6,765.5 418.0,763.0 422.8,759.2 429.2,755.5 434.3,753.2 440.5,750.9 445.5,749.4 453.0,747.9 463.0,746.8 471.8,746.4 491.8,746.0 504.2,745.6 511.8,745.1ZM520.2,861.8 520.5,861.4 520.5,876.3 519.1,875.5 517.7,874.2 516.8,872.9 516.3,871.8 516.1,870.5 516.1,869.2 516.8,866.8 518.2,864.2Z"/>
<path d="M519.0,745.5 520.5,745.2 520.5,774.8 511.8,775.0 501.8,776.0 491.8,777.2 476.8,779.5 467.5,780.5 456.8,781.1 446.8,781.1 439.2,780.7 434.2,780.2 429.2,779.3 425.5,778.3 421.8,776.8 419.8,775.5 418.0,773.7 417.0,771.8 416.8,770.5 416.9,769.2 417.9,766.8 419.7,764.2 421.0,763.0 424.0,760.5 430.1,756.8 435.3,754.2 441.8,751.9 446.5,750.5 454.2,749.0 463.0,748.0 471.8,747.7 491.8,747.4 504.2,747.0 513.0,746.4ZM520.3,865.5 520.5,865.2 520.5,872.6 520.0,871.8 519.5,870.5 519.3,869.3 519.5,868.0Z"/>
<path d="M520.1,746.8 520.5,746.6 520.5,773.3 511.8,773.5 501.8,774.4 491.8,775.8 476.8,778.1 466.9,779.2 456.8,779.8 448.0,779.8 441.8,779.5 436.8,778.9 431.8,778.1 428.0,777.0 424.5,775.5 422.7,774.2 421.4,773.0 420.7,771.8 420.4,770.5 420.3,769.2 420.6,768.0 421.9,765.5 424.1,763.0 427.2,760.5 431.2,758.0 436.2,755.5 441.8,753.3 447.2,751.8 454.2,750.4 463.0,749.4 471.8,749.1 493.0,748.9 505.5,748.5 514.2,747.8Z"/>
<path d="M516.1,749.2 520.5,748.3 520.5,771.7 513.0,771.7 503.0,772.6 494.2,773.7 475.9,776.8 468.0,777.7 459.2,778.3 451.8,778.4 441.8,777.9 436.8,777.2 433.0,776.4 430.2,775.5 427.6,774.2 425.5,772.6 424.8,771.8 424.3,770.5 424.1,769.2 424.2,768.0 425.4,765.5 427.6,763.0 430.7,760.5 434.9,758.0 439.2,756.0 443.9,754.2 448.3,753.0 455.5,751.6 464.2,750.8 473.0,750.5 491.8,750.6 501.8,750.4 510.5,750.0Z"/>
<path d="M519.2,750.5 520.5,750.1 520.5,769.8 514.2,769.6 506.8,770.1 496.8,771.4 471.8,775.7 463.0,776.6 454.2,776.9 449.2,776.8 444.2,776.4 439.2,775.7 435.5,774.8 433.0,773.9 430.5,772.5 429.6,771.8 428.7,770.5 428.2,769.2 428.2,768.0 428.5,766.8 429.2,765.5 431.3,763.0 434.6,760.5 439.1,758.0 441.9,756.8 446.8,755.1 451.8,753.9 459.2,752.8 468.0,752.2 494.2,752.5 506.8,752.2 514.2,751.5Z"/>
<path d="M518.6,753.0 520.5,752.4 520.5,767.5 514.2,767.1 506.8,767.6 498.0,768.8 477.4,773.0 471.8,773.9 463.0,774.9 455.5,775.2 450.5,775.0 445.5,774.6 441.8,773.9 438.3,773.0 435.6,771.8 434.0,770.5 433.1,769.2 432.8,768.0 433.0,766.8 433.5,765.5 434.4,764.2 436.8,762.1 439.0,760.5 441.8,759.1 445.5,757.5 449.2,756.4 454.2,755.3 461.8,754.3 469.2,754.0 478.0,754.2 495.5,754.9 506.8,754.8 513.0,754.3 515.5,753.8Z"/>
<path d="M458.3,756.8 466.8,756.2 476.8,756.5 491.9,758.0 506.8,759.8 509.2,759.9 510.5,759.8 514.2,758.6 520.5,755.6 520.5,764.3 513.0,762.3 509.2,762.1 506.8,762.6 503.0,763.5 483.0,769.2 478.1,770.5 471.9,771.8 465.5,772.6 460.5,773.0 454.2,773.1 449.2,772.7 444.4,771.8 441.8,770.8 440.5,770.1 439.4,769.3 438.6,768.0 438.4,766.8 438.7,765.5 439.6,764.3 440.8,763.0 442.5,761.8 444.7,760.5 447.7,759.2 451.7,758.0Z"/>
<path d="M460.7,759.3 468.0,759.0 471.8,759.3 475.5,759.8 478.7,760.5 480.5,761.2 481.7,761.8 482.7,763.0 482.2,764.2 480.6,765.5 478.1,766.8 474.6,768.0 469.5,769.2 464.2,770.0 459.2,770.3 455.5,770.2 451.8,769.8 449.5,769.2 447.0,768.0 446.0,766.8 445.9,765.5 446.6,764.2 448.1,763.0 450.3,761.8 451.8,761.2 455.5,760.1Z"/>
</g>
<path d="M392.2,790.5H520.5" stroke="#3ce696" stroke-width="1" stroke-dasharray="8 2" fill="none" shape-rendering="crispEdges" clip-path="url(#lblclip)"/>
<g id="clabels" style="font-size:12px">
<text transform="translate(420.8,687.0) rotate(0)" x="0" y="4.3" text-anchor="middle" style="fill:#101020">0.4</text>
<text transform="translate(340.8,707.6) rotate(-20)" x="0" y="4.3" text-anchor="middle" style="fill:#101020">0.2</text>
<text transform="translate(402.4,702.9) rotate(0)" x="0" y="4.3" text-anchor="middle" style="fill:#101020">0.2</text>
<text transform="translate(378.5,735.4) rotate(-20)" x="0" y="4.3" text-anchor="middle" style="fill:#101020">0.2</text>
<text transform="translate(374.7,754.2) rotate(-40)" x="0" y="4.3" text-anchor="middle" style="fill:#101020">0.4</text>
<text transform="translate(426.5,743.9) rotate(-15)" x="0" y="4.3" text-anchor="middle" style="fill:#101020">0.6</text>
<text transform="translate(464.8,726.0) rotate(-3)" x="0" y="4.3" text-anchor="middle" style="fill:#101020">0.4</text>
<text transform="translate(492.0,746.3) rotate(0)" x="0" y="4.3" text-anchor="middle" style="fill:#101020">0.8</text>
<text transform="translate(421.8,778.2) rotate(25)" x="0" y="4.3" text-anchor="middle" style="fill:#101020">0.8</text>
<text transform="translate(421.8,792.3) rotate(0)" x="0" y="4.3" text-anchor="middle" style="fill:#101020">0.6</text>
<text transform="translate(420.0,801.7) rotate(0)" x="0" y="4.3" text-anchor="middle" style="fill:#101020">0.4</text>
<text transform="translate(413.3,812.1) rotate(0)" x="0" y="4.3" text-anchor="middle" style="fill:#101020">0.2</text>
<text transform="translate(484.5,832.1) rotate(-50)" x="0" y="4.3" text-anchor="middle" style="fill:#101020">0.2</text>
<text transform="translate(505.1,841.0) rotate(-25)" x="0" y="4.3" text-anchor="middle" style="fill:#101020">0.4</text>
<text transform="translate(509.9,851.2) rotate(-25)" x="0" y="4.3" text-anchor="middle" style="fill:#101020">0.6</text>
<text transform="translate(393.5,852.7) rotate(3)" x="0" y="4.3" text-anchor="middle" style="fill:#101020">0.2</text>
<text transform="translate(410.5,866.4) rotate(0)" x="0" y="4.3" text-anchor="middle" style="fill:#101020">0.4</text>
</g>
<polygon points="421.5,824.8 422.9,828.9 427.2,829.0 423.8,831.6 425.0,835.7 421.5,833.2 418.0,835.7 419.2,831.6 415.8,829.0 420.1,828.9" fill="#000"/>
<rect class="fr" x="300.5" y="680.5" width="220.0" height="220.0"/>
<path class="ln" d="M300.5,679.0v-7M300.5,902.0v7M307.8,679.0v-3.3M307.8,902.0v3.3M315.2,679.0v-3.3M315.2,902.0v3.3M322.5,679.0v-3.3M322.5,902.0v3.3M329.8,679.0v-3.3M329.8,902.0v3.3M337.2,679.0v-7M337.2,902.0v7M344.5,679.0v-3.3M344.5,902.0v3.3M351.8,679.0v-3.3M351.8,902.0v3.3M359.2,679.0v-3.3M359.2,902.0v3.3M366.5,679.0v-3.3M366.5,902.0v3.3M373.8,679.0v-7M373.8,902.0v7M381.2,679.0v-3.3M381.2,902.0v3.3M388.5,679.0v-3.3M388.5,902.0v3.3M395.8,679.0v-3.3M395.8,902.0v3.3M403.2,679.0v-3.3M403.2,902.0v3.3M410.5,679.0v-7M410.5,902.0v7M417.8,679.0v-3.3M417.8,902.0v3.3M425.2,679.0v-3.3M425.2,902.0v3.3M432.5,679.0v-3.3M432.5,902.0v3.3M439.8,679.0v-3.3M439.8,902.0v3.3M447.2,679.0v-7M447.2,902.0v7M454.5,679.0v-3.3M454.5,902.0v3.3M461.8,679.0v-3.3M461.8,902.0v3.3M469.2,679.0v-3.3M469.2,902.0v3.3M476.5,679.0v-3.3M476.5,902.0v3.3M483.8,679.0v-7M483.8,902.0v7M491.2,679.0v-3.3M491.2,902.0v3.3M498.5,679.0v-3.3M498.5,902.0v3.3M505.8,679.0v-3.3M505.8,902.0v3.3M513.2,679.0v-3.3M513.2,902.0v3.3M520.5,679.0v-7M520.5,902.0v7M299.0,680.5h-7M522.0,680.5h7M299.0,692.7h-3.3M522.0,692.7h3.3M299.0,704.9h-3.3M522.0,704.9h3.3M299.0,717.2h-7M522.0,717.2h7M299.0,729.4h-3.3M522.0,729.4h3.3M299.0,741.6h-3.3M522.0,741.6h3.3M299.0,753.8h-7M522.0,753.8h7M299.0,766.1h-3.3M522.0,766.1h3.3M299.0,778.3h-3.3M522.0,778.3h3.3M299.0,790.5h-7M522.0,790.5h7M299.0,802.7h-3.3M522.0,802.7h3.3M299.0,814.9h-3.3M522.0,814.9h3.3M299.0,827.2h-7M522.0,827.2h7M299.0,839.4h-3.3M522.0,839.4h3.3M299.0,851.6h-3.3M522.0,851.6h3.3M299.0,863.8h-7M522.0,863.8h7M299.0,876.1h-3.3M522.0,876.1h3.3M299.0,888.3h-3.3M522.0,888.3h3.3M299.0,900.5h-7M522.0,900.5h7"/>
<text class="h14" x="284" y="687.2" text-anchor="end">90</text>
<text class="h14" x="284" y="723.9" text-anchor="end">60</text>
<text class="h14" x="284" y="760.5" text-anchor="end">30</text>
<text class="h14" x="284" y="797.2" text-anchor="end">0</text>
<text class="h14" x="284" y="833.9" text-anchor="end">-30</text>
<text class="h14" x="284" y="870.5" text-anchor="end">-60</text>
<text class="h14" x="284" y="907.2" text-anchor="end">-90</text>
<text class="h14" x="300.5" y="928" text-anchor="middle">0.0</text>
<text class="h14" x="337.2" y="928" text-anchor="middle">0.5</text>
<text class="h14" x="373.8" y="928" text-anchor="middle">1.0</text>
<text class="h14" x="410.5" y="928" text-anchor="middle">1.5</text>
<text class="h14" x="447.2" y="928" text-anchor="middle">2.0</text>
<text class="h14" x="483.8" y="928" text-anchor="middle">2.5</text>
<text class="h14" x="520.5" y="928" text-anchor="middle">3.0</text>
<text class="tb" style="font-size:15.3px" x="410.6" y="667" text-anchor="middle" textLength="234.4" lengthAdjust="spacing"><tspan style="font-family:'DejaVu Serif','Liberation Serif',serif;font-weight:normal">ϕ</tspan>= -33.0 +/- 5.5° <tspan style="font-weight:normal">δ</tspan>t= 1.65 +/-0.30s</text>
<text class="tb" style="font-size:15.6px" x="410.45" y="954.6" text-anchor="middle" textLength="120" lengthAdjust="spacing">Splitting time (s)</text>
<text class="tb" style="font-size:15.6px" transform="translate(247.2,789.5) rotate(-90)" text-anchor="middle" textLength="162" lengthAdjust="spacing">Fast direction (degree)</text>
<text class="h14" x="409.95" y="980.3" text-anchor="middle" textLength="408.7" lengthAdjust="spacing">Ror= 5.90; Rot= 3.01; Rct= 1.87; Rct/Rot= 0.62</text>
</svg></body></html>
